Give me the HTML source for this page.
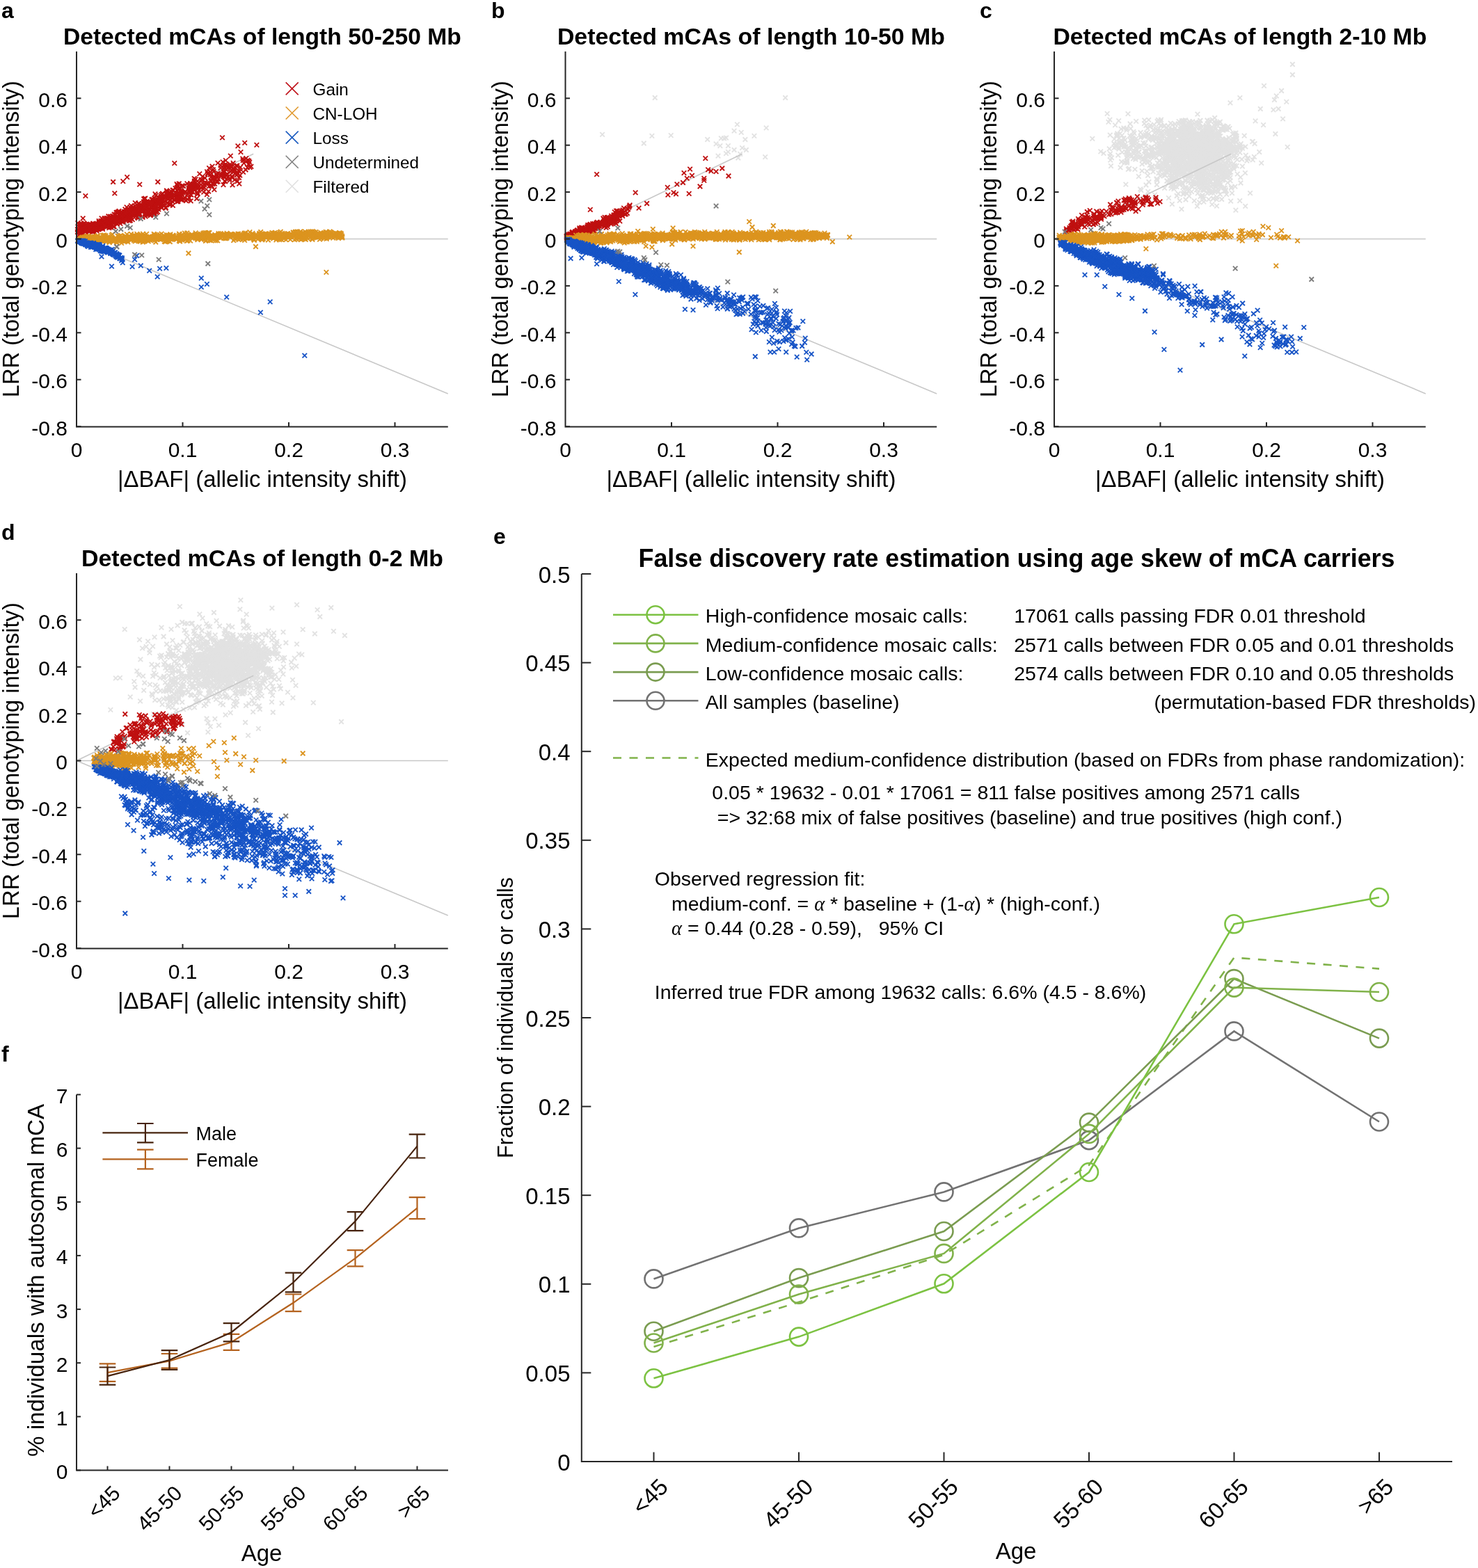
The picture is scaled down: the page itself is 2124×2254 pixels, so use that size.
<!DOCTYPE html>
<html><head><meta charset="utf-8"><style>
html,body{margin:0;padding:0;background:#fff;}
svg{display:block;}
text{font-family:'Liberation Sans', Arial, Helvetica, sans-serif;}
</style></head><body>
<svg width="2124" height="2254" viewBox="0 0 2124 2254">
<rect width="2124" height="2254" fill="#fff"/>
<defs><marker id="mgain" markerWidth="10" markerHeight="10" refX="5" refY="5" markerUnits="userSpaceOnUse" overflow="visible" orient="0"><path d="M1.75 1.75L8.25 8.25M8.25 1.75L1.75 8.25" stroke="#bf1010" stroke-width="1.8" fill="none"/></marker><marker id="mcnloh" markerWidth="10" markerHeight="10" refX="5" refY="5" markerUnits="userSpaceOnUse" overflow="visible" orient="0"><path d="M1.75 1.75L8.25 8.25M8.25 1.75L1.75 8.25" stroke="#dc941f" stroke-width="1.8" fill="none"/></marker><marker id="mloss" markerWidth="10" markerHeight="10" refX="5" refY="5" markerUnits="userSpaceOnUse" overflow="visible" orient="0"><path d="M1.75 1.75L8.25 8.25M8.25 1.75L1.75 8.25" stroke="#1754c6" stroke-width="1.8" fill="none"/></marker><marker id="mund" markerWidth="10" markerHeight="10" refX="5" refY="5" markerUnits="userSpaceOnUse" overflow="visible" orient="0"><path d="M1.75 1.75L8.25 8.25M8.25 1.75L1.75 8.25" stroke="#7c7c7c" stroke-width="1.8" fill="none"/></marker><marker id="mfilt" markerWidth="10" markerHeight="10" refX="5" refY="5" markerUnits="userSpaceOnUse" overflow="visible" orient="0"><path d="M1.75 1.75L8.25 8.25M8.25 1.75L1.75 8.25" stroke="#e2e2e2" stroke-width="1.8" fill="none"/></marker></defs>
<polyline points="941.2,140.5 1128.6,140.5 865.6,193.3 925.3,206.0 936.9,195.3 964.2,194.7 1016.7,200.5 1029.1,206.9 1036.3,198.8 1043.5,198.2 1034.9,209.7 1046.4,209.7 1055.1,188.1 1059.4,178.9 1065.2,190.4 1070.9,200.5 1083.9,195.3 1101.2,183.8 1055.1,215.5 1043.5,220.7 1032.0,224.2 1066.6,212.6 1072.4,215.5 1099.7,225.6 1063.7,221.3 1040.6,198.8 1046.4,218.4 1060.8,227.0" fill="none" stroke="none" marker-start="url(#mfilt)" marker-mid="url(#mfilt)" marker-end="url(#mfilt)"/>
<polyline points="1724.9,233.0 1719.5,206.3 1778.3,211.4 1684.6,247.2 1758.0,180.8 1737.8,210.4 1730.9,227.3 1717.1,192.8 1724.0,205.1 1700.8,191.4 1696.0,221.0 1726.6,205.3 1689.5,233.7 1749.4,238.4 1756.0,218.8 1646.7,210.2 1692.0,223.1 1735.8,219.0 1734.4,193.3 1732.0,239.4 1739.4,222.4 1747.2,233.7 1750.1,190.4 1772.3,235.5 1730.0,260.3 1750.1,230.2 1690.4,188.6 1726.2,218.5 1700.1,216.6 1762.8,222.2 1785.4,213.1 1742.4,227.8 1698.2,208.4 1726.7,222.4 1730.1,203.9 1734.1,219.8 1755.5,237.9 1752.3,207.9 1665.8,231.2 1762.2,199.9 1717.5,210.3 1716.0,213.0 1763.4,242.9 1723.0,202.3 1696.5,242.3 1697.6,188.2 1730.8,214.6 1751.2,236.2 1765.5,231.8 1725.3,197.4 1718.2,193.0 1768.4,235.4 1718.5,192.3 1764.4,229.4 1735.1,207.2 1735.1,217.5 1723.8,264.5 1736.6,249.0 1718.3,234.7 1713.2,189.9 1726.2,224.2 1713.8,218.8 1736.8,215.7 1731.5,244.7 1723.2,182.9 1724.7,224.1 1724.0,220.2 1771.2,202.5 1729.2,252.6 1715.2,192.0 1722.4,218.2 1745.3,219.3 1724.6,173.3 1725.8,188.7 1723.3,198.0 1733.4,233.6 1738.8,236.8 1740.1,229.7 1690.2,222.5 1703.8,173.1 1666.4,222.0 1748.7,207.2 1756.0,241.3 1760.6,244.9 1732.9,262.9 1757.0,232.0 1728.5,234.1 1726.5,196.7 1692.5,219.2 1710.7,192.6 1715.2,235.8 1751.5,193.4 1769.2,213.2 1718.2,201.0 1738.4,208.1 1736.0,226.8 1710.9,206.1 1688.1,222.0 1711.4,197.2 1695.0,245.8 1721.8,204.5 1726.0,238.1 1725.1,260.9 1741.0,197.4 1707.1,213.3 1750.7,241.3 1689.3,207.7 1730.9,225.2 1738.7,202.7 1710.4,228.9 1691.1,192.9 1744.7,234.5 1748.1,179.1 1747.8,254.4 1729.2,221.0 1729.3,199.3 1753.0,262.3 1738.4,238.8 1707.0,240.4 1733.4,208.9 1742.6,230.1 1734.2,227.8 1733.9,183.7 1725.8,229.5 1726.5,213.7 1707.0,243.6 1695.1,244.0 1756.3,204.3 1714.1,205.1 1734.7,221.3 1693.5,230.8 1733.1,209.0 1709.6,215.1 1800.3,229.9 1705.0,226.0 1706.3,241.1 1751.9,222.3 1756.5,199.3 1679.0,181.4 1735.4,234.0 1750.3,210.6 1700.1,210.3 1745.7,211.5 1716.7,185.3 1705.5,209.4 1721.0,164.2 1718.3,209.1 1696.1,199.1 1782.7,254.9 1718.5,226.5 1711.5,213.0 1749.7,220.7 1727.6,232.3 1761.1,201.9 1722.9,212.6 1737.7,210.1 1731.5,268.2 1733.3,218.8 1724.3,177.1 1726.8,233.7 1769.3,270.3 1713.1,197.7 1716.3,288.7 1721.1,216.0 1742.9,237.8 1738.9,205.7 1751.6,211.8 1697.4,192.0 1735.5,195.6 1725.1,173.3 1722.5,240.8 1733.2,193.7 1682.4,224.9 1735.8,224.1 1732.7,203.9 1695.3,218.3 1727.0,215.3 1766.2,207.1 1720.1,218.3 1743.4,218.3 1723.9,196.3 1710.0,190.6 1707.4,199.8 1719.9,219.7 1760.2,245.7 1748.7,247.5 1712.5,223.7 1753.1,236.7 1726.3,219.8 1712.9,240.0 1739.5,219.8 1707.6,225.3 1692.0,211.3 1760.1,217.1 1685.9,256.3 1742.2,192.5 1693.1,217.2 1728.6,205.0 1724.6,237.0 1718.9,254.6 1677.4,210.7 1728.5,229.9 1708.0,229.9 1727.7,182.3 1752.9,212.2 1712.3,215.8 1702.1,231.1 1738.4,226.2 1744.5,222.1 1788.2,195.2 1750.8,202.4 1739.6,204.0 1762.8,227.0 1705.8,196.7 1754.8,247.4 1716.5,224.9 1755.4,252.0 1735.0,220.3 1760.8,205.7 1695.1,219.2 1735.9,179.2 1717.0,221.0 1684.3,195.8 1751.6,245.1 1734.4,243.2 1706.2,209.9 1697.6,196.9 1708.9,236.4 1762.5,215.9 1727.1,221.4 1721.6,230.0 1741.2,194.6 1729.8,233.4 1735.0,173.0 1747.1,247.4 1737.4,184.3 1750.3,203.9 1701.4,203.0 1731.1,232.1 1721.3,232.4 1732.2,224.4 1728.7,228.2 1714.7,226.6 1721.5,215.4 1752.0,177.1 1743.7,215.8 1752.7,212.1 1723.4,213.9 1732.8,221.5 1710.1,211.9 1725.0,196.0 1755.9,185.5 1748.7,177.2 1733.3,242.1 1723.4,235.7 1691.5,188.5 1737.3,211.0 1740.7,225.9 1754.7,250.0 1777.3,204.2 1738.8,220.4 1752.4,240.9 1703.7,180.5 1758.3,201.4 1750.4,215.9 1762.0,201.6 1745.8,260.8 1740.6,234.8 1764.7,220.8 1714.4,196.6 1745.1,234.8 1755.5,229.9 1711.6,205.9 1703.0,207.6 1740.2,186.1 1733.0,215.0 1744.4,234.7 1745.2,237.5 1712.2,228.7 1738.1,233.8 1756.6,204.3 1721.9,206.8 1723.5,241.8 1703.8,226.0 1749.3,200.0 1775.9,227.1 1698.2,233.9 1748.1,231.3 1751.4,218.8 1717.2,205.8 1721.6,224.9 1705.8,251.9 1712.0,219.6 1734.2,202.6 1745.6,223.6 1733.1,190.8 1750.4,221.3 1735.1,210.3 1703.0,236.5 1764.3,218.7 1758.1,238.4 1713.8,264.5 1771.9,212.0 1741.4,199.1 1733.5,226.1 1775.3,214.7 1672.0,219.5 1692.9,203.9 1747.1,228.1 1724.7,217.9 1765.8,211.6 1741.9,223.4 1700.7,241.0 1715.1,204.4 1750.3,199.8 1772.3,240.4 1683.7,203.8 1736.4,218.6 1721.7,226.3 1689.7,231.8 1726.7,216.6 1693.1,193.3 1718.1,237.5 1768.5,207.4 1742.7,205.6 1749.0,258.2 1744.7,234.7 1739.0,194.4 1753.5,206.4 1703.4,211.3 1722.3,200.9 1750.7,176.6 1713.7,233.1 1720.5,232.5 1759.0,221.5 1766.7,208.1 1716.6,220.8 1711.7,229.7 1744.5,194.8 1737.2,209.5 1715.1,204.8 1744.8,230.9 1743.8,221.8 1732.8,189.4 1799.7,203.6 1762.7,253.1 1750.0,196.2 1754.9,219.5 1800.3,203.3 1756.7,242.2 1714.1,215.0 1738.5,207.3 1732.7,192.0 1717.7,211.3 1737.1,233.5 1736.9,230.3 1729.7,188.9 1719.6,248.7 1750.4,211.2 1693.6,194.5 1750.3,219.0 1731.2,203.4 1737.4,204.3 1675.3,203.2 1770.4,214.4 1690.4,205.9 1710.7,180.9 1746.1,227.1 1716.8,205.5 1721.5,241.0 1678.6,227.3 1720.8,229.0 1736.0,220.0 1747.0,243.1 1724.3,209.5 1736.2,195.7 1741.3,223.4 1713.4,208.6 1777.1,220.7 1711.1,207.6 1760.0,242.2 1732.7,230.7 1765.7,218.6 1716.1,207.9 1743.2,238.9 1738.8,202.2 1725.7,207.6 1738.4,231.6 1713.0,228.5 1729.2,258.3 1721.7,211.7 1749.0,177.3 1728.9,229.8 1698.3,242.2 1722.3,212.8 1728.8,248.4 1709.8,253.0 1762.4,202.4 1740.6,206.2 1750.9,190.3 1713.1,227.4 1721.7,231.0 1754.8,228.6 1697.4,190.7 1739.7,200.4 1733.2,186.6 1719.3,182.8 1733.2,188.3 1705.8,183.5 1736.4,212.3 1702.4,224.8 1701.0,229.0 1764.0,215.7 1714.6,202.2 1681.3,215.9 1754.0,227.8 1712.9,210.0 1648.1,217.2 1729.7,209.7 1752.9,205.2 1739.4,216.8 1771.6,193.0 1728.1,237.7 1745.2,183.8 1707.3,225.5 1735.0,188.0 1767.2,247.2 1743.0,233.9 1734.9,199.3 1684.5,206.8 1722.2,192.8 1700.7,214.8 1749.4,224.5 1713.7,268.7 1739.6,187.9 1707.5,241.6 1775.6,204.0 1703.4,221.7 1734.4,234.1 1793.2,227.2 1736.2,224.7 1710.5,211.9 1745.6,215.8 1754.5,219.1 1751.7,240.7 1684.6,185.8 1736.2,205.9 1680.9,190.3 1776.0,196.2 1732.8,199.6 1720.2,238.6 1747.0,260.1 1742.7,243.9 1703.1,191.6 1769.6,217.5 1725.4,192.6 1689.5,225.2 1764.3,242.1 1767.5,228.1 1760.9,233.9 1744.2,213.0 1710.0,175.5 1753.4,175.2 1775.2,214.0 1750.5,227.8 1769.1,242.1 1712.8,208.8 1755.4,217.5 1753.4,221.3 1695.8,237.8 1692.6,214.6 1714.1,193.5 1733.1,238.2 1742.0,224.4 1725.9,223.9 1729.7,189.9 1728.5,215.8 1733.3,180.7 1745.1,174.8 1743.0,211.1 1729.9,207.0 1737.4,227.7 1720.5,245.6 1750.2,215.3 1719.3,252.7 1770.3,203.9 1730.7,231.7 1737.8,190.0 1713.2,218.6 1723.1,209.5 1735.2,211.7 1731.7,228.1 1716.5,177.3 1703.6,218.4 1732.2,199.3 1734.9,218.4 1744.4,224.1 1761.0,208.4 1723.8,208.3 1683.8,192.3 1727.9,227.3 1687.3,202.2 1700.6,225.1 1755.8,186.7 1744.8,244.1 1715.9,195.0 1716.2,239.7 1729.2,206.8 1689.4,227.2 1742.8,213.0 1723.0,229.9 1775.2,216.1 1706.0,242.1 1755.3,229.8 1715.1,230.0 1755.7,250.3 1708.0,201.7 1748.8,242.7 1720.8,217.5 1711.6,185.7 1727.7,225.8 1742.7,211.8 1741.0,250.6 1769.0,205.9 1751.0,217.0 1668.4,220.8 1721.8,176.9 1683.7,226.4 1722.2,195.6 1746.2,244.9 1699.4,250.2 1703.1,215.8 1734.8,183.5 1724.5,219.7 1769.2,219.6 1739.1,230.8 1744.1,209.9 1773.2,191.6 1719.4,213.1 1731.3,197.0 1707.6,252.3 1737.5,201.5 1756.1,202.6 1764.1,215.0 1730.5,190.6 1714.4,206.9 1713.1,213.2 1698.0,206.0 1734.3,210.8 1763.9,241.5 1674.7,224.9 1679.3,188.6 1765.0,207.2 1692.9,231.3 1739.4,202.7 1701.3,217.7 1750.2,215.4 1750.2,226.8 1735.5,212.3 1751.2,213.1 1732.7,198.4 1745.0,223.4 1775.2,197.0 1757.8,251.5 1715.7,215.6 1712.3,211.4 1725.8,232.2 1726.1,214.3 1733.3,217.8 1717.1,214.9 1747.2,201.1 1732.5,197.1 1740.2,201.7 1731.8,239.2 1746.3,203.1 1702.9,207.7 1769.5,206.8 1739.9,230.3 1742.4,256.6 1746.3,197.1 1757.6,227.2 1749.3,218.4 1737.4,209.8 1727.3,226.3 1692.3,190.0 1736.9,233.1 1724.2,220.5 1724.2,195.6 1789.4,248.6 1687.2,233.4 1733.1,239.8 1760.9,186.2 1754.8,210.4 1761.5,205.3 1701.4,228.8 1708.8,243.7 1746.7,177.0 1724.7,216.4 1772.9,213.4 1737.3,236.5 1736.6,215.2 1742.5,190.0 1725.4,212.0 1734.8,194.8 1715.7,200.1 1731.0,216.9 1720.3,206.2 1738.1,221.7 1698.0,185.0 1696.2,263.5 1743.0,241.8 1737.4,230.7 1708.9,189.5 1706.8,198.3 1781.0,211.2 1694.5,261.6 1773.1,242.7 1712.3,205.3 1742.2,240.7 1725.8,241.0 1722.9,216.3 1754.5,240.9 1751.6,222.7 1725.1,202.6 1710.3,192.0 1781.8,213.5 1765.8,236.4 1735.5,188.3 1725.0,183.1 1739.1,227.2 1760.8,253.3 1709.0,207.0 1732.6,231.0 1713.3,254.0 1763.5,186.3 1775.4,194.5 1729.9,261.9 1745.1,210.2 1765.9,213.4 1725.0,220.6 1709.7,237.6 1757.1,243.1 1744.3,218.2 1727.2,209.1 1767.2,215.3 1737.8,222.2 1689.4,242.8 1740.5,218.8 1730.8,253.2 1777.3,198.5 1731.8,226.9 1727.2,251.9 1742.7,242.3 1738.1,222.8 1698.4,197.9 1735.1,201.4 1724.3,212.8 1765.9,222.4 1789.8,210.9 1705.4,186.2 1709.0,200.9 1712.0,226.6 1716.4,233.1 1715.6,187.4 1733.5,208.6 1758.4,181.8 1701.0,204.5 1695.3,288.4 1688.0,217.3 1758.7,208.9 1764.1,204.0 1695.4,191.3 1693.1,178.0 1735.4,215.1 1758.5,210.3 1756.6,246.2 1736.9,182.5 1748.6,224.9 1740.1,243.4 1718.9,176.0 1778.1,229.5 1732.2,183.1 1705.6,226.7 1721.0,246.2 1695.2,215.9 1732.7,221.9 1758.6,201.8 1701.9,221.9 1759.3,239.2 1782.5,212.3 1741.4,213.2 1704.5,224.0 1711.8,232.8 1724.2,182.5 1701.5,217.2 1702.3,202.0 1726.0,226.2 1727.9,237.2 1746.8,222.4 1703.5,242.4 1777.2,195.7 1757.8,207.7 1753.7,195.8 1716.6,217.2 1774.0,218.0 1724.0,212.0 1775.9,191.2 1758.0,214.4 1710.7,207.1 1721.4,228.4 1777.2,210.5 1756.3,239.8 1728.6,220.7 1737.2,178.0 1737.1,212.5 1713.7,186.8 1727.5,235.8 1716.4,245.4 1722.0,215.5 1743.5,225.1 1709.3,186.4 1734.9,204.7 1750.6,210.8 1753.7,185.1 1762.2,217.9 1747.4,222.4 1749.3,229.2 1728.0,247.7 1746.0,232.6 1710.6,208.5 1726.4,218.2 1750.3,228.3 1731.0,194.6 1743.0,243.2 1706.9,234.5 1765.2,211.4 1718.4,203.0 1741.8,293.9 1731.7,233.3 1754.7,235.3 1723.1,252.9 1708.2,236.1 1686.6,220.4 1724.9,230.5 1703.6,197.4 1745.1,230.7 1767.0,184.6 1678.8,224.8 1701.3,227.5 1739.7,184.2 1762.0,255.4 1739.6,192.6 1740.1,237.5 1744.4,205.3 1746.1,222.5 1771.8,202.7 1747.0,267.2 1702.4,237.3 1720.9,253.3 1737.3,232.3 1712.7,230.5 1726.0,219.4 1719.6,211.4 1715.4,228.8 1749.0,219.6 1722.9,213.2 1705.9,188.1 1715.0,210.1 1733.2,228.8 1783.2,206.7 1738.5,223.5 1768.0,213.5 1744.2,195.3 1680.4,197.9 1741.4,201.2 1711.7,210.5 1699.6,211.1 1706.3,239.4 1775.4,194.2 1694.2,174.6 1717.3,230.5 1760.2,207.1 1748.3,214.0 1691.0,268.7 1729.6,246.5 1719.8,228.6 1727.5,235.9 1699.6,192.5 1732.3,208.1 1671.2,211.8 1667.3,253.1 1676.8,203.8 1756.6,236.8 1755.7,208.3 1671.5,188.7 1740.3,223.8 1688.9,222.1 1737.0,190.4 1682.8,197.3 1732.4,199.1 1690.8,241.2 1684.0,229.2 1694.3,223.8 1701.4,229.9 1672.6,206.7 1641.9,229.6 1761.3,203.6 1679.9,186.2 1624.4,201.3 1606.8,223.2 1586.0,220.3 1671.4,243.5 1748.3,177.6 1631.6,212.9 1682.8,227.6 1623.7,195.0 1738.4,224.1 1709.6,208.3 1708.0,191.0 1748.1,245.1 1759.7,184.8 1735.7,242.2 1672.8,208.2 1643.7,195.6 1654.7,196.9 1627.0,200.5 1766.0,197.8 1688.0,224.6 1700.5,173.3 1703.2,247.9 1774.4,238.2 1673.5,251.5 1741.7,194.6 1689.6,203.2 1620.6,214.2 1731.5,225.5 1666.5,205.8 1677.6,216.2 1704.4,221.8 1699.3,181.0 1739.5,261.5 1669.4,191.3 1702.0,224.5 1706.5,244.1 1696.6,199.4 1722.2,218.3 1685.7,257.4 1742.8,211.5 1667.9,243.3 1639.3,225.2 1694.0,223.7 1741.8,235.5 1675.4,212.7 1671.1,213.2 1682.1,241.3 1702.1,224.6 1688.8,230.2 1707.8,189.6 1628.4,218.7 1754.3,247.4 1718.4,239.9 1662.0,226.6 1749.3,205.9 1713.2,203.6 1753.2,228.8 1649.6,252.4 1760.5,219.4 1697.4,249.6 1615.1,211.2 1725.1,247.2 1683.8,194.4 1656.0,222.8 1687.2,192.8 1619.6,234.2 1718.5,232.1 1687.2,195.6 1685.1,200.5 1751.0,207.7 1697.0,182.7 1669.8,196.2 1658.4,197.6 1693.2,237.1 1737.3,251.5 1672.9,207.7 1655.0,211.5 1731.7,223.5 1698.0,205.9 1694.6,211.7 1777.2,238.4 1648.1,223.9 1703.4,216.3 1626.1,204.6 1683.9,253.6 1718.6,203.7 1739.6,221.3 1645.9,193.6 1728.3,204.1 1726.3,220.6 1690.8,208.9 1791.9,231.2 1695.6,220.0 1661.1,185.2 1622.7,242.2 1756.6,204.4 1734.3,253.8 1680.0,218.7 1719.6,200.0 1716.6,231.7 1771.3,211.8 1671.5,218.6 1645.1,196.1 1616.0,233.6 1684.0,244.6 1634.2,205.7 1688.8,261.1 1711.6,204.7 1678.3,224.3 1658.6,179.1 1742.2,172.2 1687.8,268.7 1704.7,252.5 1732.8,245.8 1644.5,177.6 1659.5,223.7 1793.3,228.4 1689.4,220.2 1654.8,225.5 1685.6,196.3 1673.1,214.5 1647.5,191.0 1679.6,209.9 1694.8,227.2 1695.0,199.6 1716.6,211.7 1627.7,208.0 1637.0,218.7 1726.4,240.4 1678.2,224.0 1743.2,227.8 1707.5,183.8 1640.4,209.6 1716.6,237.9 1656.0,197.6 1705.7,207.9 1743.6,195.0 1778.2,250.2 1692.9,207.4 1722.9,200.8 1707.3,233.1 1726.5,244.6 1595.8,230.1 1680.4,241.8 1706.9,223.3 1713.9,215.1 1666.1,207.7 1727.8,206.0 1738.7,203.9 1698.3,227.0 1686.7,215.5 1681.6,220.3 1701.0,232.7 1741.7,216.9 1754.2,185.4 1677.2,199.2 1659.2,191.4 1664.6,172.5 1734.0,220.7 1704.2,189.5 1707.2,187.4 1714.4,192.4 1710.3,239.1 1690.8,210.7 1655.0,242.1 1671.5,216.0 1700.3,207.7 1710.9,231.7 1681.2,232.5 1679.4,220.9 1748.9,193.3 1677.4,207.2 1704.2,189.8 1683.2,212.0 1662.1,220.4 1636.4,253.7 1674.6,252.0 1663.6,234.4 1728.6,241.0 1650.8,223.6 1679.5,284.6 1721.1,254.7 1691.2,281.5 1714.9,227.2 1728.1,228.0 1631.0,243.3 1679.6,222.6 1658.2,225.5 1748.0,194.4 1691.0,240.6 1714.9,221.3 1761.6,237.5 1681.8,212.8 1698.5,175.5 1711.4,230.1 1685.2,246.0 1744.3,187.3 1727.3,194.8 1734.5,210.8 1697.4,212.1 1682.3,177.2 1681.8,260.2 1681.4,242.3 1631.9,203.2 1709.6,174.6 1727.1,226.7 1695.2,265.6 1676.3,237.9 1697.0,245.7 1704.3,195.4 1708.2,223.6 1765.1,182.0 1662.4,265.5 1709.6,231.7 1698.5,173.7 1686.4,229.5 1655.9,221.3 1672.6,210.5 1722.8,232.8 1751.6,266.2 1670.2,226.8 1713.7,174.7 1715.6,214.2 1734.4,186.5 1704.9,198.7 1712.6,225.8 1730.0,213.9 1650.6,192.4 1697.3,217.3 1627.5,198.3 1619.5,230.6 1663.8,212.1 1636.2,227.2 1715.0,211.4 1733.7,235.8 1683.7,214.6 1690.1,217.5 1686.4,204.3 1685.4,221.2 1700.6,175.2 1708.9,281.8 1677.6,201.4 1665.2,220.1 1675.4,206.4 1726.2,206.1 1679.2,227.4 1751.1,205.5 1686.1,207.5 1747.8,184.7 1649.6,195.6 1668.7,189.7 1713.7,260.9 1714.1,185.7 1689.3,191.9 1773.5,222.3 1698.1,252.0 1706.4,177.0 1673.5,180.5 1758.8,220.7 1728.1,225.8 1711.1,183.7 1632.7,174.4 1709.2,194.6 1677.5,235.6 1710.3,216.6 1730.2,235.5 1666.7,215.0 1703.6,216.8 1728.9,232.3 1701.5,214.7 1682.7,223.2 1654.8,195.7 1669.7,203.2 1646.8,228.8 1733.0,211.8 1699.2,199.6 1648.8,233.3 1695.1,230.7 1646.0,217.4 1569.8,199.3 1741.4,239.0 1740.0,277.4 1639.0,197.8 1667.8,180.5 1703.1,198.8 1680.6,195.1 1662.6,187.1 1675.6,189.1 1686.0,237.8 1674.1,238.1 1703.2,253.0 1686.4,235.4 1666.2,206.0 1696.1,243.5 1631.8,202.8 1750.2,209.1 1628.9,189.3 1692.0,246.9 1708.1,241.7 1710.9,206.3 1705.1,210.0 1743.3,218.2 1652.3,222.2 1692.5,237.7 1700.7,219.0 1676.2,227.0 1672.5,181.4 1744.1,210.1 1668.0,174.3 1676.9,260.1 1684.6,250.8 1687.0,234.5 1701.2,244.0 1687.2,265.4 1709.2,239.9 1700.2,179.1 1713.3,212.4 1662.9,197.8 1757.7,187.4 1677.9,217.1 1720.3,226.6 1701.1,195.0 1683.7,210.5 1620.5,224.0 1756.1,213.5 1666.2,212.9 1735.2,206.6 1697.8,236.2 1767.1,223.4 1758.7,181.6 1721.8,210.6 1704.5,223.6 1723.8,193.8 1645.0,233.3 1701.4,197.9 1700.5,209.2 1677.0,214.5 1704.5,270.6 1639.6,209.4 1729.0,203.4 1743.6,234.3 1645.8,205.8 1700.4,221.8 1710.7,224.3 1655.8,216.7 1657.5,186.2 1727.1,249.7 1764.2,211.4 1653.8,212.4 1696.2,185.6 1665.5,178.1 1684.0,203.5 1706.5,180.6 1693.2,228.9 1668.9,238.0 1774.3,201.9 1688.8,178.5 1687.9,207.6 1736.7,191.6 1695.2,221.1 1687.1,221.4 1730.6,206.8 1655.7,218.8 1723.0,242.0 1733.6,257.9 1719.8,204.5 1688.0,234.4 1694.5,211.3 1630.0,191.7 1689.8,247.8 1705.7,226.5 1727.4,220.4 1700.1,225.5 1680.1,213.1 1663.2,191.8 1693.0,259.6 1699.8,238.6 1740.3,223.3 1695.1,240.2 1675.9,247.9 1690.7,212.2 1676.5,231.1 1685.9,209.2 1611.7,232.5 1634.8,210.9 1649.8,275.4 1712.2,208.4 1691.8,229.4 1700.2,228.1 1738.4,209.0 1655.5,239.5 1737.7,215.0 1709.2,207.1 1667.8,217.0 1750.7,199.0 1641.1,245.7 1652.3,232.0 1686.9,240.6 1709.9,184.6 1687.5,223.5 1614.4,198.6 1683.5,219.1 1691.5,247.6 1790.3,223.2 1746.3,212.8 1699.3,243.9 1653.7,241.3 1707.5,261.4 1650.8,172.3 1702.3,224.9 1708.4,207.0 1679.6,196.0 1704.0,219.8 1682.2,189.1 1752.2,195.3 1716.4,210.7 1683.1,261.8 1665.8,199.7 1701.3,189.0 1726.6,208.6 1749.9,211.2 1711.9,220.6 1652.6,182.3 1770.8,198.7 1725.8,221.0 1744.7,179.3 1680.6,244.9 1675.4,229.1 1739.2,225.4 1650.3,225.4 1682.5,192.2 1751.5,242.8 1718.9,191.9 1680.1,262.9 1765.1,222.4 1644.7,172.8 1711.5,237.9 1686.0,264.4 1713.7,210.9 1684.2,242.6 1663.2,211.9 1702.5,202.0 1714.4,246.7 1682.5,206.4 1729.1,226.2 1677.7,189.8 1669.3,195.2 1709.4,243.9 1740.7,207.8 1616.9,207.4 1698.9,186.8 1717.9,222.1 1641.2,235.8 1661.5,206.0 1718.5,212.6 1663.5,187.8 1670.5,250.8 1758.8,202.2 1659.1,213.4 1662.1,257.6 1607.7,211.7 1653.4,179.8 1648.3,194.8 1758.6,208.5 1740.0,260.0 1647.0,222.5 1768.0,211.7 1723.2,237.1 1687.6,248.6 1724.7,198.9 1708.7,251.7 1665.7,237.9 1628.5,228.0 1694.2,221.9 1681.0,250.8 1666.6,210.6 1730.9,272.9 1654.5,219.0 1727.7,192.7 1676.3,231.6 1698.4,224.4 1652.3,237.4 1694.0,211.9 1665.0,248.8 1628.9,203.9 1693.6,220.5 1692.4,187.2 1725.4,198.0 1704.9,222.3 1656.3,201.5 1671.3,206.5 1601.2,212.4 1652.3,223.5 1742.9,235.9 1751.0,236.0 1722.8,242.2 1705.6,222.4 1716.3,204.2 1712.5,179.0 1629.3,209.0 1661.5,198.1 1738.7,173.4 1738.5,257.4 1703.2,172.9 1682.6,226.1 1679.8,230.9 1673.9,211.8 1659.5,280.2 1622.0,218.0 1699.8,198.9 1677.3,260.2 1686.2,198.0 1758.5,182.6 1716.4,193.1 1667.9,201.9 1716.0,218.6 1637.8,225.7 1733.7,180.5 1704.1,226.0 1686.9,271.7 1715.6,200.1 1748.9,214.3 1676.8,234.4 1657.1,246.8 1773.6,201.2 1694.8,194.1 1750.3,192.9 1668.8,244.1 1708.4,239.4 1683.8,187.3 1669.0,180.9 1752.5,227.4 1706.9,222.8 1617.9,265.2 1685.3,236.8 1659.7,220.4 1648.3,246.2 1672.2,195.7 1676.2,183.4 1695.4,218.3 1664.3,240.3 1624.1,178.0 1674.0,239.3 1727.2,238.4 1642.7,205.3 1717.4,221.6 1711.4,210.8 1677.2,219.4 1705.8,237.1 1665.9,197.9 1679.0,242.8 1655.6,238.7 1711.6,239.6 1745.7,169.5 1668.5,172.1 1739.2,234.3 1613.6,203.2 1660.7,200.6 1655.9,198.8 1759.0,184.7 1671.8,210.5 1723.5,199.9 1616.7,201.5 1698.4,229.1 1715.4,188.6 1692.6,244.9 1591.2,163.3 1700.7,278.6 1724.7,184.3 1744.0,231.7 1709.1,239.7 1630.2,217.4 1686.1,235.6 1728.2,214.8 1663.1,174.5 1715.4,225.9 1675.9,245.4 1697.5,204.0 1722.7,176.0 1667.2,202.7 1802.4,225.4 1699.8,224.8 1707.0,244.4 1665.9,231.1 1696.4,229.8 1638.7,271.9 1636.0,218.7 1704.9,238.5 1690.7,209.0 1594.3,213.8 1612.6,218.9 1682.3,256.0 1691.4,254.5 1717.1,232.6 1647.0,266.0 1716.5,207.8 1682.3,230.2 1674.7,206.4 1688.6,249.2 1731.4,218.4 1715.2,241.5 1727.8,259.7 1683.2,270.7 1649.8,225.4 1673.0,209.8 1676.3,210.2 1710.2,219.8 1722.8,213.5 1698.9,262.3 1734.8,209.6 1698.3,244.0 1730.7,246.3 1713.1,268.3 1721.9,211.6 1691.5,236.4 1646.9,180.4 1639.1,190.5 1768.4,211.0 1708.7,217.2 1710.9,187.9 1687.7,207.6 1676.6,235.0 1803.1,206.5 1651.4,214.0 1691.6,195.9 1692.0,251.7 1651.0,261.5 1645.7,222.8 1667.3,215.0 1680.9,258.7 1675.5,229.6 1724.9,201.3 1649.2,184.7 1709.4,203.3 1749.8,271.8 1727.9,203.2 1650.7,288.9 1581.8,217.8 1726.1,212.5 1712.9,250.4 1671.7,211.8 1742.7,227.2 1678.6,192.3 1698.1,187.2 1654.6,199.7 1706.1,223.4 1677.6,201.5 1735.0,229.6 1702.1,213.8 1637.2,211.0 1720.3,202.8 1662.4,257.0 1679.1,206.1 1696.0,230.9 1684.5,252.2 1698.7,245.7 1718.7,222.9 1675.3,218.2 1773.1,225.5 1666.9,240.3 1673.5,232.2 1768.8,206.9 1784.6,229.0 1695.4,227.3 1686.9,235.1 1653.2,223.0 1737.4,251.7 1700.6,222.9 1661.8,239.8 1709.4,219.0 1746.1,203.8 1720.1,194.7 1777.9,214.0 1738.1,231.2 1710.7,249.2 1692.8,215.8 1714.9,205.2 1740.3,205.5 1726.6,249.8 1734.1,220.6 1702.5,205.6 1723.1,236.2 1740.2,185.4 1687.7,220.8 1644.7,216.9 1759.6,214.7 1716.2,189.6 1677.3,242.1 1702.9,259.4 1684.6,185.4 1629.2,220.9 1687.0,233.9 1639.9,273.6 1701.7,207.7 1689.8,194.6 1737.1,217.9 1689.4,267.6 1708.2,219.7 1682.6,224.5 1679.6,261.7 1700.5,240.3 1671.9,237.1 1701.9,183.9 1678.2,230.7 1666.5,219.0 1703.5,223.3 1740.2,198.2 1683.8,206.8 1639.9,196.4 1670.6,219.3 1762.3,212.3 1663.2,259.4 1739.1,233.5 1684.9,179.3 1722.1,228.2 1690.0,253.2 1634.1,224.9 1678.3,244.7 1774.3,217.2 1689.0,235.3 1715.5,195.0 1681.2,237.4 1689.0,184.1 1706.3,249.8 1712.0,180.8 1693.4,231.1 1687.2,213.8 1668.9,220.8 1644.1,228.5 1632.9,217.3 1719.2,196.2 1623.3,223.2 1747.5,226.5 1726.7,230.1 1682.8,266.9 1650.2,199.9 1695.1,219.7 1694.9,231.8 1736.9,207.0 1665.9,188.5 1679.7,204.0 1692.1,244.2 1683.6,211.4 1670.4,233.1 1629.0,199.9 1631.8,229.0 1668.4,201.4 1685.6,197.3 1732.1,220.8 1781.9,219.3 1759.3,254.3 1709.1,178.0 1765.5,230.5 1689.7,257.7 1674.1,251.5 1782.0,208.5 1746.8,265.5 1742.8,248.1 1712.8,235.7 1724.7,238.3 1703.2,269.4 1727.2,263.3 1690.7,245.6 1728.7,254.1 1725.8,257.1 1728.7,257.6 1728.1,261.6 1768.7,289.1 1737.9,252.4 1749.9,263.7 1760.5,252.5 1763.5,254.3 1758.9,251.2 1733.7,259.2 1722.5,255.2 1729.1,266.3 1735.3,264.6 1745.1,251.0 1743.2,285.5 1767.4,247.7 1742.9,266.4 1781.7,288.6 1766.1,253.2 1735.1,278.2 1762.6,279.4 1686.1,266.1 1773.2,239.3 1753.4,279.4 1753.1,263.1 1710.5,255.3 1796.6,277.6 1739.8,253.1 1742.1,275.0 1768.0,255.3 1741.0,268.6 1727.6,248.8 1758.5,257.1 1724.2,250.8 1760.2,253.3 1747.8,264.3 1768.1,259.9 1720.2,264.3 1770.5,277.7 1751.0,260.6 1785.4,239.2 1731.7,258.5 1783.0,263.0 1759.4,274.5 1761.1,274.7 1730.1,273.6 1756.4,259.2 1758.7,269.9 1728.0,244.3 1721.3,277.8 1729.2,267.4 1774.9,268.2 1748.2,257.3 1764.2,262.7 1750.9,253.8 1747.4,268.9 1749.5,245.7 1736.6,273.9 1770.0,268.7 1748.5,286.8 1749.6,261.5 1716.7,260.9 1751.3,264.4 1731.2,262.4 1734.7,260.7 1766.2,248.5 1722.7,248.4 1740.9,255.0 1757.9,258.4 1768.6,247.4 1734.4,247.8 1751.5,258.5 1619.6,219.4 1610.0,203.9 1618.9,184.4 1621.9,212.1 1619.8,222.2 1607.7,173.7 1607.9,214.2 1593.0,175.4 1605.0,206.3 1616.8,233.5 1600.9,206.5 1625.8,212.8 1626.6,199.8 1608.2,204.9 1621.4,243.4 1597.5,226.8 1601.3,199.9 1608.2,198.8 1612.1,205.3 1610.1,240.8 1603.2,208.4 1632.1,223.2 1615.0,199.1 1614.9,184.2 1619.0,226.6 1613.8,203.8 1609.6,192.2 1606.3,193.7 1595.3,194.1 1627.3,195.1 1602.6,179.9 1595.0,224.6 1603.8,211.2 1595.6,220.9 1632.4,199.4 1615.7,210.7 1626.4,207.7 1626.8,224.1 1617.8,218.3 1617.8,210.8 1604.6,194.4 1611.1,185.4 1605.8,192.0 1612.4,194.7 1604.9,196.2 1624.9,184.9 1619.8,232.0 1610.9,209.4 1594.9,172.2 1619.0,187.2 1700.0,269.7 1735.3,269.5 1753.9,265.3 1707.9,274.4 1743.8,285.2 1723.8,290.8 1755.7,286.5 1760.5,270.3 1737.0,286.7 1746.1,276.2 1729.9,290.1 1721.7,259.3 1704.0,287.0 1737.3,266.0 1728.4,283.7 1721.4,267.3 1728.3,281.2 1725.9,269.2 1706.8,253.0 1718.2,262.2 1755.5,269.6 1724.8,272.2 1761.2,249.4 1704.3,259.9 1699.8,264.6 1732.8,269.9 1747.3,274.2 1715.4,263.7 1743.9,256.7 1750.8,275.1 1753.9,268.7 1727.5,281.0 1728.9,266.7 1693.2,278.5 1730.5,263.0 1736.3,274.7 1761.5,272.9 1701.7,276.5 1711.1,262.6 1707.7,270.8 1750.0,263.5 1673.6,270.4 1705.9,278.3 1775.9,302.1 1744.6,272.4 1700.4,279.2 1728.7,273.1 1748.8,283.4 1742.3,276.7 1725.1,282.5 1712.4,275.6 1748.5,296.2 1729.9,285.9 1748.0,254.9 1738.8,275.0 1719.6,272.8 1762.1,249.8 1718.9,263.4 1739.6,267.4 1715.9,264.6 1857.4,92.5 1857.4,107.5 1816.5,123.3 1841.6,130.5 1834.3,137.8 1831.5,143.5 1848.8,146.4 1781.9,140.6 1768.0,147.8 1811.3,156.5 1830.0,157.9 1837.2,156.5 1843.6,170.9 1832.9,192.5 1850.2,211.3 1621.0,163.7 1596.5,238.7 1684.4,293.4 1698.0,300.6 1720.5,296.3 1789.7,296.3 1809.8,218.5 1812.7,234.3 1804.1,173.8 1815.6,179.6" fill="none" stroke="none" marker-start="url(#mfilt)" marker-mid="url(#mfilt)" marker-end="url(#mfilt)"/>
<polyline points="368.1,933.4 322.2,941.6 366.7,960.6 351.7,947.3 324.6,940.5 315.3,970.5 331.4,950.8 367.3,916.4 335.8,932.9 318.0,957.3 425.7,957.7 293.3,954.1 329.8,954.7 350.5,935.2 307.7,948.7 335.6,930.2 324.5,936.1 295.9,934.8 348.2,936.0 305.1,944.3 315.5,946.2 369.2,936.5 305.7,968.0 352.2,942.2 367.9,975.6 362.7,966.6 348.6,929.4 329.5,964.6 298.0,926.3 339.8,973.9 347.9,955.1 322.1,932.9 309.2,912.8 359.3,942.8 307.3,926.8 347.7,967.8 322.8,928.5 290.2,945.5 379.4,957.5 352.3,949.4 350.4,953.6 297.5,945.0 332.2,961.3 343.2,933.5 315.5,958.7 380.2,928.9 281.0,952.1 354.6,930.0 284.4,945.7 293.1,958.9 300.8,969.7 350.9,918.8 316.1,936.1 317.2,932.6 310.7,969.3 295.2,934.4 310.9,960.7 308.5,940.3 326.4,924.8 324.7,950.8 270.0,929.8 317.4,961.1 367.6,962.8 321.9,971.2 332.6,931.9 315.0,975.2 315.9,965.1 332.4,918.8 297.8,986.0 329.7,977.1 289.1,931.4 343.1,954.3 291.5,926.3 351.6,946.6 361.3,951.9 290.0,959.2 352.1,935.0 322.7,948.4 365.1,933.2 319.3,955.2 326.0,960.0 325.7,950.0 367.5,968.1 281.2,961.5 354.2,955.0 335.9,968.3 320.2,927.9 327.0,948.2 358.6,919.0 355.6,948.5 379.1,940.9 316.0,962.7 282.2,941.4 318.3,938.0 328.0,947.2 321.4,946.6 366.3,957.4 394.8,934.1 343.5,923.6 285.0,922.1 361.3,968.1 315.8,927.6 334.4,941.0 355.9,930.2 343.1,963.6 331.3,939.3 340.9,969.4 353.7,937.0 350.1,953.8 389.1,961.5 252.3,965.1 312.0,928.8 317.3,942.6 355.4,947.5 339.1,918.1 356.1,960.8 294.6,955.4 327.2,957.4 350.5,925.4 331.7,952.0 322.3,956.2 340.5,966.2 377.6,940.1 276.2,960.3 376.0,981.9 340.6,941.6 310.0,942.0 350.9,943.4 334.2,923.8 365.7,942.8 311.3,976.2 359.2,933.3 308.6,945.7 341.7,969.0 351.9,958.4 330.9,952.8 350.4,943.3 317.0,947.0 361.8,949.1 319.5,960.5 314.1,950.3 330.0,964.8 331.7,917.6 310.5,962.7 354.6,940.1 329.8,949.2 349.5,941.8 292.8,959.8 297.6,947.0 325.9,959.5 306.3,935.5 329.5,952.2 348.3,969.6 363.2,967.7 372.8,943.0 354.3,951.4 314.0,942.8 348.0,947.0 319.0,949.3 347.8,969.4 304.7,958.8 369.5,973.5 344.3,974.8 325.4,927.8 296.4,954.2 340.8,941.6 319.0,921.9 340.0,930.9 313.9,940.6 318.5,977.1 350.0,950.5 373.1,945.9 299.0,948.6 327.9,936.5 343.7,952.0 329.1,947.5 321.4,921.8 391.7,940.2 310.5,1005.3 343.0,959.6 320.0,947.5 330.6,960.2 271.5,932.8 357.2,950.6 327.5,963.8 307.2,922.2 378.1,936.8 325.8,942.4 316.7,944.4 310.4,940.5 362.1,953.6 334.0,966.1 324.9,954.9 297.5,966.2 308.9,966.6 342.6,939.2 332.7,953.7 278.9,942.9 309.7,960.1 339.4,943.3 405.7,946.0 312.9,977.4 273.2,946.2 354.0,923.1 320.3,951.1 297.6,954.1 348.5,940.7 327.0,950.3 307.2,966.1 297.8,940.5 329.9,946.0 335.6,937.4 285.3,954.7 359.9,947.1 299.0,933.8 371.1,946.6 342.2,979.6 328.2,920.8 342.3,926.2 317.3,954.8 331.5,926.2 377.7,981.6 317.8,924.4 355.3,927.5 309.0,940.7 332.8,967.1 359.3,962.5 300.8,958.7 342.3,954.2 275.2,970.8 302.3,919.0 322.0,953.8 357.1,973.0 352.6,931.5 308.6,954.5 329.7,969.5 338.3,970.0 291.1,947.0 344.7,980.1 369.8,957.6 366.9,967.0 317.3,931.5 322.3,936.7 308.0,936.6 319.9,978.5 326.5,910.6 351.7,918.8 335.5,962.5 308.2,951.7 355.4,900.2 357.1,942.7 316.8,944.2 326.6,969.3 330.5,917.5 288.9,940.5 336.9,966.9 351.5,961.9 385.9,934.0 338.5,944.5 325.6,924.8 329.3,971.9 349.8,942.2 354.8,970.3 310.1,962.5 338.5,934.6 351.0,946.9 279.1,960.0 370.4,956.6 327.6,974.5 356.9,967.8 332.1,954.7 326.8,960.8 331.4,937.6 341.2,939.5 356.9,959.3 326.3,954.9 303.2,931.1 314.6,948.1 307.1,936.2 354.0,940.2 307.6,970.7 374.5,933.8 337.0,938.6 331.1,958.8 368.8,950.7 323.6,952.2 325.6,925.6 354.6,949.0 353.5,943.3 306.6,936.1 399.9,940.2 348.9,944.6 299.7,963.3 328.9,980.5 358.6,951.3 339.6,973.9 356.8,951.4 397.5,925.1 358.8,950.5 387.9,970.7 352.1,972.6 315.8,935.0 374.6,986.4 314.9,937.4 359.7,937.6 351.5,941.0 311.1,973.4 314.9,956.2 329.2,964.6 344.9,913.1 370.1,948.8 336.2,947.8 385.5,961.1 357.9,941.9 317.0,969.3 317.7,938.3 336.7,926.7 320.4,922.7 332.1,970.5 355.5,962.1 341.7,936.8 361.0,967.9 316.1,946.9 311.4,947.7 297.0,925.7 286.7,940.7 322.7,951.5 336.7,953.1 329.5,940.5 335.1,966.1 390.1,973.4 305.5,936.4 327.7,956.4 321.8,924.7 310.5,956.6 371.6,933.9 334.2,947.2 368.9,952.6 304.7,945.8 385.8,967.0 396.3,937.0 311.7,942.1 334.9,955.2 331.7,949.3 350.3,954.0 300.1,946.4 347.9,936.6 354.9,960.7 319.1,951.1 274.2,964.6 316.9,971.7 324.6,944.1 356.0,937.7 318.6,942.4 304.3,939.2 352.0,917.2 345.4,976.8 355.2,956.6 336.6,988.1 363.9,940.7 349.2,959.6 287.2,954.4 340.8,948.8 356.3,966.0 336.4,950.0 374.9,948.7 323.2,952.6 354.3,913.3 302.3,938.2 335.5,937.9 320.7,977.0 308.5,959.6 300.2,962.8 341.5,960.2 347.1,946.8 318.4,977.0 302.1,946.6 311.8,926.8 356.0,960.3 303.1,969.3 366.3,951.7 290.5,956.0 343.1,965.7 353.5,975.0 368.5,959.5 324.0,977.5 314.9,954.8 297.2,984.3 360.1,927.5 332.1,965.5 323.2,954.7 324.3,952.0 342.4,929.1 336.5,967.6 367.5,946.8 277.5,933.8 358.4,939.7 321.3,946.2 333.5,951.7 327.2,935.2 333.4,935.0 356.1,956.8 341.7,948.9 296.7,982.2 333.9,943.1 333.1,962.2 345.7,978.5 336.8,946.8 333.6,966.2 363.4,955.0 306.4,950.9 394.6,976.3 320.5,933.8 307.8,940.2 356.9,921.1 364.8,948.1 369.6,966.1 375.2,945.9 348.7,963.5 337.6,937.6 346.0,968.7 335.8,948.2 321.2,942.2 379.2,976.8 385.0,949.9 336.1,959.4 329.7,952.0 322.7,961.5 290.5,952.0 317.6,930.4 322.0,954.6 335.4,957.8 308.9,956.4 284.6,946.3 353.6,979.6 382.5,938.1 278.5,952.0 332.3,953.5 359.1,932.3 304.5,930.6 297.2,960.9 336.9,961.0 329.7,952.3 318.9,923.8 380.4,945.3 376.5,953.9 353.8,960.2 334.3,969.4 327.4,957.4 360.1,965.7 329.9,977.1 376.5,911.9 370.0,966.2 320.0,942.9 356.9,957.9 378.8,953.4 354.2,933.3 311.0,935.3 329.3,957.1 327.4,947.0 339.9,961.9 337.6,943.7 327.2,985.0 360.0,945.8 373.4,983.8 321.7,937.6 297.1,959.1 347.0,968.3 337.2,928.6 348.5,934.2 318.7,956.6 345.1,968.6 312.6,972.2 366.7,959.0 382.7,967.0 312.2,931.0 267.3,943.0 324.2,973.5 323.3,940.9 342.8,946.0 338.1,921.6 351.0,946.8 410.9,924.0 322.6,955.8 327.6,973.9 349.4,955.0 287.8,952.6 359.0,943.4 321.0,958.8 299.0,931.8 315.0,942.4 351.5,985.0 360.6,928.6 371.6,940.6 349.8,927.1 318.5,969.9 353.1,946.0 335.9,929.1 401.3,929.4 282.5,967.8 381.7,960.7 359.0,962.8 349.3,948.7 335.8,964.4 323.1,971.1 312.3,960.6 296.3,923.6 393.4,917.6 363.7,925.8 356.6,954.0 348.3,925.3 286.7,932.0 331.0,950.2 341.8,935.3 369.9,928.7 311.5,965.2 346.0,957.5 332.2,962.3 339.5,964.5 317.6,973.0 348.5,948.8 340.9,946.3 288.3,920.7 371.5,945.4 398.1,939.5 315.1,966.4 369.9,960.2 312.4,973.3 324.6,967.0 386.4,968.6 344.3,957.9 379.9,951.5 346.9,943.0 366.3,948.9 334.6,933.6 377.8,955.5 387.4,947.8 357.5,916.0 323.9,905.0 329.3,937.2 313.8,941.4 355.6,944.1 353.4,970.2 320.5,938.8 364.1,928.3 323.8,955.2 388.5,965.3 361.7,975.8 382.4,932.5 320.2,944.9 312.6,942.0 290.2,973.6 357.0,960.3 309.2,949.3 375.9,960.8 343.5,943.1 360.2,945.6 305.0,948.4 323.7,940.8 344.6,944.8 359.6,954.7 305.0,952.8 349.0,973.0 317.4,962.9 361.6,947.7 333.6,913.2 331.7,924.7 351.5,940.6 371.0,942.6 333.3,927.5 372.8,942.7 312.9,950.6 347.4,938.4 309.6,946.4 345.5,947.2 315.2,937.3 340.7,934.7 356.5,946.6 313.8,953.0 292.5,931.7 335.0,915.5 353.8,933.1 346.0,956.8 315.3,922.4 362.2,963.6 331.9,939.1 360.3,950.6 315.9,936.0 351.5,958.0 371.3,949.3 321.8,954.5 331.8,917.0 356.3,960.2 353.7,921.2 349.2,943.1 336.3,956.9 297.5,945.4 339.4,956.6 304.8,951.2 341.7,949.9 276.6,935.4 378.1,964.7 390.5,966.6 351.4,939.8 316.7,934.0 331.3,951.7 363.2,936.2 357.1,950.7 320.7,961.6 371.6,959.2 358.8,972.3 353.7,955.9 329.9,931.6 339.3,934.6 320.3,957.0 344.4,979.2 321.6,942.7 370.7,933.7 340.3,970.9 344.9,946.4 348.1,959.6 347.9,965.8 301.1,932.6 373.6,942.6 341.9,939.5 324.5,956.9 313.3,958.9 321.0,940.4 322.8,957.4 339.6,919.7 316.2,954.0 342.1,953.9 343.1,948.4 320.7,925.1 398.3,946.8 336.0,931.2 348.1,971.7 342.1,943.7 334.8,945.0 357.1,946.6 375.9,957.0 337.1,949.6 316.0,957.0 353.6,933.5 281.3,966.0 343.1,940.5 333.8,960.5 347.5,952.1 298.4,965.5 327.1,947.2 252.3,987.8 265.7,939.8 303.9,979.6 370.7,999.1 296.0,1012.0 315.6,900.0 365.2,1011.6 290.0,906.7 326.0,1002.4 325.0,959.4 288.5,970.3 322.9,931.3 356.6,987.8 356.7,980.4 299.5,943.1 433.8,941.2 327.8,985.5 301.9,990.8 283.5,982.9 272.6,948.3 347.1,959.9 194.1,988.0 307.0,984.9 256.5,993.7 306.3,964.1 311.9,938.7 259.3,968.5 272.5,973.4 365.7,943.8 290.5,973.3 313.1,934.7 300.3,967.5 347.6,941.7 363.7,1023.4 351.2,995.6 336.2,967.7 336.5,920.4 264.3,922.9 367.4,980.8 290.2,955.3 276.6,969.1 297.8,912.5 280.5,914.6 330.3,963.3 343.2,953.6 366.2,919.8 309.4,935.8 288.7,983.4 301.8,946.8 264.9,977.1 282.9,1009.4 395.8,969.9 281.5,963.7 294.3,941.9 339.3,996.3 323.9,916.5 345.0,926.8 277.5,959.3 269.2,915.6 367.8,989.2 285.3,941.1 309.3,975.7 322.1,950.5 237.0,952.2 305.4,960.2 286.4,900.9 334.9,927.1 300.4,945.6 220.4,1026.4 345.8,984.2 207.7,981.5 296.3,928.6 284.6,986.6 288.0,997.2 312.8,982.4 352.6,1038.5 277.3,919.3 288.0,927.5 344.0,951.9 334.2,930.5 342.9,961.3 327.0,975.4 303.2,959.4 293.1,962.8 293.7,971.9 350.7,983.0 375.1,940.0 395.2,939.7 270.3,995.5 303.5,949.6 313.5,934.8 306.5,968.2 266.7,949.2 403.5,963.3 375.8,957.8 306.5,978.7 294.5,987.2 313.0,934.8 263.3,923.2 299.3,1007.6 345.4,939.1 381.9,913.1 350.2,902.8 367.1,958.6 269.7,940.3 179.2,904.7 370.5,931.2 321.0,927.9 310.0,989.5 382.7,966.7 273.5,959.3 273.7,921.5 282.5,954.2 380.5,979.5 352.7,964.3 239.3,991.3 382.3,961.9 314.0,980.3 331.2,973.3 281.3,942.5 391.6,999.7 331.6,970.4 368.2,984.3 271.9,927.6 342.5,927.0 317.2,954.1 304.0,935.4 279.5,978.1 284.2,971.8 264.7,996.3 285.7,977.2 312.3,925.6 337.7,988.0 248.3,940.0 270.2,937.5 287.8,961.4 245.0,959.3 301.3,990.6 302.3,1044.3 305.4,972.2 330.6,1003.2 352.7,953.2 346.8,969.6 325.0,944.0 338.1,946.8 280.1,999.8 274.0,973.1 340.4,972.9 337.0,935.5 405.1,1010.8 303.9,954.2 272.1,940.0 325.5,959.0 294.6,979.7 276.1,982.0 370.4,1003.6 394.0,927.8 328.9,946.7 286.0,1006.3 324.1,1027.7 311.1,940.7 255.2,956.7 348.3,913.3 327.8,934.9 366.0,933.1 290.2,956.5 312.7,923.9 308.6,987.5 241.3,957.9 418.6,952.0 225.9,987.2 265.5,951.6 298.6,922.5 248.0,960.4 331.2,1024.6 294.1,962.6 316.7,975.3 323.4,953.7 316.8,953.0 317.8,974.7 307.4,880.5 331.7,922.5 347.8,941.8 303.1,951.6 295.1,1003.1 297.1,1033.0 326.8,978.5 298.5,971.5 297.9,980.0 250.6,1004.7 395.1,930.2 262.2,944.9 384.8,964.3 347.7,968.5 357.3,902.8 325.2,972.5 335.0,912.1 326.5,982.5 339.3,984.9 349.7,891.9 378.6,974.7 272.6,965.5 335.1,941.1 382.7,988.1 373.4,1019.5 271.4,974.5 327.9,926.9 326.5,916.4 325.2,924.6 219.6,929.1 351.4,993.2 246.8,968.2 407.5,958.8 342.8,985.7 310.9,960.1 341.9,960.6 321.2,934.4 292.6,940.9 311.3,960.5 329.9,924.6 281.2,1009.2 345.5,963.2 362.6,943.1 360.9,988.7 365.4,927.9 370.6,991.2 345.4,962.1 371.1,1015.8 318.2,943.1 332.9,947.7 375.9,934.3 398.0,922.2 300.7,967.0 253.9,927.9 406.9,969.1 364.9,940.4 393.4,991.0 354.2,883.2 326.0,972.0 288.7,960.9 274.9,959.5 377.7,940.6 357.8,1011.7 329.4,947.2 268.4,972.2 293.5,951.6 289.4,948.7 303.0,962.1 192.8,979.6 325.5,926.1 382.6,945.4 292.6,917.3 317.0,971.3 327.7,933.9 273.2,937.1 334.3,978.9 281.1,959.1 297.1,971.5 326.7,955.2 313.5,971.6 320.0,962.0 276.5,926.0 347.1,965.7 269.5,949.1 352.1,952.2 295.3,967.8 265.1,942.9 312.1,927.7 270.6,994.8 293.2,1014.4 309.5,949.1 349.5,993.7 350.1,970.9 336.5,940.2 303.8,934.4 250.6,951.0 306.3,946.5 302.2,949.4 310.4,955.7 293.3,925.6 293.5,985.2 350.5,925.6 258.7,927.4 316.3,987.0 370.0,982.1 282.9,1002.9 273.6,963.5 306.3,940.1 301.2,993.7 327.2,956.5 374.1,955.7 310.5,934.0 339.9,971.4 291.0,888.6 294.9,975.1 328.5,899.5 287.1,985.5 367.5,912.8 298.5,979.8 308.9,1033.4 271.1,951.1 297.2,924.5 272.8,1017.6 294.9,946.2 239.5,926.0 315.4,997.0 390.9,874.2 235.1,915.0 390.6,920.0 310.6,938.6 353.9,898.7 272.4,984.1 403.2,990.0 269.4,957.7 312.5,947.0 382.8,912.5 260.7,973.4 215.0,938.4 312.6,977.8 282.6,990.0 273.7,960.8 276.2,896.0 252.4,931.3 376.3,1000.3 368.4,967.6 256.7,1002.0 311.1,892.4 295.8,956.0 363.4,954.1 279.4,910.7 385.9,940.1 315.8,988.8 281.5,975.7 311.7,943.4 290.3,969.2 413.5,995.2 322.0,927.1 294.6,968.2 319.7,990.8 379.6,938.8 273.7,998.5 242.3,956.8 372.5,992.8 342.2,987.2 295.9,967.4 312.0,950.7 363.7,939.8 196.8,964.6 370.9,965.8 307.8,1001.6 344.9,956.9 313.2,970.1 450.3,1010.1 288.4,969.2 363.4,973.3 201.6,1007.8 317.1,962.3 349.8,971.5 247.8,982.2 226.6,956.0 319.5,926.2 359.6,915.7 367.2,953.5 285.3,993.3 330.5,989.4 253.4,1008.4 391.7,986.7 290.2,940.1 371.1,915.9 303.4,944.1 300.8,951.6 386.3,937.3 277.0,987.2 371.9,935.8 299.6,977.0 276.6,983.0 278.4,907.3 364.6,946.9 311.6,997.2 299.6,984.8 248.9,963.2 366.7,926.3 361.2,938.5 329.3,962.1 349.3,997.4 172.4,974.3 291.7,956.9 322.2,966.5 319.7,982.9 290.1,906.9 325.5,929.8 282.9,960.4 286.2,995.8 260.3,991.9 321.1,936.1 283.3,960.2 292.9,937.3 375.9,947.8 313.1,963.8 313.4,948.6 247.5,942.7 292.0,924.5 358.2,912.0 339.3,953.7 317.3,965.2 307.3,978.0 317.9,934.9 332.5,937.8 300.7,997.3 205.6,971.9 401.5,985.9 365.0,942.4 308.2,938.0 377.1,924.9 257.5,989.1 371.7,925.4 323.4,907.6 354.1,937.0 299.8,997.3 321.6,960.2 340.7,966.4 361.1,962.9 337.6,958.0 334.5,954.4 288.9,917.4 390.5,1009.2 324.1,954.8 305.0,995.7 300.7,912.6 262.1,975.6 282.5,924.1 248.0,920.7 323.9,967.4 311.4,990.2 324.6,1000.3 260.0,999.2 296.4,951.3 286.7,982.9 358.6,941.5 249.3,943.2 248.1,966.7 371.5,955.9 330.8,984.8 246.0,904.6 374.3,993.4 380.6,942.0 365.2,1003.6 224.2,993.7 320.2,925.0 276.9,957.9 303.2,979.7 245.4,935.7 391.2,937.3 284.5,950.3 327.1,981.7 350.3,986.6 341.9,946.8 333.0,984.2 297.7,1003.5 324.6,987.0 305.2,937.6 214.9,934.4 358.9,968.0 287.3,984.1 291.9,972.3 296.7,948.0 253.8,931.8 261.5,997.5 235.5,955.1 335.5,1015.3 366.9,925.3 318.2,949.7 264.5,940.5 372.4,1014.6 300.8,996.5 244.7,944.9 232.0,902.1 322.8,994.1 378.4,963.6 297.9,926.0 286.9,914.9 302.8,971.6 277.4,953.6 290.7,964.0 325.9,971.5 282.9,948.7 355.8,951.6 271.8,979.4 345.9,956.5 330.0,951.5 297.8,978.8 301.7,900.8 300.4,996.8 388.6,973.1 279.1,937.0 367.0,954.6 359.1,996.4 299.8,976.3 385.9,906.8 210.1,929.6 325.5,965.3 320.4,1013.1 315.6,982.6 351.6,954.0 297.1,977.1 306.5,960.4 365.3,950.9 309.6,971.3 269.2,896.3 339.8,990.0 311.1,975.9 289.9,946.9 339.0,934.5 280.8,924.0 271.5,968.1 303.2,964.4 306.3,965.2 317.0,1010.9 261.7,894.5 390.4,938.5 344.4,937.0 321.0,988.2 324.8,952.5 204.6,931.9 355.4,966.2 269.7,972.1 336.8,1008.0 262.1,967.6 358.0,946.9 291.1,945.1 305.3,935.8 382.0,974.5 358.2,984.3 254.2,953.3 284.0,956.0 323.2,1001.0 304.4,963.0 350.2,974.8 284.6,927.7 232.1,942.0 274.6,896.4 306.6,919.3 338.8,971.0 347.4,997.1 369.5,952.1 325.0,924.5 305.8,962.8 346.9,994.1 310.3,955.2 294.1,987.4 294.1,958.1 355.6,923.4 380.1,933.0 372.6,952.4 244.3,1027.9 362.8,977.4 265.4,952.9 299.7,968.7 340.5,966.4 256.0,946.9 260.7,956.9 281.7,952.5 389.0,982.1 362.1,1006.4 275.2,999.5 320.8,950.6 320.7,976.5 328.5,938.5 283.5,927.5 378.1,962.3 298.0,978.2 350.8,958.2 240.6,984.7 332.0,984.7 321.1,982.6 374.5,955.5 200.5,919.6 339.2,1013.6 350.5,945.9 303.1,981.9 372.6,974.5 407.3,949.8 353.5,1014.4 350.4,980.1 374.1,959.7 334.1,947.7 368.8,931.3 341.2,922.4 284.6,977.1 268.5,947.0 366.5,946.6 341.1,975.1 285.3,949.7 316.0,979.4 379.3,941.1 239.4,944.6 275.1,987.3 345.6,939.8 351.1,978.2 263.2,975.1 271.0,960.3 322.1,910.9 376.7,921.2 315.3,927.6 212.6,921.8 360.1,985.6 313.9,934.2 294.6,923.2 263.7,945.0 367.4,957.1 326.6,910.5 332.6,978.0 330.3,981.5 334.0,942.4 351.7,984.0 390.3,913.9 268.0,943.6 311.5,955.2 294.9,962.1 388.9,994.0 302.1,950.2 243.9,930.1 313.6,966.4 282.5,964.6 282.2,973.2 295.1,950.1 257.2,965.1 229.7,943.1 400.7,976.6 309.2,940.4 273.6,941.6 342.2,994.5 373.5,937.5 237.8,960.1 295.1,976.7 327.2,950.6 277.6,986.7 334.6,942.8 260.3,990.1 285.4,913.9 309.4,920.0 333.7,961.9 316.5,1002.2 284.8,1007.6 298.5,934.6 221.6,959.1 408.8,945.4 296.7,896.7 301.8,981.3 326.4,948.9 339.9,1000.4 329.9,968.2 284.9,944.3 241.7,939.5 307.0,954.4 279.5,973.3 290.4,945.5 314.6,1042.7 325.3,966.1 371.6,926.4 308.2,962.3 238.6,993.7 340.4,972.6 355.5,950.2 242.2,940.4 341.4,936.6 322.9,925.0 290.7,944.7 322.2,967.7 331.8,943.2 340.7,1007.9 365.2,971.1 314.1,946.9 314.3,959.0 421.0,1003.2 267.5,909.7 302.5,966.9 299.0,1039.0 348.5,989.5 363.4,933.2 256.4,963.6 368.9,953.0 262.2,1042.1 429.6,940.1 285.1,951.9 363.3,950.2 302.8,917.9 345.9,862.6 281.7,952.9 320.5,975.1 315.7,947.2 318.7,974.5 349.7,982.2 295.2,980.5 300.4,909.8 256.7,1004.5 308.5,985.3 293.0,983.6 353.6,960.2 344.2,959.8 282.8,943.9 334.2,972.3 372.6,987.2 305.4,943.1 263.0,984.1 423.2,946.2 339.1,977.5 345.7,955.6 425.1,985.3 279.5,1016.9 328.2,966.6 231.2,945.4 336.4,947.3 332.1,978.4 280.2,945.3 277.2,988.9 307.0,968.8 304.6,986.7 384.5,943.7 304.0,931.7 307.7,938.0 306.9,971.7 244.2,936.8 293.2,980.5 255.1,899.2 320.3,940.3 218.0,955.1 265.1,906.0 325.9,942.0 222.1,915.8 246.0,957.9 358.5,952.9 256.0,982.0 314.2,935.2 328.2,911.9 267.9,944.0 240.2,963.9 381.9,962.8 290.1,965.0 337.4,996.1 281.1,949.6 330.7,953.8 256.8,935.1 254.0,942.6 268.5,990.9 286.9,970.8 286.9,882.8 300.1,995.8 333.7,901.3 291.0,948.0 253.5,1020.9 241.9,992.3 247.8,1011.7 252.0,979.7 244.2,984.7 222.7,1006.3 245.2,987.8 230.5,993.0 206.7,992.4 236.1,972.6 247.6,1017.1 241.7,988.3 240.2,984.9 264.1,982.8 243.9,991.8 252.7,974.2 244.6,1006.0 262.8,984.7 235.0,1004.7 256.4,975.2 265.2,972.6 235.0,974.4 254.6,994.7 221.4,967.2 244.5,1005.6 250.3,984.8 228.7,1006.5 215.4,983.9 240.8,1005.0 235.6,972.4 242.7,971.1 244.2,1001.1 251.7,980.8 261.8,1009.4 246.2,978.3 219.1,999.6 249.5,976.1 245.6,959.7 242.3,1016.0 262.1,986.9 243.9,1007.8 235.3,993.7 246.7,960.1 218.2,997.5 253.5,1009.7 241.2,1013.4 263.6,1019.6 249.8,997.5 245.5,988.7 242.9,991.7 224.1,969.8 239.3,1003.5 244.5,1003.3 254.0,996.7 246.3,976.8 250.0,1001.9 249.9,980.7 233.1,1012.6 244.6,979.7 237.5,981.1 223.2,984.8 219.6,972.1 251.9,974.5 260.2,985.4 260.1,946.7 228.8,1025.9 261.2,997.0 262.0,995.6 230.0,974.7 247.2,993.8 258.4,871.8 344.9,875.9 426.6,869.3 456.1,876.7 475.8,873.5 459.8,886.5 435.2,904.9 452.4,911.0 479.4,907.4 495.4,913.5 426.6,925.8 419.3,960.2 420.5,977.4 392.3,1024.0 490.5,1037.5 371.4,1047.4 356.6,1057.2 158.9,1020.3 166.3,974.9 199.5,970.0 201.9,947.9 265.8,896.3 280.5,902.5 298.9,900.0 349.3,893.9 407.0,908.6 393.5,909.8 187.2,1001.9 298.9,1052.3 269.5,1053.5" fill="none" stroke="none" marker-start="url(#mfilt)" marker-mid="url(#mfilt)" marker-end="url(#mfilt)"/>
<line x1="110.0" y1="343.5" x2="643.8" y2="343.5" stroke="#c8c8c8" stroke-width="1.6"/>
<line x1="110.0" y1="343.5" x2="643.8" y2="565.9" stroke="#c8c8c8" stroke-width="1.6"/>
<line x1="110.0" y1="343.5" x2="364.2" y2="221.3" stroke="#c8c8c8" stroke-width="1.6"/>
<line x1="812.5" y1="343.5" x2="1346.2" y2="343.5" stroke="#c8c8c8" stroke-width="1.6"/>
<line x1="812.5" y1="343.5" x2="1346.2" y2="565.9" stroke="#c8c8c8" stroke-width="1.6"/>
<line x1="812.5" y1="343.5" x2="1066.7" y2="221.3" stroke="#c8c8c8" stroke-width="1.6"/>
<line x1="1515.0" y1="343.5" x2="2048.8" y2="343.5" stroke="#c8c8c8" stroke-width="1.6"/>
<line x1="1515.0" y1="343.5" x2="2048.8" y2="565.9" stroke="#c8c8c8" stroke-width="1.6"/>
<line x1="1515.0" y1="343.5" x2="1769.2" y2="221.3" stroke="#c8c8c8" stroke-width="1.6"/>
<line x1="110.0" y1="1093.5" x2="643.8" y2="1093.5" stroke="#c8c8c8" stroke-width="1.6"/>
<line x1="110.0" y1="1093.5" x2="643.8" y2="1315.9" stroke="#c8c8c8" stroke-width="1.6"/>
<line x1="110.0" y1="1093.5" x2="364.2" y2="971.3" stroke="#c8c8c8" stroke-width="1.6"/>
<polyline points="219.6,286.7 313.3,249.2 263.2,276.8 149.3,318.3 162.1,312.9 303.2,254.5 111.8,320.6 281.0,257.9 271.3,270.3 190.7,305.6 162.6,316.1 158.4,311.1 154.3,318.1 186.8,310.6 196.9,305.4 205.7,298.8 357.7,231.5 269.6,279.2 219.0,290.8 353.7,227.6 147.6,319.6 138.2,330.1 217.1,296.8 118.4,333.7 117.0,327.3 198.7,307.0 190.4,301.7 321.8,247.9 220.5,308.5 198.6,306.0 195.6,299.9 153.1,320.0 112.9,331.2 143.7,327.8 235.2,285.1 145.1,317.5 173.9,310.8 111.5,330.0 284.7,268.7 137.2,330.0 156.5,320.4 306.1,264.5 197.9,295.7 292.0,271.5 222.7,308.0 251.1,288.0 126.5,328.9 203.4,300.9 197.5,312.1 302.3,251.0 172.5,312.2 214.2,299.3 121.0,331.6 177.0,308.6 166.0,317.0 136.5,325.7 279.0,271.3 175.6,310.7 348.8,228.1 212.6,296.8 215.6,301.6 222.3,286.9 231.0,288.5 136.6,328.3 186.0,301.3 151.7,321.5 179.5,304.4 127.4,331.7 343.8,264.2 147.5,329.4 229.9,289.2 162.1,320.3 303.5,259.6 227.6,292.3 133.3,331.7 291.1,253.7 333.7,255.3 316.2,251.8 208.7,307.0 135.7,327.3 143.7,321.6 326.4,249.9 205.5,303.8 141.7,324.7 307.7,260.9 223.0,289.7 208.7,285.2 175.0,316.0 181.0,312.5 151.7,321.4 117.4,329.5 304.4,267.3 190.6,302.3 204.6,295.4 165.8,314.8 254.4,289.8 115.2,323.7 174.3,317.6 116.1,326.7 131.8,324.1 343.5,255.3 226.6,291.3 183.9,301.0 200.3,299.0 302.9,267.0 169.6,319.5 212.7,294.1 232.9,292.5 171.5,316.5 199.5,297.7 259.4,281.3 318.4,250.8 136.6,324.9 328.8,241.1 111.8,330.2 255.0,280.7 276.6,266.8 134.2,325.9 182.3,314.1 278.5,272.2 113.3,333.5 220.3,302.4 269.7,278.8 198.4,313.7 245.8,278.1 149.5,324.6 144.7,322.4 172.8,321.4 141.5,329.9 169.9,304.7 335.1,234.3 209.4,302.1 168.9,318.0 157.2,321.8 336.8,243.0 186.7,308.9 349.6,247.4 198.9,301.1 199.9,307.2 313.0,234.3 251.5,286.8 210.8,291.0 183.6,312.8 305.2,255.6 181.1,304.5 324.2,251.9 122.6,325.2 184.2,302.9 199.6,292.3 336.3,243.6 153.7,322.1 274.8,280.1 231.0,289.3 242.9,293.5 220.5,294.3 345.5,240.4 167.6,317.5 178.8,315.2 145.5,322.0 119.5,328.0 147.2,322.0 321.1,250.6 289.0,258.3 130.0,330.8 215.3,293.3 192.6,306.4 213.5,291.2 226.9,294.4 163.2,318.4 340.9,238.2 190.3,315.7 220.2,296.8 221.7,306.0 142.2,327.4 121.4,326.2 181.1,307.0 258.9,282.1 278.5,271.0 247.2,284.1 130.2,326.7 320.2,232.9 273.2,271.0 305.0,239.1 200.2,303.3 321.2,242.8 118.8,326.2 116.0,328.5 114.3,330.7 154.0,314.5 153.3,313.6 142.9,320.7 208.2,285.7 117.5,325.3 212.7,307.1 139.2,322.3 231.4,294.9 114.5,323.7 163.8,317.8 330.9,242.1 202.9,299.8 277.0,275.6 226.6,304.4 216.7,296.8 143.5,324.3 209.6,291.8 117.6,331.5 273.1,270.9 340.4,251.5 294.9,262.4 119.5,335.7 168.6,305.2 165.1,314.6 130.1,330.4 219.9,292.0 271.4,267.3 164.4,315.0 298.7,249.0 271.3,274.5 132.9,333.4 260.0,287.2 307.1,246.7 144.5,320.6 209.5,295.4 222.5,300.5 216.4,290.2 127.3,325.7 227.4,298.0 221.0,299.9 282.1,266.0 273.8,263.7 166.7,308.2 244.5,279.6 300.6,241.7 311.5,261.5 138.4,323.9 115.4,331.5 225.0,305.7 147.5,326.5 207.6,291.5 333.7,253.5 175.6,317.0 154.0,317.2 188.7,300.6 226.5,291.3 128.1,322.7 175.8,318.4 133.7,321.2 227.6,283.7 284.9,265.6 175.1,310.5 174.3,312.7 203.1,301.7 147.6,321.7 153.1,324.7 167.1,305.5 188.9,305.5 124.8,325.8 254.9,281.5 210.5,299.0 162.0,313.2 124.1,326.1 258.6,285.0 133.2,328.2 133.6,325.2 133.2,333.1 124.7,335.6 317.2,237.9 156.8,320.2 163.1,325.9 285.9,273.6 218.6,296.3 142.8,323.5 185.0,304.4 307.7,254.5 174.9,309.0 240.9,292.0 127.4,326.6 246.3,280.8 263.5,267.5 282.9,268.2 230.5,284.1 174.1,311.1 121.8,332.5 199.4,303.5 256.6,283.6 143.4,325.1 156.3,319.4 202.5,299.6 253.4,278.8 313.1,260.8 132.3,324.1 142.3,328.6 272.2,273.4 223.7,287.9 244.2,281.3 358.7,233.4 331.2,246.9 290.2,259.2 263.7,285.6 178.2,306.3 223.0,278.8 142.3,322.0 257.3,264.0 256.7,279.4 244.3,293.0 186.7,309.9 175.4,305.0 182.5,304.5 116.6,336.6 290.8,267.5 203.7,300.0 177.0,315.9 204.7,312.2 244.4,294.7 175.9,311.9 284.9,270.6 322.8,255.0 177.0,307.8 134.4,324.1 257.6,279.7 356.0,230.5 136.1,326.4 241.5,286.9 282.7,285.5 323.3,240.4 131.9,327.0 126.5,327.5 353.1,244.0 130.8,330.7 141.0,323.3 209.7,292.7 187.0,297.8 254.1,273.7 143.4,325.7 320.7,250.5 147.9,318.7 260.8,275.1 122.4,328.7 191.6,307.1 116.4,326.9 164.4,315.1 164.1,308.2 243.8,276.5 188.5,314.3 120.6,320.8 357.6,236.0 309.7,257.5 321.5,246.0 152.9,317.4 178.1,310.0 149.6,321.6 132.2,327.1 116.5,321.6 196.7,301.5 131.9,324.8 140.9,323.1 297.7,263.4 193.5,307.0 142.2,327.2 229.4,287.3 156.2,322.9 200.9,307.7 159.1,322.9 199.0,309.5 220.3,293.3 202.5,299.3 178.3,314.2 268.9,263.9 303.2,260.5 141.5,323.0 134.1,326.1 130.2,322.2 349.2,230.7 332.3,244.8 150.2,324.7 344.8,252.2 146.3,322.6 197.3,301.1 195.7,298.0 320.9,253.8 117.8,328.2 164.7,318.8 214.6,307.6 122.2,328.5 151.2,315.5 190.2,300.4 306.4,244.0 257.8,270.0 284.2,278.5 257.9,281.0 239.9,275.4 293.1,269.2 232.3,298.9 249.1,280.2 162.3,314.0 139.5,324.3 256.3,282.1 139.2,327.4 322.8,260.4 213.9,304.3 167.1,320.5 330.1,259.2 137.3,328.1 198.7,292.9 126.5,327.6 342.8,245.5 209.8,295.4 273.9,279.6 159.0,316.7 273.1,265.5 238.3,298.2 223.5,297.8 336.2,246.2 184.8,312.1 181.7,314.1 235.2,291.2 286.8,249.8 168.0,311.6 229.3,287.7 146.5,319.4 205.4,300.6 260.8,287.2 122.0,326.8 246.4,275.5 113.5,338.4 339.6,238.3 190.8,298.1 180.6,310.3 244.0,288.3 200.2,297.0 247.5,289.6 125.3,326.5 207.4,293.0 206.5,300.0 328.2,254.0 117.6,326.6 188.1,307.6 220.8,293.4 205.2,312.1 123.5,325.9 213.2,305.6 148.8,321.8 144.2,323.2 305.4,264.0 144.6,326.4 188.4,312.5 254.1,283.3 239.7,282.4 205.7,296.0 275.2,275.9 190.3,308.0 218.6,304.2 280.0,273.2 231.4,297.8 223.1,303.9 180.1,310.2 206.6,289.9 178.4,304.3 252.0,270.7 175.8,319.0 190.5,300.3 255.9,289.5 196.8,305.6 168.5,322.4 283.3,276.5 175.8,310.8 291.0,263.1 266.7,276.1 187.2,307.2 241.5,282.1 116.7,329.1 177.4,318.5 297.6,246.8 210.6,299.2 206.5,293.4 228.2,292.7 231.3,296.2 211.4,296.9 182.6,312.2 142.2,319.3 160.8,322.3 160.8,315.0 184.3,310.7 360.9,239.4 171.0,303.5 187.2,302.3 174.3,313.0 210.9,307.3 335.0,247.2 309.9,257.7 175.2,304.7 156.4,324.9 307.9,272.7 195.1,303.0 233.4,287.8 123.4,322.6 300.3,267.8 164.2,325.6 195.2,306.8 144.6,327.6 182.5,311.1 283.8,260.4 283.6,279.0 191.7,297.7 260.3,276.6 189.0,307.0 174.5,316.1 204.3,302.2 145.2,324.5 164.9,312.6 239.5,277.3 261.3,278.3 120.5,326.1 248.1,273.4 279.4,260.1 186.8,303.9 121.5,321.8 232.7,279.8 152.9,314.3 223.4,294.5 175.1,313.6 222.1,307.5 154.9,313.8 192.1,300.4 200.5,306.3 220.8,292.6 145.5,322.0 341.2,260.5 160.2,316.3 163.1,311.6 154.6,314.7 122.4,329.8 183.0,309.7 261.8,266.9 240.5,279.2 144.2,325.4 134.2,328.7 165.7,312.8 260.5,282.9 194.1,306.4 324.4,230.7 226.3,289.9 218.8,297.6 260.3,273.8 254.1,264.7 169.5,312.7 154.7,322.7 185.5,315.2 194.3,291.6 135.0,332.8 186.1,300.9 222.7,300.1 134.0,330.6 134.4,329.8 140.5,325.4 159.2,313.3 341.1,249.2 115.3,326.5 142.2,317.7 139.0,331.8 191.8,308.1 113.4,337.6 189.0,300.6 138.7,330.0 156.9,325.4 269.5,286.5 142.3,324.3 218.0,287.0 180.2,308.5 182.1,297.9 279.2,256.7 138.3,326.1 324.7,238.3 311.7,252.9 229.0,290.3 119.3,336.5 227.8,300.8 214.6,295.9 261.9,286.9 147.3,319.8 337.4,240.1 308.6,264.3 130.4,323.7 164.6,314.9 116.4,323.9 285.1,268.6 321.0,265.6 354.1,231.9 216.9,296.9 228.5,284.9 231.5,281.8 208.8,290.5 337.0,258.7 216.1,309.5 168.1,316.9 198.4,297.7 114.1,332.6 245.2,282.1 235.7,294.4 182.7,309.7 293.8,265.7 255.9,284.7 168.3,311.9 124.1,326.9 133.4,322.3 142.3,322.9 162.7,310.6 187.2,305.5 326.5,237.7 158.4,318.9 313.9,257.6 232.0,279.6 294.7,256.0 179.6,304.9 111.4,333.3 267.4,288.5 152.7,323.7 135.2,326.0 272.2,284.7 233.6,278.2 147.1,327.7 156.5,316.5 331.3,224.1 156.7,327.5 238.2,299.3 133.0,324.3 278.4,271.9 130.9,326.9 198.9,302.1 116.9,323.2 205.1,295.4 291.8,268.2 125.3,329.0 157.6,323.6 259.2,279.3 216.2,309.5 164.2,313.1 220.4,296.0 188.4,295.6 298.5,250.2 160.8,323.2 256.7,272.5 221.8,297.4 250.7,281.8 175.4,306.4 245.5,281.8 237.0,284.2 177.0,308.4 115.4,332.6 341.6,249.3 241.8,281.7 145.8,320.0 247.4,285.8 158.4,318.0 190.9,310.2 297.4,279.6 187.3,310.7 160.0,317.7 163.0,316.0 124.0,325.3 148.3,318.9 157.1,314.8 140.4,323.8 121.6,327.1 190.3,308.9 147.4,321.1 250.1,281.0 324.1,236.4 157.4,325.4 209.2,301.2 197.3,312.2 123.7,331.3 132.2,331.8 308.0,254.0 191.7,308.2 274.2,288.9 122.2,324.1 213.5,304.2 299.7,275.1 300.5,263.7 111.9,333.3 199.9,308.6 173.8,308.9 257.5,282.6 123.4,325.3 156.1,316.5 277.5,265.9 191.0,303.9 188.2,306.7 344.2,246.7 165.4,309.3 118.0,337.2 177.8,316.2 137.0,328.4 124.8,327.0 208.4,297.8 337.5,249.4 210.6,300.2 224.2,280.9 166.1,319.0 209.0,311.2 254.8,266.0 212.5,303.5 273.5,275.6 205.1,298.7 144.7,328.1 211.2,289.7 194.6,304.0 139.2,330.0 218.4,293.6 279.2,266.8 133.9,327.5 204.1,297.1 248.4,295.3 179.6,305.0 156.9,322.6 174.4,305.7 203.5,304.1 233.7,288.5 206.7,286.0 129.1,327.7 279.6,261.3 324.7,243.6 128.1,333.0 153.4,315.8 140.5,321.6 292.8,276.2 318.9,252.0 118.4,335.3 167.6,316.4 143.7,320.9 191.0,304.3 323.7,260.8 122.8,332.0 140.1,325.1 193.9,303.6 200.4,300.4 252.4,277.0 185.5,317.3 134.9,327.0 171.2,307.8 350.4,234.7 254.2,286.5 130.7,329.6 275.7,270.6 163.9,313.4 265.3,276.3 113.0,322.3 302.3,247.4 138.6,328.1 188.6,303.1 227.5,294.4 197.5,309.1 139.1,327.5 134.6,327.1 159.4,326.8 119.8,331.5 147.8,321.0 133.1,329.4 190.1,307.2 171.7,308.9 212.0,297.6 158.8,317.6 116.7,321.0 167.3,314.2 255.8,277.9 154.5,318.1 179.9,301.0 255.7,277.3 180.2,309.1 309.0,256.7 322.2,237.9 163.8,319.3 249.2,273.4 154.0,319.1 134.7,330.8 185.6,303.3 215.0,292.6 329.7,256.7 135.8,325.6 241.4,283.9 192.0,305.4 133.3,330.3 346.0,218.7 236.2,282.0 132.9,324.3 317.0,241.3 128.5,325.0 126.7,325.1 167.4,316.4 330.7,236.2 116.5,329.8 322.3,253.2 216.9,290.5 122.3,329.1 208.5,308.7 189.1,307.2 207.6,294.6 249.6,282.2 231.6,283.3 359.1,240.5 137.6,328.6 277.5,264.3 181.0,307.9 266.0,284.6 311.0,250.1 355.4,240.9 156.2,315.0 188.1,301.5 332.8,239.5 334.1,265.9 174.5,309.9 331.7,239.8 180.1,306.6 174.8,310.9 256.3,284.9 191.2,305.5 187.3,317.0 176.7,311.9 184.7,314.9 134.7,327.8 121.3,331.0 255.4,269.2 207.7,297.8 229.9,290.2 273.3,270.8 150.1,313.8 150.7,324.5 158.3,316.9 162.7,314.9 257.7,277.3 174.7,310.7 166.0,317.4 221.9,284.9 142.7,321.2 129.0,328.7 236.6,289.2 256.2,277.0 161.4,314.9 221.9,288.0 116.7,329.1 179.8,315.4 210.3,291.0 154.1,325.9 170.3,317.6 216.5,292.6 212.6,301.9 137.2,322.0 239.5,274.0 124.5,323.8 319.5,197.9 341.9,209.9 351.7,205.4 368.9,208.4 250.8,234.6 162.6,261.5 176.8,260.7 182.7,254.7 164.8,277.9 200.7,265.2 226.8,261.5 122.9,281.7 119.2,313.8 146.1,313.8 155.8,310.8" fill="none" stroke="none" marker-start="url(#mgain)" marker-mid="url(#mgain)" marker-end="url(#mgain)"/>
<polyline points="266.7,343.9 174.8,346.3 225.2,343.0 213.8,340.4 207.5,343.5 408.3,339.2 157.2,345.6 191.5,338.9 312.0,340.4 231.7,341.3 204.5,339.1 254.6,341.9 302.9,340.3 367.6,338.2 480.2,339.4 434.5,334.8 275.8,340.7 283.9,341.9 270.5,341.7 204.1,345.5 471.8,335.1 140.1,338.9 191.3,343.3 362.9,340.7 335.7,345.5 219.0,343.8 466.2,335.9 268.1,343.3 338.2,337.4 148.5,338.9 448.9,344.3 153.0,344.1 262.3,343.1 446.9,340.1 469.2,343.3 453.8,339.2 425.1,342.1 202.0,339.4 126.3,339.4 284.0,344.6 138.1,347.3 475.3,339.7 116.0,343.7 236.6,342.1 190.7,340.6 118.8,346.2 301.8,342.1 142.9,344.6 452.3,339.5 372.6,342.2 253.3,342.7 430.4,340.8 413.6,335.7 236.9,343.1 432.5,344.5 463.3,336.9 347.1,339.2 246.4,344.0 452.5,341.1 468.4,340.0 244.8,336.8 146.8,344.6 440.2,335.3 364.0,337.1 201.5,344.0 327.2,339.0 230.1,344.1 459.5,344.2 242.8,343.8 188.1,344.8 130.6,340.7 243.0,339.7 487.9,335.7 196.3,340.9 286.4,337.5 480.1,336.7 115.2,343.1 225.2,339.0 422.7,334.9 150.3,339.2 462.9,339.6 427.7,338.9 168.1,346.2 336.8,342.6 322.9,338.9 374.8,341.1 229.6,337.6 258.6,347.2 204.8,345.8 224.0,341.3 180.3,339.4 454.0,339.5 447.6,333.4 249.5,339.1 374.7,341.4 298.5,340.5 219.8,340.6 245.6,344.2 477.2,335.6 242.6,342.3 331.6,338.4 469.2,336.0 226.1,343.2 418.1,336.1 157.2,348.7 389.7,337.5 417.3,344.3 428.8,335.7 481.4,340.0 381.3,335.9 482.3,334.9 218.9,342.5 310.2,342.0 194.7,338.8 145.7,346.5 279.2,338.5 384.6,339.6 406.7,340.0 120.4,344.5 468.2,333.4 207.2,347.0 224.1,343.6 426.9,337.6 450.1,335.7 390.9,334.5 239.3,337.7 288.2,342.1 427.7,337.8 248.5,338.2 416.7,337.4 408.0,343.2 290.3,339.6 451.0,336.9 258.7,345.0 395.9,340.3 354.6,339.6 238.7,339.9 314.0,335.7 341.9,336.4 315.9,338.6 155.9,342.5 488.8,339.4 477.8,339.8 128.4,343.8 468.9,338.9 313.9,337.2 161.6,336.9 422.5,337.4 276.9,338.1 382.2,337.4 425.0,338.0 316.4,336.5 133.0,340.1 423.2,338.5 375.0,339.6 456.1,336.6 215.8,343.6 409.2,338.3 442.2,335.8 247.7,341.5 268.4,346.3 239.8,339.6 114.6,344.9 201.3,346.5 238.8,345.9 155.1,340.7 401.8,344.6 274.7,341.2 327.7,339.1 221.2,341.3 249.7,343.1 397.2,339.2 290.8,340.0 338.3,343.2 273.1,338.8 323.5,337.0 451.3,340.7 214.8,344.2 309.3,343.1 372.4,336.4 146.9,346.3 475.9,339.7 301.6,345.2 206.5,338.6 399.9,339.6 420.6,338.0 351.2,335.2 458.4,336.4 147.7,346.4 312.5,338.7 393.3,337.1 458.6,340.8 355.2,342.2 340.5,342.4 260.1,338.9 329.0,339.6 322.7,342.7 454.2,336.6 424.9,336.7 391.2,341.4 461.2,342.7 139.2,339.9 403.3,333.2 288.4,336.5 396.7,336.3 225.6,341.5 289.8,342.2 424.0,338.4 127.6,341.3 223.7,342.4 297.8,337.7 434.1,338.5 215.8,340.2 423.4,344.6 206.2,344.7 228.2,339.4 322.3,337.1 359.9,338.3 444.8,334.0 444.6,336.5 208.3,340.1 394.3,341.5 352.8,338.4 259.4,338.9 405.8,335.3 451.4,335.2 294.3,340.2 458.3,337.8 162.3,346.5 176.8,341.1 401.3,341.9 229.1,342.6 334.2,339.7 301.0,334.7 169.1,339.2 397.6,341.1 392.8,342.9 168.9,343.7 211.9,344.4 415.0,337.7 456.9,337.4 441.1,336.8 302.8,342.9 252.3,342.3 281.5,340.0 180.6,341.9 300.6,341.8 201.1,343.4 175.2,340.5 257.3,346.1 138.4,343.9 291.0,340.5 375.8,343.4 359.0,342.3 481.5,338.2 447.0,340.0 352.3,336.6 451.4,336.7 281.2,334.8 414.3,342.2 221.2,336.5 312.1,341.9 483.5,336.3 339.2,337.0 304.7,339.7 410.0,339.7 231.6,343.5 426.4,343.6 121.1,344.1 203.8,344.9 180.9,341.1 211.0,344.3 469.4,338.7 123.3,342.1 226.5,341.6 330.0,339.6 378.4,339.8 404.9,340.1 258.3,339.7 197.0,340.3 434.4,340.7 160.2,338.1 138.8,341.4 201.3,347.0 299.3,334.5 468.1,336.4 388.0,341.0 326.1,335.3 310.1,345.9 374.7,333.5 349.6,343.5 240.6,346.1 149.2,345.8 189.8,342.0 408.3,339.9 352.6,337.1 413.7,341.1 131.1,340.1 452.6,337.7 257.9,344.0 462.1,335.3 337.6,338.7 319.9,340.3 421.5,335.1 349.2,342.8 367.7,340.3 173.5,338.5 341.3,339.5 248.2,339.2 142.7,341.3 164.4,343.3 294.5,338.4 212.9,345.0 401.7,337.1 160.3,346.0 118.9,343.2 491.5,340.6 231.9,340.2 305.8,338.8 193.2,339.2 192.8,344.3 265.4,343.7 410.9,344.7 129.0,346.8 428.8,339.4 488.3,337.9 324.3,340.9 249.5,341.3 202.2,346.7 183.1,345.6 235.8,339.3 434.1,336.8 113.1,344.9 409.5,339.8 365.0,338.8 121.3,345.9 140.5,342.1 390.4,338.4 367.1,338.1 232.1,336.1 437.8,341.0 193.3,339.0 274.7,339.2 157.5,340.9 356.8,341.5 147.0,343.0 181.8,342.9 402.1,334.4 302.2,340.0 362.9,335.4 390.0,340.0 342.1,340.7 188.6,342.6 376.6,344.9 157.9,344.7 215.7,343.8 282.6,341.1 157.3,342.6 154.2,346.0 359.3,342.5 393.0,335.5 253.5,344.3 260.7,342.6 192.3,345.4 310.2,341.4 332.3,336.3 464.9,335.1 129.6,348.3 455.6,339.1 488.4,334.9 244.4,342.5 386.9,338.2 424.1,333.7 358.9,333.7 222.8,337.3 348.3,340.3 443.6,338.4 154.6,342.4 294.6,341.2 122.8,344.7 431.6,332.9 406.7,338.1 131.6,340.9 394.4,335.7 374.0,337.8 161.8,342.8 311.6,339.3 373.2,335.3 240.3,340.2 303.6,345.8 481.8,335.7 353.1,334.9 302.9,341.0 139.1,344.9 159.9,344.5 433.8,335.6 393.2,341.8 427.9,336.6 331.4,336.6 330.6,338.1 313.6,339.7 390.4,341.1 238.3,343.4 300.9,340.2 290.8,343.1 362.8,339.7 195.5,345.2 123.7,339.6 147.6,338.6 181.7,345.1 436.2,334.8 383.5,338.4 396.0,338.8 281.2,339.3 152.9,341.8 289.1,344.4 438.4,332.8 305.5,342.6 351.6,345.3 254.9,341.3 170.7,343.0 349.7,341.6 296.5,345.5 244.1,338.1 211.4,342.4 375.7,338.8 233.7,343.3 330.6,340.2 211.9,344.1 397.3,337.9 255.1,341.4 294.0,338.6 462.7,336.5 384.1,338.8 390.8,338.7 241.8,338.2 429.9,343.0 259.2,340.8 487.4,334.9 450.8,341.5 361.9,337.4 426.6,340.1 318.6,339.9 389.6,339.8 161.2,343.6 487.5,337.0 414.8,339.0 167.8,349.2 205.5,336.1 330.3,340.0 400.8,340.2 170.3,339.9 475.3,334.7 244.3,347.5 490.5,337.5 396.9,344.8 296.7,341.9 250.5,341.6 150.6,344.5 147.4,345.0 350.7,342.8 404.8,340.2 455.1,338.8 251.4,341.8 466.4,342.0 225.8,344.3 467.3,335.6 459.4,336.6 172.6,344.0 437.6,336.9 378.6,338.2 378.1,336.6 429.9,338.0 315.9,341.1 304.6,343.0 252.2,341.3 439.3,344.3 452.7,338.3 174.6,349.3 404.3,341.7 217.8,343.5 183.4,341.3 188.4,336.5 329.6,339.4 219.4,342.5 205.3,348.0 151.3,339.1 236.3,347.2 405.0,338.3 122.4,345.0 295.6,334.5 340.7,340.0 133.0,342.2 224.7,343.9 454.7,338.7 490.2,335.6 433.6,341.3 178.1,345.0 401.3,340.7 283.7,343.5 178.4,346.2 294.9,340.3 460.9,334.6 443.8,334.8 261.4,345.0 138.1,345.2 452.5,338.7 486.4,337.3 306.4,340.2 198.9,342.5 318.5,339.0 375.8,337.4 295.4,346.3 246.7,342.1 207.4,340.5 225.8,338.1 133.1,341.2 210.1,344.3 472.4,340.4 116.0,343.1 387.5,339.3 410.6,338.1 266.3,337.9 337.9,343.3 197.3,343.6 365.2,345.2 380.1,337.2 390.2,338.8 299.0,342.8 479.4,337.7 439.7,334.8 329.3,337.2 370.6,339.6 217.5,343.1 468.7,338.0 356.6,342.3 450.4,341.2 222.7,342.9 484.6,338.5 154.0,342.4 313.5,341.5 155.8,345.8 185.6,342.9 401.3,340.3 139.2,342.2 258.1,337.2 186.3,339.8 433.6,340.8 145.3,344.4 240.7,346.1 435.9,338.8 372.3,341.7 378.5,342.9 488.7,341.0 123.1,341.7 364.0,338.9 394.1,339.4 395.3,336.4 382.5,340.5 141.5,346.1 145.9,341.8 404.5,344.4 344.1,338.8 213.0,341.6 116.6,343.0 314.7,338.0 148.3,344.4 395.4,339.1 242.3,346.3 417.6,340.5 150.2,344.7 299.8,339.7 151.8,339.0 407.4,338.7 324.6,337.5 202.5,345.2 476.3,338.3 370.4,343.9 240.7,343.7 435.5,340.9 257.0,341.9 468.2,338.9 225.9,343.8 485.5,340.8 137.8,341.2 390.2,340.5 223.8,348.0 273.5,340.6 353.2,338.8 131.6,341.3 198.3,338.2 153.4,346.6 392.1,339.3 197.4,343.4 301.5,345.4 237.7,347.7 203.0,339.8 465.5,341.2 304.9,341.9 358.6,340.6 378.8,340.6 422.7,338.7 213.2,346.8 143.9,344.9 289.8,341.5 178.2,346.6 121.9,345.3 459.7,339.7 349.6,340.5 269.9,345.9 165.6,344.6 400.2,338.8 314.5,337.6 179.8,341.9 484.6,335.7 471.4,338.6 462.5,339.1 424.8,333.1 314.0,340.1 227.2,343.7 359.1,339.9 171.2,340.2 346.0,343.1 139.2,341.2 118.8,341.0 383.0,336.2 243.0,341.5 376.2,342.0 407.2,342.2 428.0,339.3 345.6,336.3 432.3,336.9 361.8,337.0 462.5,337.9 451.1,333.6 130.6,343.5 214.9,344.0 260.4,340.7 209.1,343.6 180.8,340.1 442.3,334.6 123.7,341.6 182.6,346.3 399.8,341.9 198.2,341.1 211.4,345.7 478.2,337.5 400.7,343.2 282.8,342.0 165.5,341.8 215.4,344.4 484.1,336.4 411.4,336.3 140.6,339.0 379.8,340.0 255.6,341.1 384.7,339.0 225.3,340.7 163.2,347.4 121.6,342.3 225.4,339.8 437.4,342.1 449.0,342.4 370.9,340.3 395.2,334.3 187.4,340.9 247.4,343.2 452.0,338.5 486.4,342.4 280.7,336.9 405.7,340.8 464.9,336.6 491.5,341.8 225.4,341.7 360.0,342.3 260.8,339.3 289.0,336.6 287.8,337.4 218.9,340.3 121.3,341.0 402.2,342.3 375.7,343.0 430.0,339.5 171.9,339.9 203.4,342.0 338.2,337.8 466.1,342.3 291.5,341.4 189.8,344.1 337.7,338.6 474.1,332.9 440.3,336.5 451.9,335.4 268.5,342.0 212.8,342.4 441.3,336.4 410.3,337.8 434.0,343.0 261.3,338.4 221.8,339.3 204.6,341.7 441.3,336.7 459.6,337.2 252.2,342.8 442.7,343.3 257.6,336.1 282.5,340.6 327.1,339.9 197.5,342.2 214.8,341.6 214.5,341.1 212.0,345.1 307.9,338.8 152.1,342.8 407.4,338.9 180.0,343.2 281.1,340.2 355.4,342.3 166.2,343.1 268.0,341.5 325.8,339.7 321.0,337.1 449.5,336.2 409.1,336.0 159.8,343.7 427.2,336.8 320.8,337.0 369.0,340.0 174.4,344.6 291.6,335.6 377.2,343.9 413.8,339.0 416.9,338.6 195.9,345.7 427.0,338.9 327.8,338.1 365.4,345.2 434.1,335.7 266.6,340.7 459.7,340.7 445.3,335.6 417.7,338.6 257.0,342.3 312.7,345.8 179.4,340.2 399.5,338.9 448.9,340.3 174.8,343.2 394.0,335.8 375.0,340.4 128.1,343.5 458.7,339.6 294.3,343.6 215.4,345.1 125.7,344.3 407.9,339.8 241.2,338.4 307.2,339.8 187.5,343.4 342.3,338.5 263.5,341.4 417.2,336.6 364.6,343.6 385.4,345.0 208.7,341.1 138.3,344.3 444.8,337.9 465.7,341.8 356.0,340.7 460.5,338.6 379.6,338.6 341.8,340.0 271.7,338.1 247.9,343.4 298.2,338.3 197.9,344.1 274.9,341.2 305.0,343.2 126.1,343.2 262.2,344.0 221.2,339.3 352.5,341.2 419.2,338.2 345.1,340.2 363.7,339.6 344.9,342.2 210.6,336.3 255.7,342.2 431.3,334.6 469.6,341.6 182.4,336.9 117.3,341.7 475.7,333.9 437.1,343.1 342.5,336.1 421.1,339.1 337.5,338.2 454.1,333.5 205.7,341.3 281.1,342.6 366.2,338.9 195.3,345.3 382.8,338.2 212.9,342.2 381.0,338.2 416.3,339.8 273.6,346.2 488.2,339.4 351.4,340.1 398.4,337.3 121.9,341.5 156.7,347.4 381.5,336.2 468.5,335.8 350.3,339.3 457.1,337.2 136.6,348.7 449.2,332.7 443.8,339.6 350.5,341.5 275.6,337.7 379.1,337.5 205.9,343.6 365.1,343.9 375.0,336.8 317.1,335.6 212.0,345.0 112.3,344.9 187.9,341.7 427.4,333.0 194.1,346.9 142.3,342.6 207.0,345.6 309.3,340.0 334.5,338.7 443.7,337.3 435.3,342.7 478.7,342.2 446.4,332.8 283.4,338.0 167.6,348.4 473.4,337.4 200.3,338.4 348.0,339.6 213.7,341.8 421.1,338.5 189.7,341.2 272.4,340.0 196.9,341.2 437.5,339.5 346.9,337.4 351.2,338.8 232.4,341.3 180.6,346.7 436.3,339.7 401.5,338.7 390.1,340.6 491.6,339.5 324.5,342.8 181.4,344.3 343.2,344.6 222.2,345.9 307.0,340.0 286.8,339.4 326.0,342.2 460.3,339.8 418.6,338.6 270.2,336.8 421.3,333.8 437.5,339.6 405.0,341.1 321.4,342.1 452.1,334.9 299.1,343.2 154.1,341.6 216.5,343.2 361.2,340.6 256.7,338.9 273.1,339.2 265.4,335.2 186.5,340.0 149.5,337.9 132.8,344.4 366.9,339.6 236.1,344.3 285.9,341.6 465.5,336.6 349.7,340.5 418.8,337.8 400.6,340.7 472.6,339.2 139.4,340.4 258.6,341.2 471.0,338.5 288.7,339.7 470.3,340.8 183.8,347.9 137.0,342.1 450.6,337.5 268.8,335.0 305.2,339.8 465.9,337.1 196.8,336.3 478.5,339.1 263.3,342.8 207.3,340.1 202.1,341.3 309.0,337.4 289.7,342.7 447.1,334.4 133.4,342.3 130.9,348.6 171.7,343.2 341.8,340.9 407.7,338.5 294.5,337.1 344.8,339.5 355.6,340.6 121.4,341.0 206.8,343.3 491.9,341.6 238.6,344.7 469.8,334.0 299.2,337.6 197.9,337.7 112.5,344.5 196.0,344.3 235.1,343.7 279.3,338.3 282.3,337.4 320.3,340.1 292.4,340.7 126.7,340.8 214.6,342.5 475.9,340.1 124.6,343.8 390.0,336.3 293.2,334.6 379.8,338.5 239.2,342.1 253.3,340.6 308.4,338.9 455.9,336.5 237.7,343.7 146.6,343.0 128.7,343.5 445.4,335.9 232.2,340.0 159.2,343.6 338.3,336.9 270.9,364.0 367.5,354.5 468.9,391.4" fill="none" stroke="none" marker-start="url(#mcnloh)" marker-mid="url(#mcnloh)" marker-end="url(#mcnloh)"/>
<polyline points="171.8,371.6 122.5,349.9 119.8,346.0 150.9,356.7 161.7,362.4 117.0,349.1 149.6,357.1 129.9,351.6 175.4,370.9 135.5,355.1 117.4,347.5 159.1,359.3 132.0,351.3 138.7,355.9 121.0,348.4 133.7,350.1 121.2,350.1 129.3,350.7 147.7,358.0 131.9,353.3 152.6,361.2 166.7,367.9 147.5,356.0 113.3,346.6 171.5,367.1 125.5,353.3 134.6,354.4 144.7,359.4 149.9,357.2 134.4,349.6 139.9,358.2 150.4,358.2 140.9,355.6 130.9,352.5 138.3,355.9 136.8,355.3 131.4,349.7 148.9,359.9 143.9,355.1 138.3,353.7 155.0,363.1 160.8,363.8 151.6,357.6 134.3,349.9 169.5,368.1 119.1,349.3 160.4,361.4 138.9,352.3 137.5,352.8 162.7,360.6 151.9,358.9 172.8,371.5 165.0,366.8 119.9,347.9 143.4,356.6 158.2,361.4 117.5,347.4 145.6,356.4 174.7,374.7 128.2,351.8 120.0,350.1 131.3,351.7 134.5,353.6 131.1,349.4 139.5,354.9 162.1,365.2 144.2,360.7 148.3,360.0 119.4,349.6 116.1,347.7 170.7,367.7 134.7,353.3 170.4,369.5 134.0,351.9 151.1,360.2 152.3,356.4 118.0,346.0 116.6,346.6 140.0,351.7 120.7,347.2 131.7,354.6 125.4,350.3 132.7,353.3 140.8,357.7 132.6,355.2 134.0,352.4 142.5,358.6 153.5,359.7 114.4,347.1 175.2,372.5 139.4,352.1 168.4,365.7 111.6,346.1 115.6,348.2 118.7,348.0 167.6,366.3 138.3,356.6 162.9,366.2 154.1,360.7 117.9,349.8 135.5,353.0 133.8,352.7 140.6,356.0 157.5,359.3 117.6,347.5 168.6,370.2 142.0,355.3 135.7,352.0 154.3,360.1 130.5,355.4 155.1,359.5 138.6,357.2 142.0,354.8 125.0,349.7 125.9,349.7 163.9,363.7 147.5,361.1 138.9,352.5 158.6,364.0 167.5,364.6 122.9,349.5 175.3,373.1 112.1,347.0 149.6,358.4 129.7,349.1 129.0,352.4 143.0,353.8 149.1,362.1 139.7,354.6 155.2,359.7 170.6,366.7 123.6,349.3 128.1,349.3 149.4,359.8 138.2,354.1 132.8,354.0 143.5,354.7 154.3,358.0 167.3,368.7 169.8,366.4 161.2,358.3 134.7,354.3 165.5,362.9 155.0,358.3 124.0,351.5 170.9,367.4 128.7,353.1 153.4,357.3 154.1,362.3 167.2,368.8 152.6,357.6 173.7,370.4 115.8,346.5 114.0,347.2 125.4,352.4 147.5,354.1 139.0,356.7 117.5,346.4 125.8,349.4 147.7,353.4 137.8,358.7 158.0,360.2 141.4,356.0 165.0,363.4 157.7,362.4 143.0,351.6 135.3,353.8 126.6,354.3 131.4,351.8 135.1,353.7 135.5,355.1 124.3,349.0 141.8,355.7 119.6,350.0 164.4,364.7 146.1,357.6 118.4,347.9 133.6,353.8 129.2,351.9 122.7,351.9 142.2,357.2 124.6,350.0 122.4,346.6 154.6,360.7 139.3,356.5 152.9,356.7 141.6,351.5 143.5,353.7 132.6,354.6 139.1,352.7 142.2,354.8 134.4,353.9 161.7,365.0 128.6,351.6 127.0,350.9 134.5,352.5 159.2,364.4 163.0,365.6 146.9,356.8 135.5,351.1 151.6,356.6 161.7,363.7 128.4,350.4 152.6,360.6 155.0,360.1 137.1,354.9 122.0,350.4 149.3,358.8 126.3,349.5 135.9,353.3 145.8,361.1 171.7,367.4 122.1,348.9 116.8,349.2 145.4,356.3 170.0,366.8 114.7,345.7 151.2,359.4 113.2,347.8 146.1,359.8 146.0,368.9 160.5,382.8 176.3,377.6 190.1,383.3 202.3,381.9 214.7,389.1 226.2,397.8 229.6,386.2 238.9,385.4 289.3,399.8 289.3,412.7 297.4,408.4 325.7,427.2 374.4,449.1 388.2,433.8 437.8,511.1 193.6,373.2 196.5,367.5" fill="none" stroke="none" marker-start="url(#mloss)" marker-mid="url(#mloss)" marker-end="url(#mloss)"/>
<polyline points="288.9,289.1 300.8,286.9 297.8,295.9 294.1,300.3 300.8,308.6 239.5,307.1 223.8,312.3 202.2,314.5 187.2,327.3 166.3,332.5 173.8,329.5 167.8,354.9 182.7,325.0 167.7,354.5 193.6,366.0 203.7,366.9 228.2,373.2 298.8,379.0" fill="none" stroke="none" marker-start="url(#mund)" marker-mid="url(#mund)" marker-end="url(#mund)"/>
<polyline points="886.9,307.1 832.8,330.2 839.2,332.5 827.0,334.0 839.7,331.7 862.6,319.4 837.0,331.6 819.1,336.2 861.5,322.1 873.5,316.2 824.6,337.1 849.1,328.1 821.0,337.4 815.8,341.1 845.3,329.3 838.5,332.3 886.2,315.1 815.5,340.2 866.2,320.4 873.4,319.5 848.5,326.6 854.9,326.9 835.5,334.6 835.9,333.8 819.5,337.8 889.4,304.2 817.1,339.4 827.0,334.7 872.6,322.9 851.6,325.6 855.8,324.8 839.1,332.6 828.9,333.0 879.1,315.0 825.9,338.8 839.2,334.5 874.9,320.1 839.4,331.3 895.2,302.0 830.0,334.9 857.0,325.2 857.8,325.5 854.9,324.1 876.9,316.6 818.9,338.4 858.4,325.6 878.2,322.1 819.3,339.0 858.4,319.4 850.3,324.3 847.6,323.6 857.8,322.3 864.5,324.2 870.9,320.9 888.6,307.6 867.0,322.0 904.6,296.3 867.7,315.7 837.2,327.8 827.8,332.7 821.3,339.8 837.1,328.0 825.5,338.0 869.2,325.0 869.7,319.2 863.5,322.5 845.9,326.9 852.1,326.5 836.4,333.2 891.0,308.7 815.7,341.3 841.1,333.2 860.5,325.0 830.4,334.2 884.1,312.8 853.4,327.2 845.0,325.8 820.5,338.5 838.1,331.5 861.8,320.7 838.1,336.4 818.8,337.4 861.0,321.0 839.8,331.2 883.3,304.9 869.9,316.8 872.3,312.7 887.7,306.6 880.0,314.6 841.8,330.7 860.2,327.6 836.4,333.5 832.0,335.7 832.3,334.2 824.8,335.0 834.9,334.7 833.8,331.2 868.3,318.2 835.8,335.5 818.9,339.8 848.9,328.2 831.9,334.7 869.7,323.1 833.5,329.2 859.3,324.0 830.0,330.9 853.5,326.5 885.4,309.3 839.8,334.0 857.0,326.6 850.2,324.8 821.2,337.6 816.2,338.5 883.0,314.0 842.6,331.0 869.4,321.0 848.2,322.3 882.6,312.5 831.5,334.3 853.6,327.0 858.6,328.2 878.6,310.4 817.2,340.1 844.3,327.3 853.0,326.9 861.7,324.8 827.3,336.2 858.2,322.8 870.0,320.4 873.3,313.6 833.7,329.0 850.3,328.7 839.4,330.5 846.3,323.9 844.4,326.7 894.3,306.6 815.5,342.0 894.7,310.5 817.6,340.3 821.9,334.3 832.3,332.6 838.5,332.1 884.4,314.6 882.9,315.7 892.9,306.4 846.4,333.3 815.7,341.8 864.6,321.8 888.7,305.9 824.5,339.8 881.6,312.0 814.2,342.1 873.3,325.8 854.4,323.0 889.7,310.7 886.1,310.2 818.9,339.4 854.7,326.7 835.1,336.7 850.2,328.9 820.8,337.7 844.2,332.1 847.9,327.1 814.4,340.4 852.9,332.7 888.2,306.9 820.3,337.3 894.3,306.7 854.1,322.7 832.7,327.9 897.9,308.1 852.9,324.0 850.0,325.6 845.4,327.7 886.8,307.0 826.4,333.0 832.7,333.1 838.3,336.4 820.5,339.1 883.1,317.0 854.0,321.4 862.7,322.9 887.2,305.9 854.5,328.1 837.7,330.6 857.3,325.0 854.9,325.4 839.5,329.1 834.3,328.6 844.0,330.7 873.5,312.6 829.2,331.2 903.7,298.2 834.6,330.4 837.4,331.9 825.8,337.4 846.6,329.0 845.1,329.3 869.1,320.2 888.4,314.0 835.5,327.3 880.0,316.8 840.2,327.9 847.7,324.5 826.3,335.2 888.0,308.9 845.2,330.4 870.6,323.6 816.9,337.1 870.3,319.3 833.9,337.0 851.2,329.4 868.4,325.7 829.6,333.9 857.0,320.5 882.4,309.0 829.1,335.5 852.4,329.3 830.6,331.7 827.5,334.1 854.1,326.7 851.6,321.6 866.0,320.3 884.4,320.0 871.1,327.4 842.3,329.4 853.8,331.5 868.4,318.5 882.6,310.3 869.1,312.5 855.1,328.5 826.7,334.3 885.5,321.7 838.1,331.8 847.6,328.5 887.1,303.2 832.4,336.3 890.4,307.5 834.1,331.9 822.7,333.4 855.9,328.2 878.7,320.0 847.4,326.4 883.0,314.2 846.9,329.3 880.5,319.2 825.0,336.0 838.3,335.3 825.8,335.0 873.9,315.5 852.6,325.0 866.9,313.8 834.8,330.1 873.5,322.1 902.7,300.6 822.0,335.9 841.0,331.0 885.6,303.2 883.8,311.9 885.8,314.2 833.9,334.0 859.7,321.7 822.6,338.5 849.6,332.8 860.7,322.5 836.4,333.4 848.9,323.1 844.6,323.6 822.5,338.0 821.0,337.7 877.5,317.2 814.3,340.2 901.1,300.3 888.5,313.7 901.4,306.5 877.9,315.2 814.2,339.2 825.2,338.2 841.0,331.7 830.4,335.0 820.3,338.3 890.8,317.9 890.0,309.6 876.2,319.0 835.9,327.2 883.9,310.6 880.9,311.8 841.4,329.9 826.2,336.0 826.9,333.4 847.9,332.8 882.0,309.5 821.8,336.6 849.5,328.1 843.7,325.9 888.0,313.1 828.2,335.7 866.9,320.1 841.3,335.0 866.2,321.7 857.6,250.7 848.3,301.4 913.2,276.9 929.6,292.5 918.1,299.1 959.3,269.4 959.9,280.1 968.0,276.9 971.5,278.9 972.9,264.8 981.5,262.5 983.0,248.7 987.3,256.4 991.6,243.2 994.5,252.4 990.2,278.4 1006.0,268.0 1011.8,256.4 1011.8,259.3 1013.8,227.6 1017.6,243.8 1021.9,245.8 1029.1,246.6 1037.8,242.0 1047.0,253.0 896.5,299.1 905.1,294.8 899.4,307.8 893.6,303.4 885.0,310.6 882.1,319.3 876.3,313.5" fill="none" stroke="none" marker-start="url(#mgain)" marker-mid="url(#mgain)" marker-end="url(#mgain)"/>
<polyline points="914.1,343.3 975.9,338.2 1024.2,340.9 878.3,341.9 973.4,335.3 921.3,341.2 1112.8,337.9 852.3,346.3 1185.0,337.8 903.6,340.9 938.4,343.4 845.4,348.0 1150.2,340.8 1119.3,341.7 842.5,345.5 1010.1,341.3 960.0,342.5 1038.5,340.2 940.1,340.9 1167.6,339.2 897.2,349.1 1116.4,338.9 915.3,340.9 1054.3,338.0 973.6,339.4 1009.3,339.9 1007.9,336.1 1045.7,333.6 842.6,345.0 839.5,338.8 1174.3,339.6 910.0,342.3 947.7,343.8 905.1,347.4 1052.9,340.1 1180.9,337.5 964.5,336.5 934.8,338.6 945.1,340.7 827.6,338.2 850.6,344.4 835.4,343.8 935.8,342.8 1181.2,338.1 869.3,343.7 1017.7,337.1 893.3,341.0 831.2,338.4 1122.6,339.1 864.2,348.9 867.1,344.0 1115.4,339.8 906.6,338.9 890.3,347.3 1162.0,336.7 888.6,345.3 1120.6,339.1 929.5,338.2 1023.8,342.0 931.1,341.1 941.3,341.2 1157.6,340.0 1148.3,338.6 881.5,341.7 1081.6,340.2 868.7,342.1 926.8,341.4 843.6,341.8 1053.7,334.9 1082.3,337.1 1089.6,337.5 1099.8,338.9 961.6,343.3 882.4,337.3 816.7,343.7 978.1,333.5 1158.0,335.9 981.2,337.9 1042.0,333.3 1151.6,333.6 1131.9,339.2 1087.2,339.1 1033.5,338.8 902.3,339.6 1090.4,344.7 969.9,339.2 1075.0,336.6 899.2,347.7 1161.0,340.4 877.6,341.9 1105.7,342.1 1142.0,339.2 873.2,345.4 1132.8,339.4 1052.4,336.2 1037.6,341.8 910.3,342.4 937.4,337.8 903.4,339.7 978.5,341.9 1053.7,338.0 1083.1,339.1 1074.8,340.8 944.1,341.0 940.2,336.2 1095.8,340.6 1175.8,341.3 898.5,345.1 968.1,344.2 918.4,342.7 1176.2,340.9 823.1,347.1 1142.7,337.9 1097.2,343.7 938.7,346.0 1065.6,341.1 952.4,345.6 1049.7,341.4 972.7,337.1 1151.0,341.8 984.4,340.2 1113.6,340.0 1027.6,339.6 953.4,344.2 1172.4,340.3 889.0,340.4 1148.5,340.0 1179.5,340.8 1127.0,336.8 1040.1,337.9 1044.5,338.0 1156.1,337.1 975.5,340.4 1118.0,341.6 1099.9,344.1 1130.5,342.1 978.3,342.1 1055.4,342.2 851.4,348.7 844.1,342.7 857.0,346.3 1085.6,339.8 947.1,340.1 1148.5,337.5 846.7,342.3 880.6,342.1 1122.3,335.4 970.2,341.1 898.1,342.3 1102.2,339.2 903.2,343.2 1175.6,340.8 917.9,339.7 1130.4,338.5 992.5,334.8 1158.8,333.1 925.7,335.3 1154.8,342.9 928.1,335.6 981.0,340.6 1048.1,343.1 1019.7,337.9 1062.1,343.5 1071.2,344.1 915.4,344.6 819.3,347.1 1081.2,340.7 1036.4,337.1 1023.0,340.6 998.3,338.0 1156.1,335.2 926.0,337.4 1149.9,344.5 879.0,341.3 1070.7,338.9 1161.3,337.0 874.0,343.7 1098.2,338.2 917.3,340.4 839.3,340.1 974.8,335.6 1072.3,337.0 921.0,342.4 1165.0,344.4 815.4,344.8 915.3,347.4 942.2,342.2 952.9,340.1 927.0,337.2 825.3,343.8 894.3,335.7 913.1,340.9 1062.7,343.5 955.2,341.2 1080.8,342.1 978.9,338.3 941.9,336.7 875.7,341.6 901.0,341.0 1146.0,342.1 983.6,344.8 932.0,338.9 897.3,341.3 1137.0,338.4 1074.2,338.1 1070.7,335.6 1110.8,339.2 905.7,343.3 1084.0,340.1 843.9,340.1 1059.9,338.8 935.2,335.8 1058.8,341.6 900.4,339.1 946.5,339.8 1061.9,337.8 1160.5,337.3 941.9,337.6 879.4,337.2 863.2,349.7 1062.3,339.8 1143.4,339.5 823.4,348.2 943.4,340.4 879.4,345.0 1166.9,339.0 866.0,347.7 842.8,345.7 1097.5,339.8 1189.4,338.4 1099.6,339.7 859.6,347.9 966.3,334.0 1007.2,338.9 1145.0,337.7 1092.1,338.2 839.7,337.7 982.8,341.4 1101.3,336.6 1015.6,338.6 1060.6,337.7 1172.7,334.6 1178.2,337.8 1122.5,333.8 1026.1,336.6 929.8,340.3 876.0,343.2 878.8,343.3 1051.0,338.8 1099.2,344.7 1130.5,340.1 1150.6,335.4 922.7,339.6 939.6,338.9 889.3,342.2 1015.9,337.6 1163.4,336.6 1093.7,343.5 976.9,339.6 875.8,342.1 1124.7,338.2 1144.1,338.2 1097.5,342.8 924.2,342.9 959.9,343.3 1030.3,333.3 1152.0,339.7 906.2,345.5 970.7,345.2 839.8,344.1 815.9,341.4 906.5,344.0 1112.4,337.3 1063.7,334.2 991.4,337.7 967.0,342.8 914.3,345.6 1096.7,341.0 995.4,336.5 843.4,351.0 1046.2,335.9 1186.0,338.9 844.4,339.3 1188.3,342.4 854.1,345.7 929.9,343.9 1177.1,339.2 1174.9,338.8 885.1,343.5 1080.1,333.9 1040.9,341.9 962.8,342.6 1103.2,337.9 1048.9,339.1 899.8,343.4 996.3,343.7 1076.2,340.3 1044.1,339.3 1015.5,337.9 1086.4,334.9 866.9,341.6 833.5,344.2 829.8,343.2 1043.8,339.4 976.0,341.6 1122.1,340.1 1174.6,339.7 858.6,346.2 955.8,340.8 970.6,339.6 1016.8,340.6 1149.0,334.1 1036.3,342.7 928.8,337.4 1059.2,341.4 937.7,341.0 1020.0,342.3 853.8,344.3 1023.2,336.7 992.1,342.3 1052.8,339.7 1024.2,339.6 1026.4,339.5 1086.3,341.8 866.4,346.5 1091.5,339.7 1044.9,334.9 1068.5,338.0 963.3,340.3 848.9,350.5 1153.6,339.9 1118.9,338.7 1176.9,342.1 985.4,339.1 1140.0,338.8 1135.1,339.3 1018.0,335.2 1145.7,341.5 1114.4,340.1 855.2,343.1 866.6,339.8 966.2,340.5 1011.9,343.2 1055.4,337.4 1023.3,336.4 1136.8,340.1 1109.4,334.6 855.2,336.6 941.4,339.5 1141.1,337.0 1092.8,338.3 822.8,342.6 1046.0,340.1 863.8,343.0 1001.1,337.7 1186.5,338.0 845.2,346.3 1117.7,341.6 993.9,341.9 1178.3,340.9 1130.8,333.0 841.5,340.9 1052.1,338.3 1131.0,339.5 919.5,336.7 1074.4,343.0 910.4,343.0 892.6,340.7 938.8,341.5 924.5,340.5 1170.4,337.0 903.4,343.9 972.4,338.4 994.7,335.5 1069.5,337.4 1173.9,338.7 1041.4,336.3 1131.2,342.4 865.7,340.0 1058.6,344.0 880.6,346.2 1135.0,336.3 1034.7,339.6 867.4,347.7 1127.3,338.4 1009.0,336.1 994.6,339.7 847.4,351.1 1148.0,334.8 1004.9,340.9 1132.6,339.0 845.3,343.8 1065.3,338.1 954.5,339.5 1013.2,342.2 1045.1,340.9 1118.5,336.3 1154.1,343.2 878.6,339.0 1130.8,340.8 860.4,344.6 820.4,345.9 927.5,342.5 921.5,344.9 1098.6,339.0 1021.9,342.0 959.2,341.2 1105.7,344.6 1159.0,337.1 1051.3,342.5 1055.6,340.5 1131.5,339.4 924.4,339.8 1187.5,340.3 882.0,338.3 834.3,339.8 1117.5,341.0 881.3,338.0 940.0,345.3 1004.6,338.7 858.3,344.9 972.1,340.0 946.7,342.0 849.1,343.4 1037.4,338.3 982.1,339.1 876.0,346.9 1104.7,342.2 967.1,343.5 827.1,344.9 1138.0,338.4 966.8,335.2 851.3,346.6 923.0,344.2 910.7,340.8 833.9,346.6 938.3,344.9 879.3,343.6 895.6,346.1 1063.3,340.1 875.5,337.6 825.4,342.8 882.9,341.8 925.4,343.2 877.9,340.5 1035.3,338.1 1138.1,336.3 1120.2,338.9 989.1,339.7 1103.8,341.8 1105.6,341.3 1048.9,339.7 1110.1,339.7 955.7,340.7 1090.1,339.4 1008.1,343.7 1086.8,333.1 1086.9,338.6 841.9,345.3 1121.3,342.1 831.0,340.7 973.5,340.7 1033.0,341.7 1117.6,337.8 838.8,338.0 1062.3,338.2 943.4,337.3 832.8,346.1 938.8,338.5 1051.1,344.2 848.0,344.8 1126.7,336.8 833.5,342.5 904.9,338.8 937.9,342.2 841.2,349.1 1154.9,338.4 1172.2,341.5 1147.3,336.3 890.2,343.9 1121.2,344.6 940.8,336.8 923.0,345.4 1069.0,342.4 848.9,337.8 817.4,341.6 1157.0,336.3 946.7,343.6 1107.3,337.9 972.9,339.3 851.6,346.8 990.6,339.8 880.1,344.0 847.3,343.2 824.3,346.4 963.8,337.9 912.0,347.3 940.2,340.0 1170.0,337.0 1119.7,340.8 1074.8,340.4 906.7,336.0 1090.9,339.7 1071.9,335.5 1010.1,337.1 904.8,344.8 893.5,339.9 970.6,340.8 918.5,340.6 1140.0,344.3 987.4,339.2 1064.6,336.0 1144.4,335.9 1044.0,336.8 876.4,343.8 934.1,341.2 1153.8,341.6 834.6,344.6 898.6,342.9 1042.9,340.2 1128.8,338.6 1116.5,339.8 1083.9,341.3 1073.5,341.3 953.9,338.8 840.2,338.4 1049.3,337.0 844.3,345.2 1108.5,333.1 865.6,342.1 826.6,345.1 1189.5,337.7 878.8,339.5 1029.7,344.1 840.3,348.6 1179.3,338.4 823.2,346.6 1068.3,342.7 1125.0,335.8 925.7,347.7 818.8,342.2 831.3,343.2 840.0,340.6 1092.5,339.3 1010.2,335.7 1144.2,338.9 1048.1,342.2 1034.1,339.8 891.3,341.9 899.3,347.4 1178.1,336.7 1165.9,341.5 977.2,338.7 1107.3,339.6 1080.0,339.2 919.0,342.1 890.6,342.6 1090.5,336.9 1170.5,337.5 1180.8,340.2 947.9,340.3 841.7,340.3 934.1,339.0 843.3,341.8 1182.9,338.9 929.7,341.8 1126.4,339.2 907.6,340.0 1169.2,339.0 995.9,335.6 1121.4,333.0 1036.0,339.1 1096.7,334.4 844.4,341.0 849.8,340.0 947.9,342.4 1137.3,335.5 1148.9,339.6 1076.5,337.7 1035.8,335.8 835.7,339.0 1155.9,340.1 1058.1,340.2 1042.1,341.3 1124.4,343.9 903.9,343.1 1043.5,339.9 1066.5,338.7 1093.1,339.3 852.4,342.9 1083.0,336.5 1146.5,344.2 1046.6,334.0 879.7,343.9 1152.3,340.0 855.0,344.5 901.7,339.2 1129.1,338.3 1032.2,337.9 940.0,337.6 1110.4,338.7 1053.5,337.9 860.9,341.8 902.4,344.4 1112.9,335.9 1113.1,340.1 844.9,342.0 1007.7,340.4 1077.4,339.2 936.3,341.6 840.7,340.8 969.7,337.5 1158.6,336.5 1083.7,339.4 895.5,344.8 1125.4,341.7 1060.9,337.6 923.5,341.6 915.6,336.6 882.3,336.0 965.2,337.3 948.9,338.5 921.7,336.6 1135.9,333.8 1094.9,340.3 997.3,337.0 1170.5,334.4 1063.1,344.8 1165.7,339.2 1118.1,337.9 1048.8,340.9 1070.4,336.9 1100.0,343.2 1093.5,334.6 1135.9,335.1 941.6,340.2 950.2,338.1 907.8,346.3 1153.5,334.3 1146.9,336.6 978.8,339.9 963.9,341.4 866.1,346.8 1176.5,339.7 1062.5,344.8 1170.9,337.5 1048.0,339.5 1005.0,341.5 1090.5,338.0 1140.8,337.8 1125.4,337.4 943.8,338.6 1002.4,336.0 1162.6,337.2 1002.2,334.9 1109.8,339.8 1008.9,334.7 1120.9,344.4 842.7,349.5 814.7,344.7 850.9,343.2 976.6,337.7 951.6,343.7 1168.8,339.2 1188.2,340.3 866.8,340.9 1121.6,341.6 1003.2,336.9 1124.1,339.0 952.2,335.2 1099.1,337.0 816.9,344.2 988.2,337.9 939.0,339.3 909.6,344.2 927.3,340.9 970.4,342.9 998.4,333.5 1009.0,340.6 1085.3,340.2 1118.9,334.4 1169.9,335.3 1061.5,341.3 911.3,338.3 1028.6,337.2 977.5,340.8 903.5,340.9 938.9,342.1 901.3,339.3 1014.0,339.8 841.9,347.3 1015.6,339.9 967.8,333.8 818.1,344.5 918.3,341.6 1174.4,336.4 1028.8,342.8 841.4,338.1 1028.2,344.1 1074.1,337.1 866.9,348.6 964.5,339.6 895.7,338.0 1015.4,339.3 1117.2,339.6 905.1,343.6 868.6,346.8 868.5,340.2 1041.5,340.3 843.1,346.2 1009.5,338.3 1112.7,336.1 1096.9,336.1 1061.8,340.9 820.4,345.0 975.0,337.0 906.5,337.6 1005.4,342.4 873.1,337.9 867.1,343.8 1165.4,336.5 1138.4,333.8 853.4,344.2 1119.2,338.1 841.9,348.5 941.2,346.9 1186.4,338.4 1160.9,341.4 988.0,342.0 1073.4,337.4 957.2,337.5 1126.8,343.0 932.9,339.8 893.0,342.3 870.4,342.2 1047.5,338.5 1020.9,337.3 1146.5,340.6 871.3,347.4 1110.7,337.7 1162.2,335.0 1089.8,338.9 859.7,338.5 873.7,340.9 849.8,348.2 939.4,347.0 1094.2,339.8 870.6,339.6 981.3,341.3 834.0,337.4 1064.8,336.9 853.8,349.1 1106.6,340.7 1040.9,335.2 887.2,337.1 1072.1,341.2 945.0,340.3 1008.5,337.4 1020.5,340.1 916.7,339.7 969.7,334.1 1104.1,340.9 1132.6,336.8 1126.8,335.9 1024.7,335.3 1135.5,339.3 869.0,340.5 1180.9,340.4 834.3,342.9 1145.2,341.5 1106.1,337.6 959.9,338.0 1105.6,333.3 1168.2,335.8 877.6,345.3 1054.3,344.8 816.8,341.8 1059.7,336.0 840.2,344.9 1061.0,340.2 827.6,341.8 964.7,339.9 1133.4,334.2 929.4,340.1 1173.5,341.1 989.4,343.6 884.1,342.1 1159.1,337.9 874.4,344.5 1034.1,342.0 1161.8,339.9 1160.9,336.6 1020.1,340.0 895.1,345.4 1000.1,337.1 924.2,337.1 932.3,342.4 933.4,341.9 891.3,345.5 832.0,343.9 1091.2,337.0 821.4,342.7 1026.5,336.2 951.5,337.4 1054.5,337.4 1029.2,337.7 992.2,342.2 1100.9,335.4 1026.1,338.9 1144.9,337.0 1030.9,343.0 1136.9,339.3 1132.4,337.6 1075.1,341.1 937.7,340.9 995.0,337.8 846.6,349.1 1081.9,340.7 1053.1,343.6 1115.8,341.8 848.6,346.6 864.6,343.9 1053.1,335.9 1084.4,340.7 844.7,344.1 829.0,345.6 936.1,340.7 941.4,338.5 836.8,340.6 853.4,346.3 892.1,346.6 822.0,343.0 871.7,344.7 827.1,347.2 952.5,337.7 1090.4,337.9 1058.6,335.8 1037.9,342.2 988.2,339.9 886.1,341.1 835.4,338.6 885.4,342.1 1163.6,341.3 1114.2,337.9 1025.3,337.9 1041.1,340.7 1089.1,335.4 1117.1,338.8 905.8,343.8 1109.9,336.6 1053.9,336.7 919.1,342.2 922.6,341.0 880.2,342.1 1017.1,339.6 1173.3,339.3 1105.4,336.2 878.5,340.7 861.5,345.1 920.4,344.8 877.7,347.5 869.7,340.4 1084.3,341.8 932.4,343.2 1023.7,339.0 932.6,342.4 1181.3,340.9 1033.4,343.9 868.7,339.8 1100.8,340.4 923.3,340.8 983.5,338.6 922.4,344.8 996.1,341.4 929.8,338.0 934.6,340.0 875.2,343.8 1169.3,335.1 893.4,345.2 920.8,341.1 967.2,340.1 860.8,344.8 901.3,347.8 966.2,339.8 1030.4,338.1 1013.1,343.8 952.1,338.8 1064.2,337.5 1089.3,335.0 914.4,345.0 905.1,342.8 1045.5,340.3 967.6,340.1 1120.1,338.4 819.8,342.2 1015.0,337.0 944.8,341.7 895.2,342.7 1133.8,343.1 896.8,339.8 1104.9,337.5 1128.8,335.9 1172.7,342.4 860.2,339.4 874.7,345.7 848.4,348.9 934.5,340.5 1148.0,340.6 1052.2,333.3 874.2,341.8 856.3,338.1 1090.7,339.3 1044.8,339.0 815.5,342.6 1031.7,341.6 887.0,343.8 924.7,339.7 854.6,342.1 1185.0,335.2 984.2,338.7 1042.4,344.8 892.2,340.2 954.4,341.3 1053.4,337.5 1089.7,341.0 1148.0,339.8 908.0,341.1 905.2,336.4 964.6,338.3 930.1,344.6 1116.2,338.1 953.0,342.0 953.8,338.8 1000.8,334.1 1023.2,340.2 946.5,341.4 819.3,342.6 1085.6,337.8 859.6,344.7 1128.9,337.1 907.7,343.0 910.9,341.1 1012.7,333.4 1148.2,338.2 956.4,338.4 992.8,336.9 968.8,340.7 858.7,342.1 922.8,343.0 1151.6,341.6 1160.4,339.1 910.7,337.0 1152.9,336.7 822.8,345.5 1079.5,338.2 827.1,341.6 973.0,339.2 968.1,341.0 976.2,340.0 1161.1,340.4 946.1,338.1 823.9,343.0 858.0,342.9 1090.6,338.8 864.6,336.4 839.2,343.1 889.0,338.3 1177.7,342.4 979.7,343.5 871.8,348.9 1057.6,341.2 955.3,338.7 1019.1,341.7 1187.6,338.4 1072.4,340.6 1012.6,336.7 1189.0,337.5 1001.9,340.4 982.7,344.1 1127.5,338.7 1168.4,344.4 1079.8,344.7 950.8,336.6 964.4,339.7 819.4,342.0 905.1,341.6 1100.7,337.4 995.8,339.0 1129.7,341.3 1061.8,341.5 1023.9,339.8 1111.2,338.8 999.1,339.5 1060.8,339.3 996.2,340.8 946.2,340.5 1096.4,340.2 843.8,339.6 1177.4,340.9 1169.6,343.3 1120.2,339.3 988.0,335.4 981.7,342.9 964.4,338.9 985.1,333.5 898.6,341.6 1108.8,340.5 1138.6,339.7 1000.1,342.6 1128.4,340.4 924.0,341.7 1130.8,333.4 1175.5,336.0 1061.9,339.5 1170.6,340.6 1082.2,336.1 1070.3,337.3 990.1,340.5 839.6,337.8 863.5,337.0 1119.2,338.1 884.0,343.6 1067.7,337.6 876.1,336.1 1092.8,338.9 1167.3,335.3 1042.9,340.8 832.0,343.5 1086.2,339.6 991.1,341.0 1133.0,337.3 872.1,346.0 920.0,345.3 1152.5,339.8 1122.6,342.4 1148.8,337.0 1007.4,341.7 1063.4,339.7 1157.8,336.1 1058.1,338.8 849.7,342.2 874.2,341.3 815.6,343.6 858.4,347.4 827.7,342.9 957.9,340.4 1042.3,335.0 1131.4,339.0 966.6,342.9 876.4,345.8 1076.7,318.7 1081.0,326.5 1111.3,324.5 1220.8,340.9 1196.3,347.5 1062.3,362.5 996.0,353.9 965.7,351.0 928.2,353.9 936.9,355.3 916.7,332.3 938.3,329.4 967.1,327.9" fill="none" stroke="none" marker-start="url(#mcnloh)" marker-mid="url(#mcnloh)" marker-end="url(#mcnloh)"/>
<polyline points="1082.3,466.1 1086.4,477.8 929.7,393.0 892.8,366.3 972.9,405.1 925.7,384.4 1006.8,420.0 1013.4,422.4 959.5,395.9 1127.0,456.7 945.8,396.8 1128.7,472.2 946.6,385.5 859.0,367.0 940.8,396.5 980.1,410.3 898.8,380.8 849.1,356.6 884.9,373.2 985.5,419.4 856.9,366.6 817.0,347.1 1047.3,431.7 1126.0,461.3 1038.9,441.3 994.5,418.9 967.3,403.5 924.1,377.7 946.5,393.4 972.6,395.1 880.4,377.2 856.4,363.2 957.2,398.2 935.3,392.5 1145.2,513.2 897.2,384.6 897.1,371.9 840.2,356.4 817.9,345.4 843.5,352.7 932.7,394.1 1119.0,501.7 838.5,360.7 847.6,359.5 954.1,399.3 875.3,370.3 825.1,352.9 1054.5,423.9 845.4,352.7 901.4,389.9 975.4,410.8 984.9,423.2 1111.9,469.6 932.9,401.8 845.3,356.6 832.1,355.2 944.4,407.3 920.8,394.1 865.0,363.6 848.6,362.7 884.6,370.2 872.5,361.9 885.5,376.2 884.9,380.0 974.7,414.4 906.3,375.8 1023.2,432.0 914.2,389.4 873.0,366.4 1085.0,426.6 946.4,404.9 1019.8,430.9 861.8,366.4 1127.4,447.2 942.5,388.0 889.4,380.2 865.3,369.0 835.7,356.6 822.3,348.9 854.6,363.3 876.8,367.5 919.9,386.3 893.9,372.9 825.1,351.3 844.5,357.0 818.8,348.9 824.0,351.6 874.4,365.3 943.3,408.6 846.3,355.3 1051.1,439.9 1141.5,497.5 937.9,402.9 825.7,346.6 851.8,364.4 916.0,393.2 1094.0,474.8 1135.6,447.3 969.5,402.4 1056.7,437.5 835.3,353.9 915.2,393.5 909.6,380.2 858.6,368.0 926.7,394.0 926.5,382.3 1125.8,458.0 829.5,351.9 874.7,369.6 849.7,363.6 859.9,363.0 878.4,374.9 888.3,367.2 1113.4,436.3 880.4,369.9 910.7,386.7 848.7,358.6 859.4,359.6 858.6,364.9 927.8,402.4 875.0,368.8 870.5,364.3 918.4,382.7 818.3,350.0 1034.6,428.7 826.3,352.8 896.5,384.5 1143.0,498.1 849.1,356.8 825.0,352.7 911.1,389.0 941.5,399.6 890.9,380.9 859.3,361.3 956.4,402.1 932.2,389.8 884.0,376.7 938.0,391.3 1017.8,426.3 916.7,380.7 892.0,375.8 938.0,393.1 914.8,385.4 835.7,355.6 1067.4,441.6 840.6,356.3 971.4,393.4 900.8,385.8 986.3,408.0 918.3,386.0 1005.5,412.6 907.9,388.5 864.6,361.6 981.1,414.3 1009.8,429.5 914.3,394.8 1089.0,468.5 960.9,408.2 1092.0,440.4 854.5,366.6 1101.3,476.5 980.1,416.3 1100.7,470.9 884.6,373.7 925.0,387.1 1060.0,450.8 951.7,408.8 872.7,363.6 872.7,372.5 1103.7,465.2 951.4,406.2 826.6,352.2 866.8,370.9 925.2,396.1 853.3,364.7 907.2,375.5 950.5,405.5 832.8,354.4 865.8,361.2 1048.7,441.1 824.1,347.6 838.1,358.7 1005.1,431.7 952.7,398.0 908.2,388.2 1031.3,431.7 857.0,365.3 815.4,344.2 1000.5,421.8 943.1,398.2 882.0,375.8 930.0,392.2 832.3,356.9 877.3,371.6 927.7,395.2 1020.9,435.3 878.1,371.5 828.3,354.8 833.6,355.2 876.1,372.2 940.5,393.2 960.3,409.1 957.4,411.0 1043.8,432.0 954.0,406.8 951.2,403.4 933.2,387.0 950.2,402.5 967.6,415.3 1129.9,468.8 851.4,354.6 944.4,399.2 840.6,355.1 856.6,369.8 1087.1,452.7 895.3,377.9 927.4,387.6 857.6,364.0 915.8,383.5 820.3,346.9 930.3,392.0 1110.6,454.5 955.5,410.8 949.9,392.9 924.8,389.8 878.8,367.9 982.4,401.8 892.1,384.7 882.0,362.6 923.3,397.7 1128.8,453.7 968.7,407.5 952.2,414.3 841.4,350.9 998.2,406.6 898.8,386.0 941.0,397.7 926.1,387.6 987.2,412.8 822.1,347.6 835.4,355.6 871.2,374.4 855.9,361.0 954.0,402.7 839.2,360.0 834.4,360.2 919.7,384.9 829.3,353.8 991.1,410.2 880.6,368.8 875.3,367.8 933.9,390.1 1130.0,449.7 871.6,359.3 860.4,361.2 888.2,375.6 984.6,420.6 1092.7,449.7 846.5,358.6 821.6,350.1 876.0,373.2 878.9,370.5 973.0,408.0 953.7,413.5 972.9,406.0 892.9,374.6 899.9,371.7 1099.9,465.8 825.7,350.6 819.5,350.8 818.4,346.9 1003.3,424.4 917.3,392.3 957.5,413.7 947.0,391.0 1000.9,429.0 919.7,388.2 880.4,371.2 838.2,355.3 896.5,376.5 854.4,360.7 1086.7,427.2 978.4,413.6 871.8,368.4 916.0,381.5 907.9,382.9 935.5,406.8 1104.2,467.6 870.1,365.8 937.7,405.4 914.7,381.9 1110.8,463.9 858.9,361.4 945.6,397.0 834.1,356.7 922.5,392.5 1115.3,458.0 964.3,404.6 822.0,349.3 1137.7,474.6 921.7,388.7 930.1,388.2 1102.9,452.0 931.2,393.0 859.4,359.8 900.0,382.1 973.6,407.2 893.6,372.8 849.2,358.0 892.2,374.3 836.5,355.2 835.9,355.7 840.1,356.2 915.6,381.8 879.0,377.6 851.4,364.0 970.2,408.1 937.1,400.6 1005.0,421.3 847.7,358.7 939.1,396.4 867.7,375.5 912.9,390.6 903.3,386.6 930.8,390.3 928.1,394.8 1080.1,473.7 940.1,398.8 884.9,378.6 991.2,423.2 847.8,361.7 983.0,422.4 929.5,393.3 867.1,368.5 974.6,404.6 838.7,362.4 822.9,350.2 869.4,367.7 914.7,393.5 941.5,393.9 877.6,370.5 929.9,387.7 1134.3,479.0 1157.2,486.2 964.7,409.1 875.3,368.9 909.3,380.7 998.0,414.4 1054.1,436.4 1108.1,457.5 891.9,381.0 882.3,375.5 881.9,372.9 987.0,404.6 1113.2,474.6 926.6,383.7 902.7,382.0 950.1,400.5 898.5,376.4 928.0,386.8 853.0,359.0 835.7,360.9 895.4,376.7 868.7,366.1 846.0,362.0 1119.9,477.1 957.9,409.9 892.0,370.7 1146.9,471.0 837.3,361.8 884.3,373.1 1051.4,433.6 1122.8,474.8 990.4,421.0 852.7,357.2 927.2,392.7 830.3,353.3 828.8,354.3 1034.4,430.6 814.5,344.8 835.3,352.8 837.0,349.7 962.0,410.9 941.0,387.9 858.5,361.8 896.3,386.5 1108.2,458.9 857.4,365.2 829.6,352.6 945.3,402.5 837.4,356.0 925.1,387.4 866.1,371.5 822.2,348.9 948.2,391.4 974.4,406.5 877.6,372.9 847.2,355.8 1130.4,488.4 864.1,368.4 864.4,373.9 887.7,371.7 863.2,367.6 864.3,358.8 1085.2,447.3 832.4,354.4 1014.2,425.2 920.7,388.2 822.8,349.5 845.8,356.9 947.5,396.5 925.9,392.3 863.6,367.3 873.2,371.4 1087.5,465.0 969.7,414.9 949.0,388.9 1084.9,446.0 861.5,363.8 880.6,368.8 1016.6,430.9 902.2,384.6 903.4,380.8 998.7,417.6 1158.8,506.4 1054.4,434.5 981.4,408.9 903.4,385.9 960.5,407.1 860.4,369.4 865.9,367.4 856.2,365.2 954.0,398.4 1105.1,450.4 975.7,409.1 868.4,357.6 948.6,402.1 884.7,377.9 1007.6,420.4 911.0,383.4 865.0,370.0 873.0,368.4 833.0,356.9 886.8,384.4 882.5,375.8 905.6,387.0 947.9,402.3 1088.5,456.9 1003.6,420.4 928.8,392.1 886.8,379.4 849.6,354.9 932.5,391.7 828.9,354.3 826.8,349.9 944.2,397.3 848.4,357.5 1023.6,428.8 951.0,405.8 918.6,395.4 1095.1,463.6 842.1,355.4 876.8,371.3 915.3,389.4 1120.3,491.7 831.8,348.5 934.9,396.3 1081.1,429.9 844.6,360.6 960.0,406.8 956.4,405.8 886.6,378.4 920.9,390.6 1094.3,449.1 907.6,384.9 905.3,388.2 926.8,390.3 822.1,349.3 998.9,408.1 826.3,353.9 1132.5,470.2 1125.0,462.5 1004.2,415.4 1060.9,432.5 938.0,393.9 876.0,375.4 935.4,398.9 953.3,410.2 844.0,362.8 982.8,405.4 875.6,371.7 916.3,394.6 868.3,375.8 871.4,361.9 1045.2,421.5 981.0,414.1 828.6,351.9 981.4,404.3 1085.6,456.7 959.9,399.0 956.8,389.1 867.9,366.6 958.6,404.3 890.3,378.8 1083.8,462.1 960.1,405.1 879.3,370.1 1051.1,430.2 982.5,400.2 855.6,360.7 858.3,366.9 817.4,347.6 981.0,424.7 833.2,354.0 870.1,359.9 969.4,412.4 876.0,374.3 872.1,363.1 829.3,349.2 826.1,351.7 928.4,395.5 843.4,354.6 1118.9,465.4 820.7,347.3 877.9,365.4 852.2,356.6 1064.1,443.5 974.1,406.1 838.1,354.3 827.2,347.1 832.6,358.6 970.4,401.2 972.9,407.3 942.0,390.3 911.7,386.7 906.6,375.0 933.5,394.1 837.6,355.4 991.2,420.6 983.9,404.3 953.8,397.6 862.3,363.7 858.2,370.9 1133.9,456.7 1105.7,466.9 973.2,403.9 987.1,414.9 905.6,385.5 1045.6,434.6 956.3,404.2 901.7,381.9 953.9,398.1 831.9,353.4 893.3,369.1 1020.4,421.5 909.9,380.0 925.1,388.8 926.0,394.6 1100.9,465.3 855.5,363.9 954.0,408.4 903.9,370.4 862.3,366.3 825.7,351.1 936.8,394.3 852.2,356.6 930.7,395.4 900.2,385.5 895.4,382.8 1054.7,436.8 833.9,356.3 926.1,395.6 897.2,387.5 845.9,362.7 893.4,377.7 1037.2,430.8 855.0,362.6 953.5,402.8 868.7,364.8 917.6,391.2 924.0,385.9 830.4,351.4 998.1,418.9 890.1,373.0 857.3,361.9 856.9,355.2 1139.1,492.0 1100.9,460.2 907.8,382.4 869.2,368.9 961.1,405.5 826.6,350.1 1031.2,443.7 815.4,345.3 825.9,353.2 881.5,380.3 905.3,378.9 815.3,345.8 872.1,364.5 1137.6,494.9 982.4,408.9 827.8,349.7 1045.3,444.1 907.1,387.5 1143.9,471.5 878.9,376.2 876.7,370.9 953.4,414.8 911.5,393.5 870.3,365.1 918.6,386.1 943.0,392.1 877.3,370.8 1007.7,420.0 973.4,413.1 974.9,409.3 948.6,390.6 861.2,361.1 960.5,412.8 850.4,364.3 844.1,357.7 914.5,385.2 850.0,359.7 841.2,357.2 932.8,383.7 1129.4,489.1 827.2,350.4 902.9,381.8 834.0,348.9 921.5,389.9 929.0,399.1 912.0,373.4 823.7,352.9 959.1,406.5 915.3,382.4 928.7,382.7 950.6,407.3 1069.8,447.3 901.1,383.2 1075.6,444.4 850.7,357.8 904.8,386.2 850.9,357.4 888.9,379.3 1067.7,426.8 1129.1,461.3 908.4,375.9 870.3,372.9 879.3,363.2 1066.1,431.6 901.8,383.8 855.1,362.9 1014.5,438.4 915.8,396.1 899.6,382.7 1067.5,450.5 972.6,396.0 817.7,345.8 1121.4,466.4 905.0,381.0 851.5,356.1 1073.3,436.4 898.1,374.9 954.8,408.5 974.1,411.2 854.3,360.6 1137.3,475.9 926.5,392.3 827.5,350.5 921.1,387.1 818.8,345.1 1133.0,487.4 950.0,405.8 890.3,377.4 993.5,418.1 991.0,416.5 959.0,416.2 862.2,365.3 834.6,351.3 1029.1,418.9 1055.1,444.2 883.7,377.8 891.7,379.9 894.9,381.7 870.3,368.2 1096.9,439.5 920.0,384.3 961.4,392.9 935.7,392.1 833.9,351.0 830.5,353.6 845.2,358.0 913.2,375.1 940.8,400.6 1152.7,497.5 1065.3,428.7 970.2,408.1 891.1,379.4 883.5,371.5 958.1,408.5 883.8,373.8 979.3,417.3 967.0,407.3 839.8,356.2 995.9,419.2 834.6,356.9 878.3,371.7 1129.0,468.4 946.4,393.8 1029.3,424.2 1087.1,446.0 868.0,367.4 991.8,415.4 888.9,374.7 829.0,352.8 837.2,356.2 841.0,361.6 941.7,403.7 944.1,394.2 1022.9,428.1 873.9,367.3 978.2,409.0 868.4,365.6 877.5,367.5 947.5,390.7 892.9,366.3 1156.4,492.3 878.1,375.8 862.7,361.1 1047.4,438.3 1042.3,428.5 848.2,360.5 882.2,368.5 915.8,385.1 829.3,352.7 888.6,364.7 981.1,412.1 980.4,409.4 845.4,351.8 875.5,372.3 868.7,366.6 954.8,403.1 842.1,358.5 1140.0,475.1 839.0,353.3 919.5,385.3 959.8,400.9 1105.4,491.7 937.7,405.7 1028.6,423.0 919.9,385.7 859.5,364.7 898.4,381.8 936.1,390.3 919.9,382.5 986.0,425.6 921.7,394.4 891.1,368.5 916.8,377.2 917.6,382.5 816.6,346.6 880.4,373.9 928.6,389.4 962.3,394.0 899.7,380.6 972.6,411.8 914.5,385.7 888.4,372.4 863.6,367.2 992.7,413.9 1083.1,437.7 967.2,406.6 859.4,358.5 960.5,409.9 914.8,388.3 1085.4,440.0 815.5,346.0 982.1,419.5 907.3,371.6 1028.8,425.7 935.8,403.8 816.0,344.2 956.6,401.4 920.4,380.2 863.0,364.4 840.2,350.5 894.0,369.2 926.1,387.3 909.6,384.4 818.5,347.8 845.2,359.8 953.8,408.5 922.9,392.9 971.5,412.3 897.2,373.6 866.5,365.3 993.0,430.0 858.9,371.6 828.2,354.2 888.2,378.2 904.3,386.5 857.2,361.2 1111.7,493.4 861.5,362.7 840.2,356.5 948.9,412.8 844.3,351.6 870.9,369.1 897.0,369.8 869.8,364.3 947.0,398.1 843.7,356.8 944.7,398.8 839.0,354.1 930.1,391.3 1132.5,458.7 987.8,410.0 1103.7,442.7 923.0,392.8 847.3,354.9 888.5,378.1 983.4,408.4 842.1,356.5 949.6,407.0 879.2,371.4 1079.4,427.3 884.7,375.6 879.2,361.2 869.4,368.1 921.7,386.4 1109.2,444.7 921.8,389.1 971.0,405.2 917.8,398.1 832.5,352.9 931.6,403.8 933.3,401.3 933.7,389.7 874.6,365.3 868.4,372.3 880.5,370.8 821.8,349.3 847.8,358.5 872.3,362.6 916.2,384.4 1074.4,435.9 959.1,393.4 916.9,385.1 963.5,416.5 903.0,389.3 825.5,350.8 955.3,402.8 960.3,407.1 947.4,407.2 1026.4,428.5 985.6,408.6 1010.7,417.4 825.2,353.1 1159.7,517.1 931.9,389.0 932.9,381.0 937.5,399.7 869.0,366.5 875.4,369.9 1045.5,443.7 934.6,394.1 1116.0,448.4 857.0,355.2 931.3,392.1 934.5,386.8 823.2,350.3 940.4,388.3 891.3,374.2 900.2,372.1 852.6,359.8 933.3,390.6 951.9,404.4 1058.1,451.9 1019.0,421.9 1133.9,464.4 1129.7,506.1 959.0,405.7 871.1,370.3 921.8,392.1 832.7,357.9 927.2,396.6 875.9,372.6 921.0,392.6 973.9,402.3 828.2,350.9 1044.8,431.7 823.4,350.0 911.8,384.7 859.0,364.5 823.7,350.0 909.9,381.5 867.4,359.3 832.0,356.0 1007.8,424.0 864.2,361.5 1096.8,464.2 936.4,396.8 885.6,373.9 828.2,347.9 1028.6,416.9 837.6,354.1 983.4,422.8 919.4,382.9 905.2,380.0 832.1,351.0 898.3,376.4 818.3,347.7 978.4,395.2 960.8,390.3 842.9,359.7 915.7,386.4 851.1,358.4 962.2,410.8 853.2,364.8 850.1,353.0 871.8,367.1 1125.9,490.7 1004.2,413.1 895.0,375.9 991.2,420.8 886.8,372.8 853.0,356.9 1062.3,433.9 823.1,347.2 990.6,417.7 1115.4,442.2 832.8,356.8 1031.4,414.2 984.9,412.1 824.4,347.4 902.9,379.2 867.1,370.5 891.3,381.5 890.8,382.2 893.3,376.4 816.6,346.4 869.3,367.9 872.9,371.0 945.9,395.8 957.8,410.1 974.0,410.5 943.0,404.1 1059.9,444.4 925.1,393.8 877.5,366.8 823.9,349.3 966.5,397.1 926.4,388.7 848.2,358.9 916.0,391.0 1102.0,443.4 935.7,406.9 876.6,369.3 997.4,425.2 893.3,382.0 817.9,344.1 832.0,353.1 1116.9,490.5 834.7,349.1 986.3,417.8 821.8,347.4 899.0,376.8 871.4,368.7 883.4,363.8 834.1,355.1 894.7,374.2 977.0,404.0 918.7,391.3 842.2,364.0 996.7,418.2 1040.8,435.7 905.3,381.6 886.4,370.4 818.7,347.8 830.2,357.0 889.5,376.2 838.5,358.7 1124.0,468.7 944.7,410.9 877.4,362.5 931.2,395.8 849.2,361.7 1079.2,451.7 914.0,379.4 958.7,395.8 851.9,360.0 908.7,383.8 962.7,396.5 891.9,370.9 829.1,354.1 907.8,388.4 1007.6,415.0 906.4,378.6 1133.4,466.1 925.8,402.5 1050.3,439.6 822.2,349.1 941.7,402.6 915.8,398.0 886.1,379.4 1066.5,427.8 834.3,354.4 911.1,382.1 876.1,368.0 1115.6,449.6 985.6,409.1 855.5,358.0 841.3,358.1 820.1,348.2 851.4,355.6 1089.0,432.3 1042.1,427.3 993.9,419.4 894.4,379.7 910.3,383.5 929.1,379.4 999.3,412.7 815.0,344.7 851.7,359.5 930.4,384.8 844.0,356.6 1096.7,448.8 824.9,355.0 1127.7,485.3 858.2,362.2 854.2,361.4 899.1,378.6 943.2,398.2 1133.3,470.8 909.2,383.3 1063.2,451.6 1056.8,446.2 1138.3,484.4 886.5,380.4 908.8,384.5 819.6,346.3 891.2,367.2 885.3,370.0 840.7,356.6 1012.9,424.3 870.8,372.2 841.9,355.5 838.9,353.9 820.3,349.5 975.6,416.8 920.1,385.2 918.4,389.1 897.0,385.3 1119.0,474.2 890.0,375.1 908.9,372.3 956.2,410.8 1089.0,461.3 1030.9,428.5 1049.4,430.5 852.1,356.4 1102.2,459.0 1007.5,418.4 880.7,376.6 996.7,406.5 1109.4,484.8 971.6,407.6 970.1,415.0 1016.8,414.9 1047.0,436.7 985.4,420.6 831.6,354.0 857.1,357.0 840.0,355.6 907.2,385.4 829.2,349.3 923.9,381.1 1085.0,454.1 1135.2,463.7 823.3,351.1 954.2,393.9 844.3,352.2 1033.6,421.9 821.9,351.7 836.5,352.9 879.5,370.9 815.3,345.9 949.1,393.4 856.5,366.5 964.4,406.2 1106.5,468.9 908.0,373.9 908.0,373.6 1153.8,461.8 877.5,369.3 1053.0,434.2 962.5,409.2 816.4,348.0 874.4,367.7 964.8,403.3 825.0,351.6 1030.1,439.7 1075.0,437.4 977.1,413.5 999.8,414.7 933.9,391.4 998.3,422.2 907.5,378.5 896.0,372.5 959.6,407.8 907.0,382.4 876.9,368.7 868.0,365.9 901.6,382.8 890.8,373.9 975.2,413.9 986.6,415.3 993.0,425.3 1021.1,434.2 887.0,378.3 888.4,373.7 1016.5,423.4 851.5,358.6 959.4,417.4 918.7,386.1 950.2,403.4 958.0,411.8 950.8,391.4 862.2,361.1 820.1,347.5 1109.1,450.1 1062.7,428.1 914.7,382.9 948.9,407.5 834.2,356.6 905.7,382.2 931.9,392.8 958.8,392.4 859.1,366.0 834.5,355.9 1116.6,452.1 1023.7,426.6 851.2,359.9 1006.7,415.1 1000.5,409.5 851.8,358.4 996.2,408.5 890.9,378.1 881.5,373.6 847.7,360.4 820.1,371.5 835.9,370.6 857.6,379.3 889.3,404.7 912.9,423.4 984.4,444.7 996.0,445.6 1085.3,512.5 1107.0,506.1 1112.7,506.1 1166.1,509.0" fill="none" stroke="none" marker-start="url(#mloss)" marker-mid="url(#mloss)" marker-end="url(#mloss)"/>
<polyline points="1029.1,296.2 887.8,327.9 861.9,332.3 887.8,361.1 1045.8,405.2 1114.7,418.2 925.3,370.6 890.7,362.0 942.6,362.9 949.8,380.7 958.5,381.3 926.8,373.5" fill="none" stroke="none" marker-start="url(#mund)" marker-mid="url(#mund)" marker-end="url(#mund)"/>
<polyline points="1569.4,316.3 1612.5,302.1 1572.6,307.6 1545.7,328.3 1642.3,294.4 1646.2,284.7 1540.1,334.3 1626.3,292.6 1598.1,302.2 1562.3,304.5 1562.2,318.5 1542.3,323.6 1575.5,312.3 1549.5,314.7 1605.7,305.5 1652.6,293.4 1558.7,326.1 1554.5,309.4 1584.8,309.5 1539.0,329.0 1541.9,318.2 1545.7,321.2 1630.4,291.3 1582.5,315.1 1623.5,288.7 1631.2,292.9 1559.1,316.4 1545.5,325.7 1533.1,329.8 1615.1,301.4 1587.0,310.9 1634.4,282.6 1603.2,306.0 1544.9,321.6 1580.2,306.6 1570.7,317.8 1539.5,327.9 1541.8,328.4 1610.6,302.0 1604.0,302.7 1572.4,308.4 1540.0,323.8 1554.3,322.5 1574.7,314.4 1615.8,298.1 1571.8,310.5 1618.3,300.4 1566.1,313.7 1595.6,294.0 1617.2,297.2 1572.3,314.0 1578.3,313.2 1532.4,328.8 1538.7,325.4 1606.9,300.4 1537.0,327.5 1546.9,323.2 1580.3,313.3 1648.6,289.2 1667.0,289.9 1621.5,296.2 1565.7,322.8 1545.8,328.4 1571.0,322.7 1533.4,331.1 1557.3,317.4 1611.0,305.2 1597.9,298.2 1649.1,284.6 1560.4,317.4 1572.1,313.5 1615.2,287.9 1553.8,321.0 1552.4,319.2 1661.1,284.0 1564.2,315.6 1638.7,288.7 1570.4,317.9 1642.9,291.5 1630.5,291.0 1558.2,317.8 1532.0,335.0 1604.5,304.0 1563.4,321.5 1562.2,314.9 1612.2,298.0 1571.4,322.5 1556.5,318.2 1636.0,300.7 1624.9,298.8 1626.8,290.7 1561.8,308.8 1660.8,287.1 1583.4,303.3 1560.6,312.7 1541.6,320.2 1627.2,300.2 1610.6,298.3 1650.6,287.0 1536.6,330.7 1532.5,332.4 1641.2,289.9 1553.8,322.3 1562.4,314.2 1540.3,319.4 1582.3,311.7 1548.9,324.4 1533.0,331.4 1654.7,293.7 1541.5,321.5 1566.3,302.6 1548.2,329.2 1629.6,295.0 1622.5,284.6 1646.8,285.6 1579.0,312.4 1623.4,287.0 1627.5,296.4 1632.2,303.7 1543.5,330.9 1580.9,308.0 1603.1,301.7 1559.6,312.1 1623.1,295.1 1600.3,298.6 1626.1,287.5 1616.7,288.0 1574.3,321.1 1539.1,328.3 1552.7,316.0 1581.5,305.7 1654.2,293.3 1548.9,329.4 1628.3,289.2 1554.2,320.6 1593.6,308.3 1643.2,286.8 1575.8,304.0 1550.3,317.6 1560.0,316.6 1616.9,291.4 1605.2,291.5 1599.0,299.6 1549.6,326.2 1618.3,299.7 1632.0,290.4 1577.4,319.9 1556.3,314.9 1596.3,301.6 1623.4,286.1 1576.5,314.1 1589.9,303.9 1617.2,285.9 1646.5,283.4 1535.1,336.0 1608.1,302.7 1533.4,331.4 1555.6,322.9 1607.0,289.2 1545.4,321.2 1604.6,291.4 1622.7,289.4 1607.0,296.4 1629.5,295.6 1596.7,307.8 1582.5,313.0 1663.4,292.2 1563.4,312.6 1545.1,324.6 1581.5,310.7" fill="none" stroke="none" marker-start="url(#mgain)" marker-mid="url(#mgain)" marker-end="url(#mgain)"/>
<polyline points="1548.4,343.1 1587.1,343.7 1530.9,342.1 1575.6,345.3 1530.7,339.9 1792.9,336.1 1567.8,345.5 1556.2,342.7 1717.8,339.9 1577.9,346.4 1587.3,345.2 1683.1,338.5 1588.6,342.7 1573.3,337.2 1617.9,341.9 1562.5,343.7 1544.5,337.4 1614.5,345.8 1585.6,347.8 1851.7,340.7 1591.4,344.6 1711.1,343.5 1529.0,342.2 1525.8,344.8 1568.3,343.6 1655.5,337.6 1583.0,339.7 1599.0,340.6 1569.8,345.7 1567.7,342.7 1565.9,345.5 1560.4,341.0 1527.9,339.8 1608.0,347.2 1563.4,349.4 1735.3,340.3 1596.5,341.6 1545.0,346.2 1561.7,338.9 1548.3,341.9 1621.2,338.5 1556.8,344.2 1592.9,342.8 1578.1,341.1 1570.4,340.4 1681.8,336.9 1587.4,339.9 1563.6,346.4 1546.9,341.5 1562.2,346.5 1549.3,339.8 1606.2,341.8 1619.0,340.8 1597.4,341.4 1613.4,343.9 1619.9,337.1 1594.6,344.1 1549.2,344.8 1602.9,342.1 1526.0,342.8 1583.2,341.6 1545.7,344.7 1611.1,342.2 1606.7,339.9 1566.0,342.9 1595.9,344.6 1613.4,342.9 1587.3,342.3 1557.0,343.2 1539.3,341.2 1686.2,339.2 1535.8,337.8 1550.4,342.0 1627.1,343.7 1530.1,341.7 1543.4,340.0 1570.8,345.1 1544.4,343.1 1528.7,342.9 1625.8,342.7 1547.2,344.8 1729.7,339.3 1530.0,340.7 1559.2,348.2 1594.3,342.3 1537.5,340.6 1583.4,342.8 1584.4,345.6 1597.8,338.4 1743.7,342.5 1575.2,341.9 1724.4,344.5 1552.7,344.8 1604.7,341.8 1577.5,346.0 1626.0,344.4 1588.4,341.2 1670.8,341.0 1544.9,341.1 1558.1,345.5 1591.2,338.4 1602.2,341.6 1571.7,335.9 1634.6,342.4 1571.6,335.7 1752.5,336.2 1749.3,339.7 1529.0,341.8 1603.1,340.9 1676.5,338.3 1530.2,341.5 1618.0,337.8 1595.7,343.0 1588.0,344.4 1559.3,345.0 1617.4,341.9 1553.0,346.7 1548.4,344.1 1568.2,345.4 1836.1,340.1 1574.8,342.5 1543.4,340.4 1574.1,335.8 1623.5,343.2 1600.8,341.8 1614.5,346.8 1649.1,336.9 1561.3,345.2 1567.9,339.5 1673.9,340.4 1572.1,339.7 1587.4,343.2 1654.4,340.7 1601.5,344.3 1729.0,339.8 1524.4,343.6 1600.2,345.4 1587.1,343.6 1575.4,342.0 1561.9,346.4 1571.4,342.1 1643.0,341.7 1583.2,341.4 1552.9,340.4 1610.6,336.6 1644.3,342.3 1574.9,338.9 1541.7,344.7 1619.2,346.1 1610.2,338.8 1610.6,344.2 1524.3,342.4 1540.3,343.9 1795.1,334.7 1592.3,342.2 1557.6,343.1 1530.1,345.9 1583.1,348.3 1565.2,343.5 1545.0,341.5 1602.6,347.7 1548.1,342.3 1769.4,338.5 1554.4,342.9 1703.4,341.1 1568.8,344.6 1561.5,340.7 1622.0,341.6 1586.6,347.4 1543.0,347.2 1660.0,341.6 1591.9,342.9 1594.0,341.5 1571.5,345.5 1648.5,339.9 1599.6,342.4 1533.7,341.5 1699.3,338.6 1593.7,342.3 1559.1,342.6 1528.8,341.4 1528.8,342.5 1540.6,342.8 1557.3,341.1 1589.2,340.4 1553.6,342.2 1629.4,343.0 1589.1,345.2 1577.5,342.9 1577.6,341.6 1555.3,342.5 1590.4,347.4 1554.4,345.7 1565.1,339.5 1587.2,342.1 1602.2,340.8 1565.6,341.4 1615.0,338.0 1569.2,342.5 1731.3,336.0 1544.1,340.9 1595.1,346.1 1568.8,345.5 1580.6,339.8 1539.7,339.8 1566.8,339.7 1549.2,336.7 1608.0,339.7 1625.9,341.1 1628.7,339.3 1728.2,341.4 1572.1,342.3 1602.9,340.8 1780.7,343.3 1585.9,344.2 1588.3,342.4 1605.0,346.7 1527.0,345.4 1667.1,339.1 1576.0,343.3 1621.3,340.9 1542.0,338.6 1585.0,347.6 1594.1,346.1 1625.3,338.9 1597.4,343.4 1600.6,337.9 1741.8,342.0 1558.9,342.4 1579.9,341.5 1695.3,343.1 1580.8,342.4 1596.8,341.5 1586.6,344.8 1805.2,337.4 1608.4,344.3 1625.3,341.7 1527.3,344.4 1573.5,344.3 1619.7,343.8 1546.6,339.6 1626.9,345.7 1738.0,338.9 1622.6,345.8 1615.3,340.6 1559.4,341.7 1540.4,341.9 1758.5,342.0 1576.7,341.1 1716.5,340.7 1606.7,338.2 1749.9,337.8 1526.2,343.1 1633.2,341.1 1618.2,337.6 1593.4,343.5 1545.9,339.7 1551.0,349.0 1747.3,338.6 1572.9,349.0 1620.8,343.4 1808.3,339.6 1553.9,341.0 1532.7,342.4 1527.8,343.6 1577.8,336.6 1648.0,342.9 1633.1,338.9 1596.6,341.5 1522.3,338.4 1556.0,344.1 1544.1,344.9 1545.1,343.5 1542.0,343.6 1527.7,341.8 1586.4,342.7 1567.3,346.3 1568.6,341.2 1559.5,344.2 1630.2,343.0 1561.2,341.8 1545.2,343.4 1560.3,343.3 1556.3,341.0 1567.9,349.2 1571.7,341.1 1553.8,348.4 1601.3,344.9 1544.9,336.5 1724.7,340.2 1697.6,342.6 1585.2,344.6 1616.6,339.9 1552.2,343.5 1561.3,338.7 1723.9,336.9 1582.8,341.6 1618.5,342.4 1639.1,344.2 1611.8,343.0 1580.4,345.4 1571.7,338.8 1531.7,339.9 1680.2,339.3 1610.4,346.4 1532.1,339.4 1655.0,337.5 1560.6,342.3 1668.6,343.1 1544.2,337.8 1525.6,342.1 1675.0,337.4 1703.8,343.5 1585.1,344.2 1729.1,340.2 1536.0,342.5 1544.3,341.9 1800.9,338.5 1759.6,337.1 1610.7,339.9 1566.5,339.0 1613.8,342.1 1522.0,341.1 1568.8,345.2 1669.5,336.0 1553.9,344.6 1541.5,344.2 1584.9,345.7 1607.6,341.4 1563.6,337.7 1643.1,339.2 1722.4,342.5 1552.5,341.6 1572.4,341.1 1656.0,339.5 1586.2,342.1 1619.6,341.4 1563.9,337.5 1643.1,339.8 1655.7,342.8 1625.8,344.9 1693.5,339.8 1573.1,340.8 1587.9,346.0 1636.2,340.8 1615.3,339.1 1590.3,341.8 1527.8,344.2 1552.6,347.9 1580.5,340.9 1620.8,343.1 1719.8,338.8 1826.5,341.7 1572.3,343.2 1794.1,338.9 1572.0,339.4 1548.3,341.6 1746.7,338.2 1538.3,336.7 1583.2,344.7 1625.8,341.6 1601.1,341.6 1668.4,339.8 1589.6,342.3 1579.5,343.0 1566.8,338.3 1600.7,342.4 1593.6,342.5 1587.0,342.3 1608.5,338.3 1586.7,341.8 1610.6,338.8 1585.9,343.2 1625.9,344.6 1550.9,345.5 1569.4,341.4 1563.0,340.8 1693.2,338.8 1595.5,343.1 1761.8,337.0 1592.7,340.7 1755.3,333.1 1618.2,339.9 1708.7,337.9 1562.2,340.8 1846.3,342.2 1562.4,338.1 1620.0,338.7 1600.3,343.7 1568.9,339.4 1538.1,342.2 1529.4,343.0 1523.7,342.6 1592.0,340.0 1593.1,344.6 1538.7,346.7 1528.3,340.4 1525.2,342.0 1595.3,344.6 1621.1,341.4 1713.3,337.3 1582.3,341.0 1618.8,343.9 1555.0,339.2 1530.0,343.2 1594.9,343.1 1565.4,340.4 1574.3,344.1 1539.6,344.5 1610.2,344.5 1697.6,342.3 1618.8,338.4 1542.5,345.2 1559.0,344.5 1550.1,345.8 1834.8,337.2 1572.9,345.1 1543.9,343.7 1640.2,338.8 1552.0,346.9 1534.5,340.6 1570.8,339.3 1528.0,343.5 1581.0,340.5 1578.4,343.4 1563.8,341.7 1592.6,342.9 1629.3,343.2 1567.2,342.3 1559.0,345.4 1602.5,344.3 1576.5,339.8 1557.6,345.4 1767.3,340.4 1551.7,343.1 1574.0,345.8 1561.4,347.9 1637.2,342.7 1606.2,338.3 1724.8,340.7 1558.9,342.1 1648.2,340.3 1606.8,343.0 1539.3,341.7 1556.5,348.0 1659.0,341.3 1578.3,342.4 1545.8,345.0 1541.7,344.9 1561.4,346.4 1603.9,343.7 1542.3,342.5 1545.1,343.1 1671.3,335.8 1558.1,337.7 1608.7,344.7 1654.4,340.1 1619.8,346.2 1601.2,346.8 1580.0,338.7 1612.3,342.8 1570.1,349.1 1623.1,340.0 1611.3,343.0 1539.5,342.0 1523.1,342.2 1606.2,341.4 1583.2,342.2 1598.7,344.1 1606.4,340.0 1582.2,343.8 1541.9,340.6 1595.4,343.5 1561.1,343.6 1586.0,340.1 1526.7,342.9 1785.2,336.3 1548.4,340.0 1839.6,342.0 1630.8,337.6 1572.4,344.1 1593.7,344.1 1552.8,340.6 1524.1,344.9 1585.2,344.9 1533.2,339.4 1547.8,344.3 1532.5,343.8 1592.1,340.2 1606.6,343.6 1787.1,340.4 1555.7,340.2 1658.0,336.6 1596.3,343.2 1524.1,341.1 1570.0,337.1 1814.4,337.5 1616.8,336.7 1607.0,341.2 1611.6,345.8 1782.6,332.2 1590.5,343.5 1542.5,340.0 1530.2,341.7 1594.0,339.7 1547.8,344.7 1754.6,338.9 1809.1,336.2 1593.6,338.6 1599.1,341.0 1541.7,346.0 1638.5,338.7 1577.2,343.6 1621.1,342.7 1577.5,336.4 1634.2,343.6 1540.5,342.5 1805.7,344.3 1609.2,346.5 1567.7,341.7 1575.5,341.9 1552.3,339.3 1587.1,338.4 1709.6,341.8 1583.2,341.6 1566.2,341.2 1581.5,341.8 1576.1,344.4 1576.9,345.2 1587.9,342.2 1614.7,341.6 1614.3,342.3 1526.6,347.1 1760.6,333.2 1568.6,338.8 1578.9,343.8 1587.9,342.7 1723.0,342.7 1528.7,345.6 1662.6,344.9 1608.2,340.1 1590.2,343.9 1574.5,341.7 1590.2,344.9 1611.7,342.5 1580.2,345.0 1743.7,337.2 1594.0,342.6 1581.0,340.8 1723.6,338.9 1526.6,341.7 1716.4,337.1 1584.4,345.5 1542.8,343.5 1610.8,344.8 1556.7,339.3 1583.5,336.6 1590.4,340.4 1799.2,337.6 1608.8,344.1 1580.4,345.5 1604.3,345.3 1604.9,346.1 1544.2,344.9 1572.1,342.8 1547.6,340.2 1540.0,344.6 1566.3,340.9 1528.3,340.8 1548.9,344.6 1548.7,343.4 1591.0,344.6 1577.3,340.2 1538.9,345.9 1844.5,340.3 1620.6,341.5 1609.3,340.2 1603.7,339.3 1616.4,338.7 1550.1,347.3 1616.5,338.6 1570.4,344.4 1550.9,341.9 1561.5,340.7 1651.2,339.9 1575.6,342.1 1691.7,342.4 1846.0,340.8 1760.9,338.8 1583.8,338.3 1593.7,337.3 1598.4,347.1 1536.4,340.0 1622.0,338.2 1635.0,343.6 1550.8,337.7 1567.2,344.9 1602.3,344.6 1780.4,339.2 1569.4,345.5 1833.8,382.2 1815.0,325.4 1822.8,327.4 1785.3,331.7 1801.2,333.2 1841.6,331.7 1864.6,346.1 1785.3,346.1 1646.9,357.7" fill="none" stroke="none" marker-start="url(#mcnloh)" marker-mid="url(#mcnloh)" marker-end="url(#mcnloh)"/>
<polyline points="1796.2,472.0 1857.6,498.3 1630.1,394.3 1628.1,388.7 1659.5,393.1 1597.6,381.1 1790.3,459.7 1564.3,362.9 1770.2,452.1 1528.3,351.7 1621.3,385.7 1626.1,379.2 1658.0,398.4 1556.0,370.6 1581.7,378.4 1778.2,469.8 1558.5,364.5 1574.3,375.9 1619.4,384.7 1847.9,488.4 1579.9,375.6 1554.5,357.7 1546.6,360.5 1847.3,496.0 1567.7,376.0 1653.0,392.8 1538.2,357.9 1595.6,375.7 1620.6,385.8 1650.8,383.1 1629.4,385.2 1594.6,385.7 1553.4,364.7 1593.3,379.4 1601.3,394.6 1577.5,374.7 1550.0,357.2 1746.8,439.8 1557.9,364.2 1587.4,385.0 1600.9,376.4 1553.4,364.4 1669.8,412.9 1552.6,359.5 1704.0,426.3 1529.7,348.8 1529.2,352.7 1609.8,372.3 1612.7,384.3 1600.4,391.8 1775.0,459.0 1655.2,398.5 1698.4,423.7 1668.0,419.8 1695.4,425.5 1686.0,423.8 1750.8,438.4 1657.4,396.5 1556.1,359.6 1609.3,384.2 1643.2,389.7 1608.5,391.1 1608.3,388.9 1578.3,371.5 1554.3,361.1 1761.9,420.9 1585.4,371.9 1529.5,353.2 1584.3,378.3 1868.3,486.5 1528.1,348.1 1848.4,494.8 1557.2,360.0 1531.3,353.1 1856.7,491.1 1568.6,371.2 1829.6,463.8 1568.3,365.5 1583.6,379.6 1839.4,493.5 1568.2,364.2 1695.1,424.4 1708.5,430.9 1590.6,372.4 1546.3,362.4 1686.3,420.9 1552.1,361.8 1586.0,380.6 1559.2,360.0 1759.1,455.9 1571.7,368.5 1614.9,381.7 1636.8,388.9 1569.1,374.2 1618.1,385.2 1646.7,392.5 1842.7,484.5 1596.0,375.1 1582.0,378.9 1582.9,385.6 1616.5,397.0 1577.5,374.5 1592.4,382.5 1630.4,389.2 1651.3,393.2 1647.9,387.9 1633.7,400.8 1549.4,360.2 1637.2,388.3 1561.4,363.0 1716.6,433.7 1757.7,439.3 1571.1,369.4 1809.7,478.9 1629.1,399.4 1650.2,388.3 1648.8,396.8 1635.5,388.1 1548.9,359.7 1621.4,399.8 1832.7,497.5 1698.7,419.0 1599.2,384.0 1840.0,491.0 1760.4,460.7 1598.0,377.7 1717.7,437.1 1569.5,367.7 1550.3,361.7 1607.1,383.5 1688.3,411.3 1642.2,394.4 1576.5,376.6 1605.9,380.2 1662.8,399.3 1649.4,397.6 1805.6,463.8 1550.8,364.9 1651.6,400.7 1635.5,379.3 1572.2,366.4 1813.3,464.4 1606.2,389.1 1630.2,397.1 1855.6,484.2 1613.1,382.7 1635.3,391.8 1620.2,386.9 1709.8,435.9 1636.9,398.6 1550.2,363.7 1535.4,358.1 1761.3,458.9 1656.6,398.4 1547.1,359.1 1733.9,429.6 1634.6,397.2 1624.5,395.7 1655.9,405.0 1784.9,456.0 1575.3,368.9 1535.4,356.1 1637.8,400.5 1576.9,373.5 1647.0,396.0 1639.0,388.1 1637.4,395.5 1690.0,422.1 1552.1,358.9 1555.8,370.6 1610.3,380.1 1553.7,366.4 1607.6,383.4 1569.8,369.6 1844.8,484.0 1708.3,422.7 1674.1,413.6 1732.8,435.3 1566.1,365.9 1612.0,392.1 1626.0,394.9 1534.3,355.3 1566.8,368.8 1698.1,437.7 1568.1,367.4 1764.9,453.5 1602.3,385.0 1607.0,375.9 1546.6,354.0 1720.3,434.4 1592.4,383.1 1562.4,367.0 1554.0,361.0 1553.3,360.3 1666.2,409.5 1585.6,373.7 1622.0,379.5 1582.5,377.7 1782.9,462.2 1609.4,387.8 1601.3,388.2 1799.7,487.8 1691.2,423.0 1838.2,488.8 1661.3,387.2 1563.6,367.9 1600.9,380.9 1675.0,418.8 1563.9,372.4 1598.5,383.6 1547.4,365.2 1597.9,380.1 1616.0,388.0 1554.9,360.1 1622.9,387.9 1550.6,362.5 1606.2,390.5 1641.0,389.1 1649.5,400.2 1596.3,392.2 1554.5,358.1 1833.5,486.5 1614.0,387.5 1604.9,389.6 1532.1,358.2 1657.9,407.6 1672.9,407.4 1647.0,389.7 1600.1,381.2 1601.2,381.7 1697.1,423.8 1788.9,451.3 1622.2,399.3 1630.4,386.9 1709.1,435.2 1581.2,374.6 1555.1,359.2 1655.7,398.9 1626.1,390.6 1581.5,372.5 1711.3,437.8 1656.4,395.8 1531.0,357.8 1608.0,391.8 1643.4,388.5 1765.6,421.8 1644.6,401.7 1564.8,368.1 1551.0,362.2 1819.7,469.9 1725.9,419.7 1594.8,368.4 1592.9,390.5 1661.0,411.8 1631.2,388.1 1569.1,377.6 1604.7,372.2 1835.2,498.8 1598.9,385.1 1528.5,350.6 1543.7,357.9 1551.3,358.3 1632.9,392.1 1585.8,382.6 1634.2,398.2 1572.7,372.0 1676.1,418.0 1606.6,373.2 1791.9,491.7 1660.5,400.5 1603.6,375.0 1829.0,483.4 1578.6,368.8 1602.1,382.9 1583.9,376.3 1530.9,348.9 1576.6,378.1 1538.1,361.3 1545.3,356.5 1545.9,364.8 1586.4,382.6 1616.0,394.7 1617.7,399.2 1629.7,382.5 1556.9,367.0 1573.3,364.8 1547.1,367.5 1764.6,436.1 1552.0,357.8 1628.9,398.0 1606.2,387.9 1538.7,357.1 1702.7,426.1 1608.1,388.6 1616.7,399.6 1655.2,393.7 1575.9,368.2 1589.0,373.4 1549.9,361.2 1741.1,440.3 1588.1,369.1 1717.1,435.0 1719.9,419.7 1591.9,376.2 1622.7,388.1 1564.9,365.9 1604.0,392.1 1577.4,380.5 1786.4,475.5 1636.2,402.2 1758.1,442.5 1566.8,374.3 1560.0,365.0 1524.3,350.5 1621.0,391.1 1574.0,363.3 1570.9,366.1 1599.2,380.1 1617.9,391.1 1655.4,397.5 1747.7,432.4 1558.0,359.7 1606.0,384.0 1776.9,439.4 1577.9,365.6 1615.7,387.4 1598.3,381.7 1654.7,392.6 1649.1,384.4 1590.8,379.1 1569.4,372.7 1628.6,388.3 1790.6,458.9 1591.2,365.6 1607.0,389.9 1566.5,362.4 1748.9,451.5 1535.1,353.9 1588.0,375.4 1541.3,357.7 1597.6,369.7 1623.3,403.3 1544.4,354.5 1635.6,393.0 1569.5,364.6 1560.7,364.4 1581.0,380.8 1785.7,436.0 1744.7,439.7 1575.2,373.4 1530.7,353.4 1542.6,360.0 1599.5,376.6 1529.5,349.4 1640.0,385.2 1623.1,387.2 1593.1,382.7 1550.9,362.1 1811.2,499.6 1585.9,375.9 1566.4,368.4 1843.9,494.3 1655.3,387.1 1613.8,390.9 1583.1,368.0 1687.0,412.5 1643.0,406.6 1746.6,427.5 1834.2,491.3 1619.9,391.0 1700.3,424.5 1771.5,451.4 1559.8,362.7 1628.2,403.4 1717.1,411.2 1681.0,404.0 1652.1,405.9 1600.5,384.9 1730.4,428.1 1605.6,378.2 1574.0,369.0 1598.1,393.0 1698.4,426.8 1539.5,354.5 1526.7,351.7 1536.8,354.5 1548.2,366.0 1564.1,368.0 1548.8,365.5 1528.0,352.2 1570.1,379.0 1624.0,392.6 1653.1,398.9 1602.7,376.3 1783.5,453.7 1533.1,355.2 1742.8,435.0 1534.0,359.7 1623.3,389.7 1559.7,361.8 1646.5,400.5 1654.2,394.3 1691.0,421.5 1574.1,369.9 1552.2,359.6 1658.6,409.0 1639.8,393.7 1599.7,387.8 1596.1,377.7 1607.2,375.6 1810.7,460.2 1547.1,358.7 1622.5,388.5 1724.9,435.1 1543.2,360.6 1653.0,389.3 1694.3,421.9 1566.7,361.9 1581.9,369.9 1595.4,391.8 1849.8,506.3 1766.7,444.4 1785.1,484.1 1585.6,383.2 1746.8,452.6 1606.4,393.2 1622.9,388.1 1634.1,391.2 1651.4,391.0 1580.6,376.3 1586.5,368.6 1546.9,358.7 1734.5,443.0 1599.5,378.1 1815.7,485.3 1569.3,377.5 1628.3,384.6 1862.7,505.9 1642.3,389.5 1756.0,433.8 1789.1,466.0 1612.5,393.2 1556.1,360.9 1628.4,386.3 1632.8,389.0 1578.4,368.3 1556.3,364.6 1582.7,370.1 1668.7,403.3 1577.9,373.8 1678.2,407.3 1585.0,381.4 1683.2,408.0 1624.9,385.2 1796.0,495.0 1563.1,373.1 1663.0,402.5 1598.8,385.8 1559.9,366.6 1553.6,360.9 1566.4,370.7 1638.2,394.7 1718.0,445.4 1575.6,361.2 1581.3,377.8 1546.5,360.8 1611.7,382.0 1544.5,358.2 1577.2,369.5 1765.2,431.6 1609.9,382.0 1576.6,375.6 1656.3,388.9 1524.0,349.5 1651.8,383.5 1685.8,410.2 1604.9,385.9 1560.9,365.3 1562.7,366.4 1760.0,432.7 1646.2,397.9 1830.2,476.6 1557.5,368.0 1594.2,380.1 1669.9,403.0 1620.9,398.9 1604.4,380.8 1548.1,364.4 1798.4,470.5 1560.9,365.5 1647.1,400.7 1624.0,392.8 1670.1,405.9 1663.2,401.3 1600.7,382.9 1613.1,387.5 1539.3,356.4 1655.4,391.6 1572.1,358.9 1545.9,359.7 1533.2,353.8 1573.7,376.6 1547.8,362.3 1553.9,367.4 1591.6,387.8 1582.4,373.3 1569.9,364.6 1555.7,366.8 1625.1,386.4 1613.3,385.4 1589.6,385.1 1558.0,366.7 1671.5,414.9 1543.2,354.9 1588.2,376.5 1560.0,370.0 1648.5,387.2 1612.7,388.0 1768.7,455.0 1635.6,379.3 1631.3,401.5 1539.5,355.4 1526.5,351.0 1630.6,401.9 1671.4,393.5 1727.9,440.6 1849.4,488.9 1740.0,440.3 1615.5,382.7 1639.8,401.6 1583.6,368.2 1835.1,494.5 1831.1,496.2 1644.2,393.5 1564.0,365.4 1617.0,386.8 1639.2,399.4 1690.3,421.5 1631.3,390.9 1680.6,403.3 1666.1,404.8 1633.0,395.1 1545.4,359.8 1651.4,405.2 1602.1,370.7 1680.5,428.7 1544.3,358.9 1605.4,376.6 1577.7,362.6 1604.3,388.5 1840.0,497.9 1662.7,400.4 1743.5,440.5 1708.7,429.9 1536.5,354.9 1647.4,401.7 1653.2,401.1 1657.6,398.6 1567.4,360.1 1586.8,383.5 1631.9,388.6 1570.5,363.8 1608.0,392.8 1592.9,381.3 1538.9,351.6 1538.3,352.4 1559.8,363.4 1599.7,373.7 1773.2,450.5 1659.6,414.3 1576.2,382.4 1672.1,406.9 1687.0,422.5 1784.7,472.0 1643.0,393.1 1626.3,381.1 1636.4,399.2 1538.8,356.6 1622.5,392.6 1532.9,355.8 1629.3,386.0 1635.6,402.8 1587.4,376.5 1554.7,364.2 1609.5,382.7 1552.0,364.9 1588.0,382.0 1643.9,390.7 1530.9,354.5 1791.7,459.0 1748.6,428.2 1585.5,373.4 1697.1,427.1 1692.7,423.9 1644.8,400.8 1594.1,374.9 1584.9,373.3 1559.5,365.3 1683.0,418.5 1636.6,391.9 1823.7,472.7 1626.6,380.7 1524.8,352.3 1559.0,369.3 1533.4,353.0 1573.4,377.9 1618.9,388.6 1615.3,390.9 1624.3,398.2 1585.8,372.7 1772.0,441.7 1596.9,369.8 1564.7,368.4 1593.1,381.1 1588.6,381.5 1555.7,366.1 1618.8,389.7 1611.5,393.6 1527.3,349.8 1574.9,372.8 1545.6,361.6 1581.2,372.8 1553.8,369.6 1537.6,357.7 1586.5,383.3 1532.6,356.2 1537.4,356.0 1648.1,406.6 1562.8,371.2 1660.6,401.1 1593.5,378.0 1618.1,382.1 1706.2,425.5 1543.8,358.6 1529.1,352.9 1583.6,372.1 1809.0,484.2 1584.4,374.4 1592.5,369.1 1624.6,386.9 1524.1,348.7 1622.0,381.5 1633.7,390.4 1767.6,461.4 1631.4,384.5 1635.6,379.9 1541.9,358.1 1598.2,393.1 1560.6,362.9 1575.7,372.6 1538.7,356.0 1588.9,381.7 1550.9,367.2 1575.4,370.1 1531.1,355.9 1831.5,475.0 1592.6,379.5 1580.3,366.1 1639.9,394.5 1655.2,394.3 1638.1,394.4 1577.5,365.9 1614.2,389.0 1595.8,380.4 1656.7,395.3 1589.7,372.5 1780.5,441.8 1593.1,376.2 1562.1,367.8 1733.4,436.2 1537.5,356.9 1856.6,506.5 1850.4,490.7 1605.8,385.8 1577.8,376.5 1545.0,361.4 1599.0,383.4 1646.9,395.2 1559.9,373.5 1639.7,392.8 1576.5,369.4 1613.7,391.1 1677.1,422.9 1604.6,392.2 1634.0,392.3 1582.6,378.7 1620.3,392.6 1690.2,418.4 1744.1,449.1 1805.3,482.5 1572.8,370.7 1543.2,364.4 1530.1,352.2 1551.6,367.3 1646.5,407.2 1557.1,372.7 1661.0,403.0 1535.1,354.9 1671.6,395.1 1592.1,377.8 1552.3,370.2 1622.3,379.7 1656.4,388.9 1535.7,357.7 1593.0,382.1 1542.1,353.2 1808.9,475.6 1595.7,381.7 1602.0,373.1 1622.9,396.1 1694.5,408.4 1794.3,482.0 1591.4,379.0 1594.4,375.1 1706.9,411.8 1651.5,394.4 1638.6,392.5 1683.9,413.1 1787.4,454.2 1534.7,354.7 1618.2,394.6 1569.2,364.2 1776.7,452.3 1528.7,353.2 1591.0,377.5 1602.2,387.7 1539.6,361.9 1580.0,371.1 1588.1,377.7 1543.2,352.6 1662.0,399.3 1583.4,378.1 1601.0,375.1 1683.5,424.8 1771.1,426.8 1568.3,374.9 1656.1,395.4 1574.5,365.2 1806.9,468.4 1780.4,453.9 1606.4,377.9 1541.6,354.4 1720.5,427.7 1639.2,399.0 1676.2,412.8 1609.2,393.8 1818.0,473.8 1584.0,372.7 1662.7,399.7 1542.7,359.4 1777.8,461.8 1580.7,382.9 1549.2,363.8 1594.5,380.1 1547.8,365.4 1619.1,384.0 1629.4,382.9 1565.2,370.3 1541.4,358.8 1715.8,432.8 1638.3,398.7 1626.8,388.5 1816.5,479.7 1544.2,360.7 1611.4,390.4 1534.7,357.5 1732.5,438.6 1712.8,433.2 1590.2,365.2 1621.5,397.4 1652.4,387.1 1632.1,391.4 1641.9,406.4 1569.3,367.0 1648.4,385.5 1653.6,407.6 1604.9,380.1 1613.8,386.3 1592.1,377.1 1625.1,395.0 1769.5,460.3 1531.5,353.3 1661.7,409.0 1649.3,389.8 1596.4,383.9 1560.4,362.7 1627.9,395.3 1659.8,396.0 1551.4,360.5 1617.3,398.3 1653.4,390.3 1569.6,362.9 1699.0,428.0 1614.3,385.8 1539.0,356.0 1704.8,424.7 1531.2,357.8 1698.4,412.8 1615.3,386.2 1525.2,350.9 1551.0,358.5 1547.2,360.4 1631.8,394.6 1661.3,395.0 1585.2,381.3 1631.3,384.3 1616.8,387.6 1724.4,438.0 1565.5,376.9 1547.2,354.6 1592.5,379.8 1706.3,447.1 1568.0,365.3 1692.9,428.7 1541.1,358.8 1725.2,419.4 1598.5,383.1 1702.6,416.4 1601.5,382.5 1611.3,376.7 1641.6,398.0 1553.6,354.8 1529.5,352.3 1589.2,384.1 1548.3,362.7 1563.4,364.9 1553.9,362.0 1545.7,358.6 1716.9,453.3 1627.1,390.3 1583.5,374.3 1750.8,434.7 1526.1,350.2 1770.8,458.8 1680.6,407.1 1602.1,377.4 1792.6,457.9 1582.6,372.0 1549.3,361.9 1543.1,357.5 1649.7,394.3 1574.8,366.7 1569.6,374.8 1684.7,415.1 1735.5,434.7 1588.5,378.1 1582.1,373.5 1609.4,375.5 1591.4,376.7 1742.8,459.9 1612.1,389.7 1569.5,374.5 1525.2,349.5 1801.4,451.0 1581.0,369.5 1797.9,487.0 1748.7,430.9 1595.2,374.7 1563.6,371.5 1647.8,393.3 1542.1,358.0 1536.6,357.0 1530.2,353.1 1617.8,386.7 1669.0,407.1 1631.8,387.1 1783.9,458.9 1539.6,359.3 1650.3,389.3 1643.1,392.5 1647.3,387.8 1609.2,389.9 1548.6,363.1 1582.2,379.0 1565.8,372.1 1813.8,493.4 1665.8,408.5 1771.7,441.3 1619.3,395.1 1535.8,353.4 1653.9,410.8 1585.0,376.6 1632.8,395.5 1597.1,372.8 1618.0,395.7 1552.7,366.9 1759.1,426.8 1577.3,368.7 1727.4,430.3 1766.2,440.5 1618.4,397.8 1552.7,370.4 1591.3,371.5 1608.2,391.4 1573.4,368.7 1538.8,360.8 1807.2,446.2 1624.1,387.2 1608.9,392.8 1543.0,356.6 1559.0,395.1 1576.3,395.1 1587.8,411.9 1608.0,423.4 1626.8,428.9 1645.5,447.0 1659.1,477.3 1672.9,502.4 1696.0,532.1 1727.7,495.5 1755.1,488.0 1788.8,511.9 1873.8,470.7 1846.7,470.1" fill="none" stroke="none" marker-start="url(#mloss)" marker-mid="url(#mloss)" marker-end="url(#mloss)"/>
<polyline points="1775.2,385.9 1884.8,401.5 1582.1,327.4 1593.6,321.6 1616.7,370.6 1658.5,382.2 1567.7,330.3 1585.0,328.8 1530.2,333.2" fill="none" stroke="none" marker-start="url(#mund)" marker-mid="url(#mund)" marker-end="url(#mund)"/>
<polyline points="249.3,1047.9 249.6,1038.1 205.3,1050.1 258.0,1032.7 229.8,1045.3 171.6,1068.5 246.9,1032.9 219.4,1057.7 202.2,1044.4 216.7,1049.4 187.7,1056.4 249.9,1032.9 173.8,1057.9 227.8,1036.7 209.1,1029.0 250.6,1046.5 182.4,1046.5 247.7,1039.7 247.5,1032.3 173.5,1072.5 168.2,1068.4 175.9,1051.8 203.1,1043.0 206.7,1042.7 203.8,1036.6 203.3,1029.5 178.6,1069.7 256.6,1029.8 240.8,1049.5 193.1,1060.5 204.3,1061.2 191.4,1059.5 170.2,1076.7 193.1,1057.0 248.4,1044.3 256.3,1039.2 173.5,1061.8 239.7,1052.0 252.2,1038.7 234.2,1036.4 187.3,1054.0 233.9,1046.1 179.1,1058.3 197.4,1061.3 231.3,1037.5 187.0,1042.1 236.0,1043.8 198.0,1052.9 176.6,1073.8 231.1,1039.8 239.0,1040.4 172.2,1059.9 159.8,1077.4 163.7,1065.9 173.0,1063.6 225.4,1031.3 201.0,1050.3 189.5,1048.9 186.7,1055.6 242.1,1032.1 196.3,1049.6 196.7,1056.3 225.4,1035.2 167.6,1061.8 217.4,1043.7 171.7,1076.3 212.8,1052.7 220.1,1051.4 181.2,1046.6 210.5,1059.7 166.1,1066.7 237.9,1033.0 216.1,1036.9 209.6,1051.8 228.7,1027.4 233.7,1036.1 200.3,1027.7 225.6,1038.7 205.2,1048.8 193.3,1062.1 235.1,1029.8 211.0,1039.3 248.7,1040.3 195.6,1040.4 192.8,1066.2 162.7,1073.1 172.9,1074.2 164.3,1078.3 192.9,1041.5 250.2,1042.5 203.6,1049.2 203.8,1055.2 163.7,1067.2 259.0,1035.9 252.0,1043.1 219.4,1055.8 226.3,1056.8 232.8,1050.0 224.5,1052.3 168.2,1059.0 226.8,1051.1 210.5,1034.8 250.2,1046.5 234.5,1025.8 170.9,1067.5 205.6,1049.5 222.7,1040.5 190.4,1055.6 159.9,1076.8 172.7,1060.5 240.4,1049.5 222.7,1027.5 247.2,1038.1 232.7,1033.6 249.0,1030.6 228.1,1035.6 167.7,1069.1 160.8,1077.4 238.5,1029.5 189.8,1044.5 245.7,1036.4 173.7,1060.8 196.4,1062.5 193.3,1039.8 217.8,1041.3 195.2,1053.0 194.0,1049.6 177.6,1072.7 206.6,1053.5 235.3,1045.3 249.5,1031.3 208.3,1052.3 227.5,1031.6 250.1,1033.0 254.7,1031.6 169.6,1063.7 228.9,1034.6 189.9,1053.4 251.8,1029.5 179.7,1061.9 196.0,1057.7 201.2,1051.7 200.6,1059.0 209.3,1055.2 170.9,1066.6 227.9,1041.6 210.0,1038.0 246.2,1037.9 202.5,1032.6 196.6,1043.3 179.8,1026.5 257.2,1040.0 260.9,1041.2" fill="none" stroke="none" marker-start="url(#mgain)" marker-mid="url(#mgain)" marker-end="url(#mgain)"/>
<polyline points="159.7,1096.3 148.6,1100.0 188.1,1094.5 139.5,1089.7 156.1,1095.1 163.7,1089.9 173.4,1082.5 170.5,1094.7 211.8,1082.3 198.7,1090.4 146.5,1094.3 145.1,1092.0 180.6,1092.6 160.8,1102.0 265.4,1097.1 155.7,1101.7 148.9,1095.1 158.7,1095.2 184.3,1103.1 173.9,1090.6 152.2,1095.7 221.6,1092.6 235.8,1093.2 195.9,1096.8 155.6,1094.6 139.2,1097.8 179.5,1089.5 180.7,1096.6 214.8,1085.9 136.3,1098.2 151.3,1098.9 235.7,1090.0 276.9,1086.4 158.6,1093.8 206.2,1095.8 197.5,1086.1 142.9,1089.0 190.6,1098.6 162.8,1092.8 157.4,1087.4 185.0,1083.0 164.6,1091.6 210.1,1082.6 154.4,1094.6 151.8,1093.5 140.6,1102.9 202.4,1086.6 161.2,1097.2 139.5,1088.2 262.6,1083.2 145.9,1092.9 150.3,1089.6 181.9,1103.3 258.4,1090.1 254.8,1085.5 271.8,1105.6 158.6,1089.8 159.3,1091.9 139.4,1092.9 190.9,1090.0 204.2,1096.1 136.1,1098.4 157.6,1087.2 212.5,1089.3 163.4,1091.8 193.6,1087.0 163.7,1086.9 253.4,1088.1 141.3,1089.4 187.0,1095.4 238.9,1096.2 193.8,1094.7 202.3,1094.5 156.8,1089.1 172.7,1090.5 169.5,1095.8 137.2,1096.1 193.5,1093.3 139.7,1096.4 150.7,1092.5 154.8,1087.8 235.9,1093.0 223.0,1088.9 158.7,1085.0 160.5,1098.0 147.5,1095.6 154.2,1097.4 140.9,1091.4 224.6,1100.3 158.7,1096.2 149.1,1098.6 141.5,1090.6 145.2,1092.2 137.3,1099.0 163.0,1093.6 198.0,1093.6 227.6,1100.3 151.9,1099.5 142.9,1094.9 160.9,1103.5 135.9,1088.3 196.2,1093.3 156.2,1091.0 156.0,1101.2 209.3,1101.0 236.2,1088.0 219.6,1092.4 169.9,1098.7 158.1,1096.4 140.8,1095.1 248.4,1097.2 137.4,1101.8 197.9,1094.1 203.1,1087.2 196.1,1093.2 202.0,1092.9 164.3,1091.8 205.2,1096.5 159.8,1097.5 240.4,1096.7 138.6,1095.9 205.3,1094.1 161.0,1088.6 174.5,1092.0 137.4,1090.3 134.9,1095.0 142.2,1093.2 150.7,1093.6 155.8,1096.4 179.1,1092.3 164.2,1099.3 177.3,1099.2 153.9,1089.1 142.3,1100.1 190.0,1092.2 175.4,1090.0 207.2,1090.9 225.9,1083.9 166.7,1095.5 148.7,1099.7 147.0,1086.4 165.8,1096.0 155.2,1096.7 185.0,1097.1 167.0,1097.1 174.7,1096.1 158.8,1091.5 191.7,1098.1 170.4,1095.5 202.4,1097.1 167.4,1095.4 202.0,1091.8 197.0,1093.4 154.6,1096.8 155.3,1099.0 271.4,1076.7 162.9,1087.3 178.1,1085.4 221.6,1088.5 171.9,1090.3 139.8,1094.7 163.1,1092.3 171.3,1100.7 242.5,1087.0 238.9,1086.6 153.9,1089.7 142.9,1092.4 169.0,1094.6 163.8,1091.3 189.4,1089.3 168.2,1086.8 146.1,1094.7 162.4,1091.0 148.2,1089.0 193.1,1092.5 171.2,1095.5 188.9,1103.8 144.0,1101.6 279.8,1083.3 165.4,1091.5 177.9,1083.7 193.1,1084.4 184.2,1084.5 238.1,1096.6 145.6,1093.0 188.8,1086.6 248.9,1086.3 192.6,1091.3 196.3,1090.4 143.8,1100.8 152.2,1084.2 268.1,1086.9 157.9,1095.0 178.8,1096.2 174.5,1082.5 271.1,1091.2 158.1,1087.4 152.3,1090.9 169.1,1085.5 196.0,1097.4 152.5,1104.9 141.6,1098.6 149.6,1092.3 185.8,1085.0 142.1,1097.9 175.6,1100.0 258.7,1083.0 212.4,1097.2 153.1,1084.9 134.9,1089.5 136.8,1094.4 193.5,1087.1 195.8,1097.3 143.8,1100.6 179.1,1094.1 149.0,1096.2 156.9,1101.8 172.4,1096.5 252.8,1099.1 139.1,1100.3 185.3,1088.6 209.5,1104.3 166.9,1099.9 222.9,1092.5 161.3,1098.0 137.2,1095.2 163.6,1095.1 168.7,1088.8 176.5,1091.8 138.9,1092.4 138.2,1098.6 144.1,1096.2 145.1,1095.9 149.7,1093.4 178.2,1100.4 159.6,1082.9 206.6,1087.9 207.8,1097.8 213.3,1089.8 202.3,1096.5 278.0,1101.2 172.7,1098.1 162.1,1086.5 164.6,1092.8 142.7,1088.4 146.2,1096.2 253.2,1097.6 184.6,1092.8 209.2,1095.3 210.5,1091.3 199.1,1103.1 160.4,1094.6 138.5,1095.0 164.9,1096.8 265.2,1097.6 143.5,1097.3 171.9,1093.8 146.5,1094.2 196.6,1096.3 201.3,1096.3 143.1,1092.2 178.5,1091.0 273.5,1088.5 156.9,1096.3 169.2,1091.7 165.0,1088.5 161.4,1092.3 169.4,1091.5 148.8,1096.9 169.7,1091.3 165.5,1091.9 240.8,1102.9 161.7,1096.3 222.0,1086.4 184.6,1100.0 227.5,1089.4 244.1,1086.0 206.9,1096.3 167.5,1086.8 182.1,1093.7 147.0,1096.7 246.2,1095.8 202.4,1090.6 167.8,1091.5 195.6,1093.5 178.5,1100.2 139.5,1085.7 156.2,1098.1 139.1,1095.4 179.2,1101.0 203.0,1087.5 145.4,1099.6 143.2,1089.9 139.6,1095.4 170.3,1092.0 260.4,1075.8 243.2,1090.8 180.7,1096.0 157.8,1098.3 208.2,1089.3 135.9,1089.8 168.7,1097.7 174.9,1092.2 272.9,1097.5 158.7,1101.2 266.9,1088.9 161.6,1093.2 247.3,1086.4 175.2,1083.5 157.3,1094.0 172.5,1097.8 177.2,1099.5 162.4,1093.9 144.4,1102.9 136.3,1092.1 171.2,1093.9 245.9,1087.7 143.1,1091.9 153.8,1092.7 173.0,1090.5 148.7,1092.0 165.7,1095.5 206.6,1093.5 164.9,1088.7 197.3,1096.3 234.1,1086.5 217.5,1094.6 161.3,1094.4 185.9,1084.5 160.4,1088.9 191.7,1098.7 179.5,1090.8 182.2,1090.8 153.2,1091.9 157.0,1094.6 226.7,1095.2 194.5,1092.7 158.3,1102.5 185.0,1091.2 141.0,1091.9 156.0,1093.2 163.5,1094.9 173.5,1101.7 182.6,1105.2 140.4,1092.5 164.9,1093.2 149.5,1097.2 260.3,1089.9 138.5,1097.8 157.0,1088.8 152.9,1098.3 144.0,1083.6 153.8,1096.7 148.6,1097.4 176.4,1105.5 173.2,1089.3 181.4,1097.6 276.8,1094.8 161.2,1089.3 201.4,1094.7 182.9,1089.8 191.9,1088.4 182.6,1086.4 138.6,1093.1 236.8,1084.9 176.8,1083.2 258.0,1092.7 234.3,1080.9 138.5,1097.1 153.5,1095.3 167.3,1089.8 201.9,1085.2 145.5,1089.6 176.1,1086.9 150.2,1092.2 162.4,1092.2 156.2,1105.0 143.7,1083.9 210.4,1089.2 181.1,1096.9 336.3,1060.9 306.8,1065.8 300.2,1071.9 322.3,1067.7 278.1,1075.6 275.6,1081.7 286.7,1086.6 260.9,1083.0 260.9,1090.3 323.5,1081.7 338.7,1083.5 350.5,1087.9 435.2,1083.0 408.2,1094.0 367.7,1092.8 362.8,1107.5 325.9,1092.8 307.5,1094.8 312.4,1103.8 312.4,1116.1 283.7,1108.8 345.6,1098.9 233.8,1075.6 236.3,1083.0 237.5,1100.2 247.4,1098.9 257.2,1095.2 254.7,1105.1 264.5,1110.0 222.8,1090.3 217.9,1097.7" fill="none" stroke="none" marker-start="url(#mcnloh)" marker-mid="url(#mcnloh)" marker-end="url(#mcnloh)"/>
<polyline points="256.3,1159.6 199.8,1127.1 325.3,1164.0 167.9,1112.2 455.8,1239.4 426.9,1206.8 164.5,1115.6 316.9,1180.2 297.6,1164.9 217.3,1135.2 225.4,1132.2 428.1,1222.9 159.9,1108.0 397.1,1227.1 265.8,1152.1 281.2,1175.3 269.8,1181.2 351.0,1211.0 188.5,1121.3 199.1,1126.4 167.7,1114.0 255.1,1153.1 149.5,1106.1 437.0,1200.9 252.5,1151.9 229.5,1137.8 411.4,1234.1 378.2,1225.9 195.7,1115.2 159.0,1108.1 329.2,1191.1 231.7,1149.1 366.2,1197.3 236.8,1141.5 216.8,1116.9 257.7,1174.4 150.2,1106.7 184.3,1123.1 177.7,1119.3 325.8,1168.7 216.7,1138.7 361.6,1214.2 422.9,1216.4 266.7,1157.1 187.4,1124.9 142.1,1108.0 432.0,1233.7 170.2,1110.9 337.5,1172.3 143.8,1105.1 404.1,1177.9 283.5,1147.4 311.1,1171.6 299.3,1161.2 199.9,1119.9 169.6,1118.7 369.0,1201.4 282.3,1171.9 286.2,1161.9 168.1,1112.5 421.7,1204.1 322.4,1181.7 248.3,1128.3 151.5,1106.4 260.4,1158.8 445.6,1240.1 342.6,1185.6 144.8,1103.9 338.4,1192.3 383.4,1191.4 205.3,1126.7 371.7,1183.7 439.5,1249.7 247.0,1160.8 165.8,1110.0 234.8,1129.1 399.4,1207.0 259.0,1158.4 216.4,1141.8 253.3,1148.3 368.1,1178.6 296.9,1171.8 168.8,1115.7 221.2,1120.0 212.9,1128.4 344.5,1183.2 271.4,1146.6 158.1,1112.0 143.5,1108.8 233.1,1148.4 285.9,1153.3 288.1,1157.7 238.4,1148.2 245.4,1141.8 217.2,1129.1 179.9,1129.9 224.0,1115.5 310.8,1165.9 215.1,1124.5 400.0,1207.2 283.9,1182.9 180.9,1117.9 258.6,1148.5 184.6,1120.9 173.1,1114.4 167.4,1115.7 183.0,1131.5 187.7,1117.1 437.9,1222.5 151.8,1109.0 255.9,1128.1 308.6,1180.3 157.4,1110.8 223.5,1117.4 243.4,1141.4 261.5,1154.7 317.1,1165.4 271.2,1170.1 274.0,1152.0 211.8,1118.4 153.0,1112.2 312.0,1172.7 275.0,1160.9 271.9,1139.5 289.1,1148.7 415.1,1199.0 341.4,1183.8 265.7,1153.4 192.2,1131.3 181.6,1127.2 289.0,1166.5 349.5,1187.7 315.6,1199.2 342.9,1187.2 159.3,1115.3 160.6,1110.1 285.1,1162.2 346.3,1184.0 190.8,1118.0 457.1,1240.1 260.6,1143.5 154.5,1109.7 295.2,1172.4 475.5,1266.6 452.9,1210.2 442.0,1228.3 253.5,1155.8 387.0,1198.2 226.1,1143.2 384.0,1209.7 273.4,1164.2 237.7,1137.3 150.2,1108.1 239.9,1140.2 314.1,1163.0 186.8,1121.9 255.0,1138.7 202.9,1120.1 181.8,1111.5 227.4,1146.0 181.6,1115.9 292.4,1155.8 312.9,1184.4 225.3,1131.6 162.0,1113.7 218.3,1130.9 173.2,1117.5 303.8,1173.3 385.7,1171.7 154.2,1114.9 254.0,1159.7 265.2,1138.6 149.8,1111.3 455.4,1231.9 169.5,1115.2 169.5,1120.4 156.2,1114.1 236.2,1149.7 312.4,1199.0 275.3,1171.9 248.4,1140.5 202.1,1117.5 368.8,1208.4 203.1,1114.7 254.7,1145.9 315.9,1171.5 144.9,1105.1 179.0,1124.9 258.0,1154.6 209.0,1127.2 187.8,1126.4 436.5,1218.9 141.7,1108.3 218.6,1149.3 182.8,1118.6 194.2,1122.5 415.2,1229.9 232.4,1120.8 291.1,1151.0 301.4,1157.7 402.1,1185.6 409.5,1211.3 228.1,1139.2 311.5,1173.8 165.4,1113.3 312.0,1185.5 201.1,1133.4 140.6,1107.8 345.7,1185.6 468.6,1243.0 323.0,1197.1 350.5,1194.9 413.5,1231.7 229.0,1132.8 387.3,1202.6 266.2,1148.1 272.2,1157.9 158.0,1112.7 211.0,1126.2 242.0,1162.3 280.9,1144.4 197.6,1130.5 443.7,1214.5 383.4,1206.0 176.3,1113.1 167.4,1114.4 152.1,1109.6 189.5,1117.0 347.1,1171.7 199.9,1120.8 293.4,1167.0 284.6,1172.6 431.0,1243.1 250.8,1130.1 192.9,1125.9 272.4,1152.8 236.1,1140.6 169.2,1116.0 387.9,1214.7 229.2,1140.7 139.4,1104.7 375.2,1221.0 373.5,1202.1 240.1,1142.4 353.2,1205.8 267.7,1143.1 297.0,1157.0 260.1,1167.8 172.1,1114.6 424.5,1192.9 142.4,1107.7 146.5,1110.8 255.0,1141.6 190.2,1114.1 369.3,1195.8 383.5,1206.8 218.2,1127.4 162.5,1108.9 280.3,1167.3 236.7,1145.6 458.3,1218.0 237.6,1130.6 300.4,1165.6 430.7,1212.5 398.6,1210.3 174.8,1118.8 250.2,1166.0 274.5,1163.0 340.6,1197.4 377.9,1177.5 395.7,1196.3 291.2,1178.1 360.0,1172.7 383.1,1220.5 167.0,1116.2 447.7,1231.9 225.4,1134.1 142.9,1103.4 209.8,1121.0 308.3,1166.2 237.1,1136.8 292.9,1180.8 352.2,1176.0 221.0,1127.9 192.3,1112.0 338.1,1186.4 161.2,1112.1 410.3,1226.9 368.5,1223.2 227.6,1140.9 268.2,1146.4 334.7,1185.9 397.4,1210.7 448.9,1230.1 269.2,1144.3 246.8,1148.9 154.9,1106.1 467.1,1240.9 208.3,1126.3 195.8,1109.8 391.4,1213.1 339.5,1212.5 264.8,1150.3 305.7,1164.1 414.0,1225.9 260.7,1138.3 154.2,1110.0 478.1,1250.7 439.8,1218.6 398.2,1205.9 190.3,1116.9 216.5,1126.9 151.7,1111.2 287.3,1153.8 410.7,1203.4 279.1,1152.7 167.8,1116.3 173.3,1114.0 343.3,1175.1 199.0,1127.3 344.5,1160.3 292.6,1143.8 239.3,1144.6 253.6,1168.0 365.7,1188.1 432.7,1226.5 178.9,1110.7 348.6,1190.0 299.0,1171.1 199.9,1129.3 190.7,1117.6 195.0,1136.0 427.6,1206.1 331.3,1201.0 136.2,1101.8 247.5,1153.7 336.2,1200.9 191.7,1135.8 252.4,1147.1 221.7,1119.5 268.8,1165.7 164.3,1110.2 312.1,1161.1 166.3,1111.2 270.3,1146.8 182.1,1123.1 295.7,1169.7 157.4,1113.3 203.4,1132.8 346.8,1182.6 166.0,1116.5 193.4,1130.7 300.1,1191.5 292.0,1168.0 156.4,1109.7 279.5,1150.2 410.4,1205.9 169.1,1114.6 236.1,1142.7 148.9,1104.4 312.1,1169.3 162.0,1111.6 239.7,1136.5 187.8,1117.6 342.9,1190.9 187.7,1115.4 213.9,1134.4 315.5,1162.5 159.5,1112.4 280.1,1148.4 180.8,1124.8 185.4,1124.4 470.7,1257.2 159.8,1108.6 204.0,1117.7 227.5,1124.6 327.2,1177.4 189.4,1128.0 172.7,1119.0 208.8,1133.8 295.1,1152.8 437.7,1239.0 288.9,1173.4 142.3,1104.6 237.0,1120.2 279.7,1151.9 356.9,1189.9 451.4,1251.5 174.3,1117.2 361.4,1192.6 325.6,1199.5 307.7,1191.2 281.1,1166.0 308.3,1180.2 222.6,1144.5 157.1,1108.3 206.2,1130.8 145.3,1105.9 349.2,1175.8 208.2,1132.3 403.7,1224.9 286.7,1185.8 321.8,1187.8 270.8,1170.3 381.9,1198.7 343.6,1166.7 172.6,1112.7 318.9,1182.0 366.4,1187.1 322.9,1202.6 367.9,1213.4 319.7,1175.0 256.4,1168.7 158.1,1113.5 200.4,1137.0 328.9,1178.8 215.0,1137.4 343.5,1183.6 360.6,1193.5 465.8,1253.3 394.8,1233.4 445.4,1230.8 202.0,1128.5 163.3,1109.3 369.8,1193.9 223.1,1138.5 391.1,1186.8 328.2,1175.4 451.9,1219.2 192.4,1124.1 211.7,1136.9 318.1,1181.1 139.8,1104.4 317.7,1164.3 281.0,1143.0 264.8,1154.8 157.8,1116.6 337.4,1180.9 152.9,1109.4 322.5,1173.1 357.9,1176.7 204.8,1135.1 381.2,1211.3 199.2,1115.4 236.4,1129.0 358.3,1211.1 390.0,1191.7 408.6,1210.5 346.5,1174.1 144.1,1107.4 373.7,1187.1 380.4,1192.2 401.6,1192.7 226.4,1152.5 174.5,1126.9 360.4,1196.4 210.3,1134.6 244.8,1150.5 394.6,1206.1 185.7,1119.9 211.1,1127.0 224.9,1141.9 359.6,1176.0 423.9,1205.9 182.3,1123.1 212.1,1119.2 346.0,1209.5 194.3,1121.9 294.2,1169.4 256.7,1164.7 370.7,1196.6 207.0,1129.2 273.9,1152.2 291.1,1172.1 149.6,1110.7 156.0,1107.5 191.9,1126.8 149.8,1111.6 238.5,1146.2 284.7,1154.5 264.6,1164.9 305.4,1188.4 289.0,1159.3 328.1,1157.6 375.6,1189.0 144.6,1106.9 156.2,1115.2 146.6,1110.9 282.9,1170.6 179.2,1114.7 265.4,1163.4 210.7,1129.6 247.6,1135.9 252.0,1129.9 293.1,1178.7 145.1,1102.8 268.4,1170.5 217.0,1149.8 282.6,1162.9 242.1,1135.3 143.7,1104.9 253.6,1142.1 281.3,1166.4 381.0,1215.5 261.8,1144.9 211.4,1127.3 145.4,1105.4 180.9,1124.8 421.8,1230.4 279.9,1151.4 402.1,1204.4 167.4,1114.8 180.4,1109.0 387.2,1195.6 150.6,1109.4 262.2,1138.0 310.2,1176.3 275.9,1160.3 312.3,1167.7 151.5,1112.5 281.1,1150.9 276.8,1165.0 348.3,1185.2 263.6,1166.2 222.8,1127.3 256.5,1156.9 182.3,1122.6 348.5,1204.2 277.9,1179.3 207.9,1117.2 321.6,1177.4 219.8,1123.9 270.1,1168.4 457.4,1252.1 413.6,1208.7 254.5,1152.1 206.8,1137.9 336.6,1186.8 438.3,1223.7 379.9,1177.0 293.4,1158.4 340.8,1199.0 472.7,1231.3 215.3,1133.6 163.0,1113.6 339.3,1185.0 407.7,1222.4 288.8,1156.1 217.4,1143.5 239.1,1137.8 138.1,1106.1 337.7,1176.9 447.8,1233.9 175.9,1115.2 290.7,1185.8 251.3,1137.2 304.3,1163.6 438.1,1244.6 364.5,1206.4 302.1,1169.9 148.7,1107.6 225.7,1124.1 223.6,1132.1 330.2,1186.3 174.6,1122.3 200.4,1132.3 168.9,1121.0 320.3,1182.6 136.5,1102.5 236.3,1137.4 229.4,1151.2 393.4,1207.2 153.1,1114.4 334.9,1162.7 254.7,1144.5 222.4,1127.0 147.6,1108.7 240.4,1135.0 436.5,1206.8 337.7,1183.5 179.8,1106.7 172.1,1112.8 278.5,1165.8 306.7,1158.2 411.2,1211.4 421.6,1203.7 382.4,1196.6 172.2,1116.7 253.8,1154.2 195.6,1126.9 298.5,1159.8 204.2,1138.3 250.7,1151.1 393.6,1196.3 207.2,1138.4 386.4,1197.3 297.5,1192.4 207.3,1134.7 318.0,1175.6 310.5,1167.9 239.9,1134.4 371.5,1186.3 342.3,1182.7 293.4,1183.3 316.4,1178.6 364.0,1193.7 287.8,1169.8 332.6,1178.6 265.5,1140.9 254.3,1133.8 233.5,1152.8 235.4,1137.7 365.9,1218.8 232.6,1156.8 284.9,1166.9 236.8,1148.5 292.6,1162.4 171.4,1114.8 146.9,1108.0 232.0,1138.7 207.2,1139.9 377.7,1198.8 348.3,1201.4 378.6,1202.3 264.2,1161.7 309.3,1196.6 342.0,1165.5 221.9,1144.2 166.2,1111.1 436.7,1227.6 413.6,1208.3 156.6,1109.1 184.1,1112.2 368.7,1165.1 311.4,1201.0 353.4,1203.2 264.2,1151.9 196.8,1112.1 185.5,1124.5 401.1,1232.1 279.2,1166.5 275.2,1139.3 297.4,1162.3 318.6,1180.8 210.1,1129.0 160.0,1116.2 407.5,1196.8 185.5,1116.7 335.6,1155.1 253.4,1161.5 223.8,1140.5 408.2,1204.9 331.5,1158.5 347.8,1200.8 214.6,1119.5 328.3,1164.3 232.8,1120.7 340.9,1166.4 382.9,1187.8 161.5,1107.9 358.6,1208.6 229.8,1144.2 148.9,1108.6 323.0,1171.5 360.6,1192.8 200.5,1116.4 317.0,1181.6 308.4,1161.1 283.2,1156.4 392.9,1210.5 334.9,1171.6 280.4,1144.6 441.1,1240.8 146.3,1102.6 307.1,1156.1 315.6,1160.7 316.3,1166.7 349.9,1187.2 267.5,1131.2 175.1,1113.9 305.4,1189.5 160.0,1116.5 374.5,1211.9 328.0,1179.6 168.1,1115.3 326.0,1172.6 194.3,1112.3 353.0,1195.5 149.9,1112.1 144.5,1107.5 237.9,1141.1 248.8,1156.0 243.2,1147.3 138.4,1106.5 135.2,1102.4 259.6,1131.7 318.4,1183.3 431.2,1234.2 352.7,1179.1 223.6,1136.5 259.7,1160.2 334.4,1154.7 226.2,1155.0 295.0,1177.2 242.1,1141.4 333.1,1166.9 233.8,1123.9 167.7,1123.7 255.8,1146.5 254.2,1157.1 284.1,1154.8 215.9,1128.7 223.6,1140.4 352.7,1176.6 345.3,1186.2 149.1,1107.8 266.9,1161.2 346.5,1200.0 154.3,1109.4 257.2,1166.6 187.9,1118.2 279.4,1156.2 243.1,1144.8 303.9,1167.7 303.6,1180.9 155.0,1102.8 236.0,1122.8 154.0,1102.6 427.0,1239.9 151.5,1111.9 189.1,1117.2 170.3,1116.8 172.8,1106.9 281.7,1158.2 202.0,1137.4 330.1,1190.3 443.4,1256.2 366.5,1188.1 217.9,1142.3 203.8,1127.9 177.9,1119.3 328.7,1184.5 163.9,1116.3 458.6,1253.0 361.2,1194.6 330.5,1186.9 422.4,1215.3 139.7,1105.5 175.4,1112.4 267.8,1168.1 312.7,1184.0 166.5,1115.3 277.3,1160.2 155.0,1107.9 239.1,1132.5 175.3,1110.8 351.5,1178.5 343.3,1199.8 363.9,1201.2 243.1,1129.2 180.4,1113.1 340.5,1204.5 249.4,1165.3 171.7,1119.6 143.5,1111.6 215.0,1125.5 298.8,1174.9 265.5,1147.7 242.7,1165.2 141.1,1106.5 278.6,1166.4 476.4,1251.7 185.9,1116.6 349.2,1188.7 160.6,1103.6 341.4,1180.3 248.8,1136.4 331.1,1193.3 306.5,1190.1 227.0,1139.1 370.8,1182.4 257.5,1139.2 453.0,1243.7 347.1,1185.1 143.3,1105.8 341.9,1171.8 290.1,1169.3 399.5,1211.8 293.8,1177.9 299.1,1158.0 297.3,1168.8 196.5,1115.0 263.9,1157.5 385.3,1203.7 180.2,1116.7 239.2,1151.9 349.2,1171.6 387.4,1228.2 184.5,1122.8 207.9,1133.7 337.5,1189.3 340.9,1176.9 210.9,1125.7 172.1,1120.6 160.6,1112.2 406.7,1216.4 428.9,1216.3 142.2,1108.1 238.5,1149.1 212.8,1120.2 249.4,1169.0 278.1,1174.4 263.0,1164.3 285.9,1168.8 275.6,1159.9 277.9,1172.1 397.9,1238.7 211.2,1129.7 188.7,1115.1 377.6,1200.5 265.9,1156.9 162.7,1117.0 332.0,1166.6 284.9,1158.9 328.0,1177.5 207.5,1136.7 390.1,1222.4 185.3,1122.0 358.6,1209.5 216.8,1133.4 380.2,1203.4 366.8,1164.5 354.4,1178.9 324.6,1165.4 349.9,1196.7 354.8,1193.2 331.1,1168.1 163.6,1113.3 236.1,1139.8 385.3,1209.3 144.6,1105.5 184.3,1115.9 366.2,1214.5 385.0,1199.2 348.0,1203.6 316.3,1165.2 284.4,1160.9 206.0,1125.7 233.5,1130.2 206.1,1133.7 251.8,1134.0 294.7,1170.8 264.8,1130.2 477.7,1255.4 370.9,1198.5 287.8,1179.0 173.6,1126.3 208.6,1123.7 169.6,1115.0 188.9,1113.7 234.2,1135.4 177.6,1117.9 189.8,1122.4 457.4,1246.0 261.8,1159.2 173.2,1120.9 379.7,1190.7 260.9,1154.6 419.4,1199.8 311.6,1172.4 310.0,1146.7 360.9,1192.3 158.4,1111.6 276.9,1154.7 362.2,1188.3 145.6,1102.5 320.7,1169.7 272.7,1151.4 194.0,1125.1 192.3,1125.9 453.6,1228.3 397.7,1205.2 400.3,1213.7 159.0,1108.1 320.0,1191.1 272.6,1183.1 157.0,1112.4 352.2,1183.4 168.8,1115.6 351.7,1206.8 179.4,1125.1 415.9,1193.9 328.3,1185.4 264.0,1146.0 244.6,1140.3 284.8,1166.8 155.0,1112.2 386.5,1199.0 350.5,1177.6 370.4,1194.3 401.9,1193.4 309.0,1195.6 295.0,1148.2 343.7,1195.3 235.5,1141.4 391.7,1205.2 200.2,1118.3 299.3,1163.2 277.7,1156.4 361.5,1185.9 402.4,1205.3 224.6,1136.0 267.1,1150.6 237.5,1145.6 221.1,1139.9 414.5,1205.3 307.6,1182.0 341.7,1186.9 183.2,1116.3 376.0,1206.2 358.2,1208.6 198.0,1122.7 201.8,1113.1 280.6,1171.0 298.5,1181.3 226.3,1125.5 400.2,1206.0 363.6,1201.3 248.3,1124.3 161.8,1115.5 200.3,1130.9 206.6,1134.3 303.0,1189.4 288.8,1151.9 445.6,1241.7 285.6,1189.3 241.7,1121.9 272.5,1153.7 348.7,1198.5 328.8,1171.3 377.3,1172.0 239.3,1145.1 290.6,1167.5 351.6,1179.3 162.8,1113.6 260.9,1162.8 313.5,1187.6 363.5,1200.3 442.1,1210.5 161.6,1110.9 433.2,1193.0 149.6,1105.2 340.7,1187.5 156.7,1112.7 164.1,1112.8 232.1,1138.2 365.7,1165.9 222.0,1122.0 138.9,1102.2 268.9,1149.2 239.3,1135.8 168.5,1124.0 137.9,1105.9 336.2,1169.4 224.2,1128.3 219.7,1127.7 256.7,1143.7 165.9,1111.1 331.4,1154.0 291.8,1180.1 196.1,1128.6 300.9,1177.3 249.8,1147.9 235.1,1144.1 263.7,1149.3 376.0,1168.8 145.7,1107.4 146.2,1107.3 224.2,1122.3 204.4,1111.5 257.2,1163.0 334.8,1168.8 263.9,1151.2 231.4,1131.1 304.7,1192.1 329.9,1160.8 421.0,1230.9 309.0,1146.3 405.2,1222.9 149.4,1106.8 348.2,1158.9 173.5,1116.0 202.8,1125.7 449.6,1209.9 423.7,1221.8 231.0,1137.2 361.6,1199.9 259.6,1135.6 182.8,1114.7 163.3,1108.5 235.2,1140.7 215.8,1126.5 286.3,1150.8 304.5,1188.1 444.0,1220.6 255.3,1161.3 340.0,1196.1 340.2,1174.7 231.1,1119.9 156.8,1111.3 301.0,1177.7 381.6,1218.0 244.6,1148.1 183.3,1121.7 172.1,1112.1 212.7,1123.9 466.8,1264.7 384.4,1218.6 417.1,1193.3 196.1,1125.9 235.1,1144.0 315.3,1151.8 182.7,1117.4 163.1,1114.9 163.5,1119.7 261.1,1170.6 291.5,1161.0 214.7,1127.9 346.1,1180.5 275.7,1161.7 233.5,1147.1 196.2,1116.8 330.5,1178.7 240.6,1136.2 379.0,1187.8 436.0,1216.3 313.9,1198.2 343.3,1210.4 251.2,1163.3 358.0,1167.3 218.2,1134.6 178.3,1129.0 317.3,1181.4 316.4,1166.3 224.5,1139.9 318.6,1173.1 407.1,1203.8 216.9,1133.7 333.0,1188.6 262.4,1150.9 228.7,1136.3 438.7,1210.9 310.9,1172.8 148.6,1110.3 336.0,1184.5 365.5,1192.0 265.1,1137.3 160.1,1116.1 345.7,1170.5 245.2,1151.6 360.4,1187.3 243.3,1151.9 252.9,1159.7 332.9,1177.8 208.3,1112.3 388.3,1172.1 205.7,1119.9 382.5,1186.9 349.0,1192.4 213.8,1146.9 331.6,1190.6 292.8,1164.3 232.5,1151.5 280.5,1158.7 181.4,1123.5 142.6,1106.8 439.6,1199.0 324.0,1191.5 346.0,1212.1 229.3,1133.6 141.5,1107.3 147.0,1109.1 218.1,1129.7 203.9,1124.0 267.8,1167.4 210.0,1123.9 402.6,1200.3 236.7,1148.9 225.2,1143.5 232.5,1153.6 201.2,1121.6 170.6,1108.5 308.4,1186.5 224.6,1120.5 242.6,1139.2 400.6,1204.4 343.2,1210.3 410.5,1211.8 306.1,1156.1 347.8,1187.6 340.1,1203.5 255.6,1129.7 385.3,1182.2 228.4,1146.2 218.2,1133.2 282.9,1149.7 293.3,1163.8 303.0,1171.3 294.4,1152.4 157.3,1108.7 364.5,1216.0 343.1,1190.7 418.1,1231.1 213.6,1130.1 204.4,1122.8 345.0,1191.3 171.9,1110.9 232.3,1142.0 441.5,1222.6 232.5,1135.7 272.0,1154.5 251.3,1137.4 340.8,1204.3 319.6,1157.4 235.3,1142.0 332.5,1165.0 283.1,1173.4 237.3,1138.6 235.6,1141.8 258.4,1156.4 256.3,1154.1 139.9,1105.3 142.3,1106.7 189.9,1124.0 318.6,1170.7 437.9,1220.8 139.0,1104.0 137.8,1102.8 276.1,1152.9 370.2,1216.6 380.6,1178.8 175.0,1125.0 219.7,1128.0 310.9,1181.6 367.9,1195.8 379.9,1197.5 227.4,1141.2 316.2,1197.8 294.9,1165.6 196.0,1123.8 339.1,1177.3 175.8,1127.2 321.3,1193.1 241.1,1154.1 347.9,1188.6 353.3,1163.0 177.5,1119.8 280.8,1139.6 392.7,1195.5 309.9,1185.6 252.7,1142.1 188.0,1116.9 183.2,1107.4 280.1,1169.8 351.6,1195.4 360.2,1185.7 364.3,1199.8 303.0,1150.0 431.1,1207.8 282.2,1164.3 277.5,1170.7 421.5,1215.4 355.6,1173.3 362.3,1186.4 236.5,1151.4 282.8,1154.8 166.3,1114.7 363.0,1200.2 210.1,1124.8 308.9,1173.1 147.5,1102.5 229.3,1131.5 175.1,1116.6 237.5,1147.2 303.6,1187.0 275.8,1153.5 152.8,1111.1 271.0,1155.7 143.8,1104.4 253.1,1140.1 352.1,1188.8 287.5,1164.1 236.0,1132.8 307.3,1199.1 286.7,1163.4 240.0,1148.8 240.3,1139.6 316.0,1203.1 304.9,1144.8 308.5,1168.0 173.3,1116.7 416.6,1231.4 383.3,1200.5 180.5,1112.8 344.1,1208.3 233.1,1145.1 361.2,1189.3 269.6,1153.5 305.0,1167.9 297.5,1170.0 306.8,1150.1 301.3,1171.2 308.3,1164.7 263.2,1158.9 272.6,1161.8 175.8,1111.2 301.9,1186.7 238.0,1148.6 153.4,1106.5 348.1,1173.2 313.5,1165.7 235.1,1143.0 313.4,1190.6 465.8,1230.7 176.6,1112.8 336.5,1190.5 473.5,1245.0 167.9,1113.8 197.4,1123.6 223.3,1131.0 433.4,1246.6 139.3,1106.6 277.5,1155.8 203.1,1135.7 177.9,1127.4 140.1,1105.9 242.5,1146.3 219.3,1128.1 232.2,1139.4 355.4,1193.9 249.1,1160.2 238.1,1131.7 277.6,1140.2 265.9,1148.8 328.3,1185.2 297.3,1142.8 249.5,1144.5 466.6,1232.4 432.6,1205.9 310.4,1174.9 363.0,1210.6 183.2,1111.4 417.3,1217.0 386.2,1199.7 273.9,1166.0 201.8,1126.0 281.2,1153.6 336.4,1195.3 275.7,1164.2 284.7,1150.1 241.3,1122.4 303.7,1161.4 356.0,1193.7 365.5,1205.8 193.3,1119.1 372.7,1191.4 307.2,1148.8 226.0,1130.9 379.6,1201.3 195.0,1119.5 175.0,1115.7 341.3,1171.6 448.0,1218.2 220.2,1135.0 270.5,1138.3 227.8,1136.1 300.0,1183.6 380.2,1191.3 387.6,1195.1 315.6,1164.4 322.1,1160.8 225.9,1129.6 247.0,1131.9 150.8,1108.0 181.2,1115.3 192.7,1115.1 301.5,1169.5 301.9,1181.8 147.5,1110.0 204.3,1124.6 324.8,1178.1 374.3,1181.7 319.6,1173.2 277.5,1167.1 146.6,1109.5 262.6,1167.7 475.9,1232.3 180.9,1126.8 200.0,1127.7 360.0,1214.1 270.2,1212.8 440.6,1251.3 332.3,1203.3 296.5,1201.3 273.7,1190.0 225.9,1173.5 212.3,1156.5 280.4,1196.1 439.4,1245.9 426.9,1241.5 396.6,1228.6 261.3,1197.8 321.2,1206.9 222.2,1160.8 238.9,1176.7 220.6,1185.8 268.7,1208.7 189.0,1152.5 396.4,1238.9 420.1,1250.2 226.0,1189.4 258.0,1188.6 231.2,1185.8 347.4,1221.6 447.2,1238.7 421.0,1253.6 187.1,1157.8 421.4,1249.3 290.2,1202.4 215.0,1168.1 252.1,1186.2 304.1,1212.5 268.8,1184.5 323.8,1231.3 197.5,1179.1 328.3,1197.0 260.3,1202.6 393.0,1235.6 325.1,1222.7 189.3,1160.7 444.3,1250.4 229.1,1190.4 315.6,1214.2 272.9,1213.0 317.5,1217.1 211.2,1161.6 240.2,1185.0 233.8,1184.2 279.4,1195.1 267.7,1184.7 274.2,1218.2 273.7,1198.1 269.5,1197.0 381.1,1221.8 290.7,1210.1 325.7,1215.9 315.5,1224.0 312.4,1228.8 406.5,1236.7 428.5,1241.6 183.5,1162.7 276.2,1210.3 448.7,1255.6 228.2,1188.7 300.7,1205.1 267.7,1196.4 325.7,1217.1 371.6,1214.7 335.8,1228.5 235.2,1191.8 332.7,1211.0 354.8,1223.7 205.2,1171.6 328.7,1225.4 181.4,1154.9 278.1,1195.9 262.2,1198.7 215.0,1176.4 341.4,1213.8 344.8,1221.8 336.3,1217.9 337.2,1228.3 352.4,1215.2 312.2,1204.3 436.8,1246.8 323.2,1216.4 308.4,1231.6 367.0,1232.2 239.1,1195.8 431.5,1255.0 326.8,1230.2 262.1,1211.2 245.2,1193.7 262.4,1185.5 450.2,1250.9 258.2,1207.4 208.4,1187.6 400.2,1253.1 219.4,1196.3 261.1,1200.8 259.5,1185.8 217.6,1177.8 222.4,1182.5 393.7,1248.6 427.2,1254.7 177.0,1147.6 273.8,1210.4 397.2,1235.5 248.5,1192.3 180.5,1157.8 399.1,1247.6 367.5,1239.2 183.0,1152.8 362.2,1230.7 281.5,1210.7 325.5,1212.6 216.1,1166.4 259.8,1173.1 431.9,1248.8 286.6,1194.5 272.8,1198.6 396.1,1230.6 324.9,1212.5 299.1,1204.0 186.7,1163.7 351.5,1219.0 242.3,1176.3 255.3,1193.1 237.7,1193.1 277.2,1191.0 400.2,1245.9 310.7,1211.7 378.7,1241.7 429.6,1232.3 353.1,1229.1 211.3,1171.0 231.2,1185.1 182.5,1151.6 389.0,1237.8 220.9,1160.3 383.4,1237.6 233.3,1196.3 404.6,1243.9 193.1,1162.4 368.1,1237.6 419.4,1257.6 293.9,1199.0 256.8,1178.5 322.6,1204.8 424.3,1240.6 207.5,1171.4 342.2,1231.8 278.6,1193.1 406.3,1233.1 214.1,1182.0 368.3,1244.8 309.5,1203.5 327.2,1225.0 299.1,1205.6 274.2,1194.0 229.4,1181.3 339.6,1214.1 289.7,1187.4 420.5,1232.8 219.2,1171.3 194.4,1164.6 343.0,1227.8 379.9,1245.2 336.9,1213.6 292.4,1204.8 198.2,1154.9 195.3,1156.6 284.6,1212.5 410.0,1241.8 220.1,1194.6 348.1,1232.6 368.7,1229.6 381.2,1230.4 349.1,1205.9 327.4,1230.5 347.5,1235.5 295.5,1227.2 308.7,1231.2 406.6,1245.4 380.6,1226.9 198.9,1153.0 259.2,1189.6 242.4,1186.8 179.0,1145.3 184.0,1160.3 280.4,1210.5 232.2,1174.4 449.0,1251.1 248.1,1175.9 251.1,1199.9 180.4,1149.1 348.3,1214.7 448.3,1237.5 372.7,1225.3 396.0,1223.8 188.4,1165.4 202.4,1172.1 248.9,1177.8 279.0,1191.4 216.1,1175.1 182.9,1156.2 303.4,1198.2 448.1,1263.2 276.8,1205.9 221.4,1196.9 235.3,1165.2 219.5,1164.1 179.1,1157.1 336.4,1223.3 350.0,1223.8 438.3,1240.5 272.7,1203.2 205.9,1165.6 206.4,1180.3 295.3,1217.0 368.7,1243.4 193.9,1150.0 379.6,1239.9 228.5,1198.0 189.2,1171.0 212.0,1183.5 337.9,1233.2 188.4,1154.1 308.8,1225.4 429.8,1263.9 283.5,1206.2 426.8,1251.5 236.5,1183.6 349.7,1228.5 433.3,1246.2 241.8,1191.4 413.4,1242.2 408.6,1228.7 407.7,1236.8 275.9,1203.4 183.4,1157.1 246.0,1202.3 274.7,1208.6 254.1,1204.0 345.6,1224.5 336.5,1232.0 230.5,1176.3 293.7,1198.7 396.3,1248.8 333.0,1222.2 362.7,1223.9 386.9,1247.6 306.1,1224.4 355.3,1236.6 313.6,1225.6 226.9,1189.9 192.3,1167.4 305.8,1201.6 379.6,1218.5 399.7,1237.7 372.4,1214.5 287.1,1197.6 344.8,1213.3 292.1,1206.0 377.3,1229.3 254.0,1191.3 281.3,1192.1 354.1,1225.8 405.8,1256.1 379.9,1226.7 210.4,1158.3 210.6,1183.8 232.6,1190.6 248.5,1188.9 209.1,1168.3 426.9,1249.6 301.7,1204.5 186.3,1163.5 268.2,1193.5 292.0,1198.5 361.7,1237.0 373.6,1227.5 218.8,1182.2 252.8,1179.4 404.5,1236.8 283.9,1203.8 317.9,1206.7 441.8,1259.0 278.1,1199.1 195.4,1164.6 306.8,1190.1 227.8,1186.8 229.0,1182.9 253.6,1171.9 274.8,1201.3 219.5,1180.8 378.0,1229.4 174.5,1144.8 418.7,1231.9 329.7,1218.6 179.8,1313.0 183.5,1185.3 192.1,1193.8 205.6,1203.7 206.8,1223.3 217.9,1200.0 219.9,1242.2 221.6,1255.7 242.4,1262.6 244.9,1232.7 271.9,1265.1 292.8,1266.3 320.3,1260.9 345.6,1273.7 359.1,1274.2 365.2,1265.1 409.5,1287.2 424.2,1287.2 443.8,1281.5 493.0,1290.9 477.0,1265.8 488.0,1211.5 447.5,1190.2 409.5,1277.4 271.9,1229.5 278.1,1227.7 285.4,1223.3 324.7,1247.9" fill="none" stroke="none" marker-start="url(#mloss)" marker-mid="url(#mloss)" marker-end="url(#mloss)"/>
<polyline points="139.3,1075.6 145.4,1081.7 151.6,1079.3 139.3,1101.4 149.1,1098.9 158.9,1097.7 170.0,1080.5 178.6,1062.1 184.7,1071.9 199.5,1073.1 205.6,1069.5 225.3,1060.9 236.3,1062.1 241.2,1065.8 247.4,1055.9 237.5,1051.0 244.9,1054.7 258.4,1060.9 264.5,1064.5 242.4,1122.3 247.4,1116.1 262.1,1124.7 271.9,1121.0 280.5,1123.5 287.9,1125.9 144.2,1094.0 138.1,1090.3 242.4,1118.9 247.4,1115.3 259.6,1125.1 262.1,1128.8 269.5,1118.9 273.1,1122.6 289.1,1126.3 301.4,1141.0 308.8,1143.5 323.5,1133.7 330.9,1146.0 367.7,1150.4 410.7,1173.0 370.2,1165.6 205.6,1069.8 227.7,1110.3 237.5,1112.8" fill="none" stroke="none" marker-start="url(#mund)" marker-mid="url(#mund)" marker-end="url(#mund)"/>
<path d="M110.0 74.0V613.5H643.8" fill="none" stroke="#262626" stroke-width="2"/>
<line x1="110.0" y1="613.1" x2="116.5" y2="613.1" stroke="#262626" stroke-width="2"/>
<text x="97.0" y="625.6" font-size="30" text-anchor="end">-0.8</text>
<line x1="110.0" y1="545.7" x2="116.5" y2="545.7" stroke="#262626" stroke-width="2"/>
<text x="97.0" y="558.2" font-size="30" text-anchor="end">-0.6</text>
<line x1="110.0" y1="478.3" x2="116.5" y2="478.3" stroke="#262626" stroke-width="2"/>
<text x="97.0" y="490.8" font-size="30" text-anchor="end">-0.4</text>
<line x1="110.0" y1="410.9" x2="116.5" y2="410.9" stroke="#262626" stroke-width="2"/>
<text x="97.0" y="423.4" font-size="30" text-anchor="end">-0.2</text>
<line x1="110.0" y1="343.5" x2="116.5" y2="343.5" stroke="#262626" stroke-width="2"/>
<text x="97.0" y="356.0" font-size="30" text-anchor="end">0</text>
<line x1="110.0" y1="276.1" x2="116.5" y2="276.1" stroke="#262626" stroke-width="2"/>
<text x="97.0" y="288.6" font-size="30" text-anchor="end">0.2</text>
<line x1="110.0" y1="208.7" x2="116.5" y2="208.7" stroke="#262626" stroke-width="2"/>
<text x="97.0" y="221.2" font-size="30" text-anchor="end">0.4</text>
<line x1="110.0" y1="141.3" x2="116.5" y2="141.3" stroke="#262626" stroke-width="2"/>
<text x="97.0" y="153.8" font-size="30" text-anchor="end">0.6</text>
<text x="110.0" y="657.0" font-size="30" text-anchor="middle">0</text>
<line x1="262.5" y1="613.5" x2="262.5" y2="607.0" stroke="#262626" stroke-width="2"/>
<text x="262.5" y="657.0" font-size="30" text-anchor="middle">0.1</text>
<line x1="415.0" y1="613.5" x2="415.0" y2="607.0" stroke="#262626" stroke-width="2"/>
<text x="415.0" y="657.0" font-size="30" text-anchor="middle">0.2</text>
<line x1="567.5" y1="613.5" x2="567.5" y2="607.0" stroke="#262626" stroke-width="2"/>
<text x="567.5" y="657.0" font-size="30" text-anchor="middle">0.3</text>
<text x="376.9" y="699.8" font-size="33" text-anchor="middle" textLength="416" lengthAdjust="spacingAndGlyphs">|ΔBAF| (allelic intensity shift)</text>
<text x="27.4" y="343.8" font-size="33" text-anchor="middle" textLength="455" lengthAdjust="spacingAndGlyphs" transform="rotate(-90 27.4 343.75)">LRR (total genotyping intensity)</text>
<text x="376.9" y="64.0" font-size="33" text-anchor="middle" font-weight="bold" textLength="572" lengthAdjust="spacingAndGlyphs" fill="#000">Detected mCAs of length 50-250 Mb</text>
<path d="M812.5 74.0V613.5H1346.2" fill="none" stroke="#262626" stroke-width="2"/>
<line x1="812.5" y1="613.1" x2="819.0" y2="613.1" stroke="#262626" stroke-width="2"/>
<text x="799.5" y="625.6" font-size="30" text-anchor="end">-0.8</text>
<line x1="812.5" y1="545.7" x2="819.0" y2="545.7" stroke="#262626" stroke-width="2"/>
<text x="799.5" y="558.2" font-size="30" text-anchor="end">-0.6</text>
<line x1="812.5" y1="478.3" x2="819.0" y2="478.3" stroke="#262626" stroke-width="2"/>
<text x="799.5" y="490.8" font-size="30" text-anchor="end">-0.4</text>
<line x1="812.5" y1="410.9" x2="819.0" y2="410.9" stroke="#262626" stroke-width="2"/>
<text x="799.5" y="423.4" font-size="30" text-anchor="end">-0.2</text>
<line x1="812.5" y1="343.5" x2="819.0" y2="343.5" stroke="#262626" stroke-width="2"/>
<text x="799.5" y="356.0" font-size="30" text-anchor="end">0</text>
<line x1="812.5" y1="276.1" x2="819.0" y2="276.1" stroke="#262626" stroke-width="2"/>
<text x="799.5" y="288.6" font-size="30" text-anchor="end">0.2</text>
<line x1="812.5" y1="208.7" x2="819.0" y2="208.7" stroke="#262626" stroke-width="2"/>
<text x="799.5" y="221.2" font-size="30" text-anchor="end">0.4</text>
<line x1="812.5" y1="141.3" x2="819.0" y2="141.3" stroke="#262626" stroke-width="2"/>
<text x="799.5" y="153.8" font-size="30" text-anchor="end">0.6</text>
<text x="812.5" y="657.0" font-size="30" text-anchor="middle">0</text>
<line x1="965.0" y1="613.5" x2="965.0" y2="607.0" stroke="#262626" stroke-width="2"/>
<text x="965.0" y="657.0" font-size="30" text-anchor="middle">0.1</text>
<line x1="1117.5" y1="613.5" x2="1117.5" y2="607.0" stroke="#262626" stroke-width="2"/>
<text x="1117.5" y="657.0" font-size="30" text-anchor="middle">0.2</text>
<line x1="1270.0" y1="613.5" x2="1270.0" y2="607.0" stroke="#262626" stroke-width="2"/>
<text x="1270.0" y="657.0" font-size="30" text-anchor="middle">0.3</text>
<text x="1079.4" y="699.8" font-size="33" text-anchor="middle" textLength="416" lengthAdjust="spacingAndGlyphs">|ΔBAF| (allelic intensity shift)</text>
<text x="729.9" y="343.8" font-size="33" text-anchor="middle" textLength="455" lengthAdjust="spacingAndGlyphs" transform="rotate(-90 729.9 343.75)">LRR (total genotyping intensity)</text>
<text x="1079.4" y="64.0" font-size="33" text-anchor="middle" font-weight="bold" textLength="557" lengthAdjust="spacingAndGlyphs" fill="#000">Detected mCAs of length 10-50 Mb</text>
<path d="M1515.0 74.0V613.5H2048.8" fill="none" stroke="#262626" stroke-width="2"/>
<line x1="1515.0" y1="613.1" x2="1521.5" y2="613.1" stroke="#262626" stroke-width="2"/>
<text x="1502.0" y="625.6" font-size="30" text-anchor="end">-0.8</text>
<line x1="1515.0" y1="545.7" x2="1521.5" y2="545.7" stroke="#262626" stroke-width="2"/>
<text x="1502.0" y="558.2" font-size="30" text-anchor="end">-0.6</text>
<line x1="1515.0" y1="478.3" x2="1521.5" y2="478.3" stroke="#262626" stroke-width="2"/>
<text x="1502.0" y="490.8" font-size="30" text-anchor="end">-0.4</text>
<line x1="1515.0" y1="410.9" x2="1521.5" y2="410.9" stroke="#262626" stroke-width="2"/>
<text x="1502.0" y="423.4" font-size="30" text-anchor="end">-0.2</text>
<line x1="1515.0" y1="343.5" x2="1521.5" y2="343.5" stroke="#262626" stroke-width="2"/>
<text x="1502.0" y="356.0" font-size="30" text-anchor="end">0</text>
<line x1="1515.0" y1="276.1" x2="1521.5" y2="276.1" stroke="#262626" stroke-width="2"/>
<text x="1502.0" y="288.6" font-size="30" text-anchor="end">0.2</text>
<line x1="1515.0" y1="208.7" x2="1521.5" y2="208.7" stroke="#262626" stroke-width="2"/>
<text x="1502.0" y="221.2" font-size="30" text-anchor="end">0.4</text>
<line x1="1515.0" y1="141.3" x2="1521.5" y2="141.3" stroke="#262626" stroke-width="2"/>
<text x="1502.0" y="153.8" font-size="30" text-anchor="end">0.6</text>
<text x="1515.0" y="657.0" font-size="30" text-anchor="middle">0</text>
<line x1="1667.5" y1="613.5" x2="1667.5" y2="607.0" stroke="#262626" stroke-width="2"/>
<text x="1667.5" y="657.0" font-size="30" text-anchor="middle">0.1</text>
<line x1="1820.0" y1="613.5" x2="1820.0" y2="607.0" stroke="#262626" stroke-width="2"/>
<text x="1820.0" y="657.0" font-size="30" text-anchor="middle">0.2</text>
<line x1="1972.5" y1="613.5" x2="1972.5" y2="607.0" stroke="#262626" stroke-width="2"/>
<text x="1972.5" y="657.0" font-size="30" text-anchor="middle">0.3</text>
<text x="1781.9" y="699.8" font-size="33" text-anchor="middle" textLength="416" lengthAdjust="spacingAndGlyphs">|ΔBAF| (allelic intensity shift)</text>
<text x="1432.4" y="343.8" font-size="33" text-anchor="middle" textLength="455" lengthAdjust="spacingAndGlyphs" transform="rotate(-90 1432.4 343.75)">LRR (total genotyping intensity)</text>
<text x="1781.9" y="64.0" font-size="33" text-anchor="middle" font-weight="bold" textLength="537" lengthAdjust="spacingAndGlyphs" fill="#000">Detected mCAs of length 2-10 Mb</text>
<path d="M110.0 824.0V1363.5H643.8" fill="none" stroke="#262626" stroke-width="2"/>
<line x1="110.0" y1="1363.1" x2="116.5" y2="1363.1" stroke="#262626" stroke-width="2"/>
<text x="97.0" y="1375.6" font-size="30" text-anchor="end">-0.8</text>
<line x1="110.0" y1="1295.7" x2="116.5" y2="1295.7" stroke="#262626" stroke-width="2"/>
<text x="97.0" y="1308.2" font-size="30" text-anchor="end">-0.6</text>
<line x1="110.0" y1="1228.3" x2="116.5" y2="1228.3" stroke="#262626" stroke-width="2"/>
<text x="97.0" y="1240.8" font-size="30" text-anchor="end">-0.4</text>
<line x1="110.0" y1="1160.9" x2="116.5" y2="1160.9" stroke="#262626" stroke-width="2"/>
<text x="97.0" y="1173.4" font-size="30" text-anchor="end">-0.2</text>
<line x1="110.0" y1="1093.5" x2="116.5" y2="1093.5" stroke="#262626" stroke-width="2"/>
<text x="97.0" y="1106.0" font-size="30" text-anchor="end">0</text>
<line x1="110.0" y1="1026.1" x2="116.5" y2="1026.1" stroke="#262626" stroke-width="2"/>
<text x="97.0" y="1038.6" font-size="30" text-anchor="end">0.2</text>
<line x1="110.0" y1="958.7" x2="116.5" y2="958.7" stroke="#262626" stroke-width="2"/>
<text x="97.0" y="971.2" font-size="30" text-anchor="end">0.4</text>
<line x1="110.0" y1="891.3" x2="116.5" y2="891.3" stroke="#262626" stroke-width="2"/>
<text x="97.0" y="903.8" font-size="30" text-anchor="end">0.6</text>
<text x="110.0" y="1407.0" font-size="30" text-anchor="middle">0</text>
<line x1="262.5" y1="1363.5" x2="262.5" y2="1357.0" stroke="#262626" stroke-width="2"/>
<text x="262.5" y="1407.0" font-size="30" text-anchor="middle">0.1</text>
<line x1="415.0" y1="1363.5" x2="415.0" y2="1357.0" stroke="#262626" stroke-width="2"/>
<text x="415.0" y="1407.0" font-size="30" text-anchor="middle">0.2</text>
<line x1="567.5" y1="1363.5" x2="567.5" y2="1357.0" stroke="#262626" stroke-width="2"/>
<text x="567.5" y="1407.0" font-size="30" text-anchor="middle">0.3</text>
<text x="376.9" y="1449.8" font-size="33" text-anchor="middle" textLength="416" lengthAdjust="spacingAndGlyphs">|ΔBAF| (allelic intensity shift)</text>
<text x="27.4" y="1093.8" font-size="33" text-anchor="middle" textLength="455" lengthAdjust="spacingAndGlyphs" transform="rotate(-90 27.4 1093.75)">LRR (total genotyping intensity)</text>
<text x="376.9" y="814.0" font-size="33" text-anchor="middle" font-weight="bold" textLength="520" lengthAdjust="spacingAndGlyphs" fill="#000">Detected mCAs of length 0-2 Mb</text>
<text x="2.0" y="25.6" font-size="32" font-weight="bold" fill="#000">a</text>
<text x="706.0" y="25.6" font-size="32" font-weight="bold" fill="#000">b</text>
<text x="1408.0" y="25.6" font-size="32" font-weight="bold" fill="#000">c</text>
<text x="2.0" y="776.0" font-size="32" font-weight="bold" fill="#000">d</text>
<text x="709.0" y="781.6" font-size="32" font-weight="bold" fill="#000">e</text>
<text x="2.0" y="1526.0" font-size="32" font-weight="bold" fill="#000">f</text>
<path d="M410.7 118.4l18 18m0 -18l-18 18" stroke="#c0141c" stroke-width="1.6" fill="none"/>
<text x="449.5" y="137.0" font-size="24.3">Gain</text>
<path d="M410.7 153.5l18 18m0 -18l-18 18" stroke="#e0982c" stroke-width="1.6" fill="none"/>
<text x="449.5" y="172.1" font-size="24.3">CN-LOH</text>
<path d="M410.7 188.6l18 18m0 -18l-18 18" stroke="#1c5cc0" stroke-width="1.6" fill="none"/>
<text x="449.5" y="207.2" font-size="24.3">Loss</text>
<path d="M410.7 223.7l18 18m0 -18l-18 18" stroke="#808080" stroke-width="1.6" fill="none"/>
<text x="449.5" y="242.3" font-size="24.3">Undetermined</text>
<path d="M410.7 258.8l18 18m0 -18l-18 18" stroke="#e0e0e0" stroke-width="1.6" fill="none"/>
<text x="449.5" y="277.4" font-size="24.3">Filtered</text>
<path d="M835.8 825.0V2101.0H2087.0" fill="none" stroke="#262626" stroke-width="2"/>
<line x1="835.8" y1="2101.0" x2="849.3" y2="2101.0" stroke="#262626" stroke-width="2"/>
<text x="819.5" y="2113.5" font-size="33" text-anchor="end">0</text>
<line x1="835.8" y1="1973.4" x2="849.3" y2="1973.4" stroke="#262626" stroke-width="2"/>
<text x="819.5" y="1985.9" font-size="33" text-anchor="end">0.05</text>
<line x1="835.8" y1="1845.8" x2="849.3" y2="1845.8" stroke="#262626" stroke-width="2"/>
<text x="819.5" y="1858.3" font-size="33" text-anchor="end">0.1</text>
<line x1="835.8" y1="1718.2" x2="849.3" y2="1718.2" stroke="#262626" stroke-width="2"/>
<text x="819.5" y="1730.7" font-size="33" text-anchor="end">0.15</text>
<line x1="835.8" y1="1590.6" x2="849.3" y2="1590.6" stroke="#262626" stroke-width="2"/>
<text x="819.5" y="1603.1" font-size="33" text-anchor="end">0.2</text>
<line x1="835.8" y1="1463.0" x2="849.3" y2="1463.0" stroke="#262626" stroke-width="2"/>
<text x="819.5" y="1475.5" font-size="33" text-anchor="end">0.25</text>
<line x1="835.8" y1="1335.4" x2="849.3" y2="1335.4" stroke="#262626" stroke-width="2"/>
<text x="819.5" y="1347.9" font-size="33" text-anchor="end">0.3</text>
<line x1="835.8" y1="1207.8" x2="849.3" y2="1207.8" stroke="#262626" stroke-width="2"/>
<text x="819.5" y="1220.3" font-size="33" text-anchor="end">0.35</text>
<line x1="835.8" y1="1080.2" x2="849.3" y2="1080.2" stroke="#262626" stroke-width="2"/>
<text x="819.5" y="1092.7" font-size="33" text-anchor="end">0.4</text>
<line x1="835.8" y1="952.6" x2="849.3" y2="952.6" stroke="#262626" stroke-width="2"/>
<text x="819.5" y="965.1" font-size="33" text-anchor="end">0.45</text>
<line x1="835.8" y1="825.0" x2="849.3" y2="825.0" stroke="#262626" stroke-width="2"/>
<text x="819.5" y="837.5" font-size="33" text-anchor="end">0.5</text>
<line x1="939.5" y1="2101.0" x2="939.5" y2="2087.5" stroke="#262626" stroke-width="2"/>
<text x="961.9" y="2139.4" font-size="33" text-anchor="end" transform="rotate(-45 961.9 2139.4)">&lt;45</text>
<line x1="1148.0" y1="2101.0" x2="1148.0" y2="2087.5" stroke="#262626" stroke-width="2"/>
<text x="1170.4" y="2139.4" font-size="33" text-anchor="end" transform="rotate(-45 1170.4 2139.4)">45-50</text>
<line x1="1356.5" y1="2101.0" x2="1356.5" y2="2087.5" stroke="#262626" stroke-width="2"/>
<text x="1378.9" y="2139.4" font-size="33" text-anchor="end" transform="rotate(-45 1378.9 2139.4)">50-55</text>
<line x1="1565.0" y1="2101.0" x2="1565.0" y2="2087.5" stroke="#262626" stroke-width="2"/>
<text x="1587.4" y="2139.4" font-size="33" text-anchor="end" transform="rotate(-45 1587.4 2139.4)">55-60</text>
<line x1="1773.5" y1="2101.0" x2="1773.5" y2="2087.5" stroke="#262626" stroke-width="2"/>
<text x="1795.9" y="2139.4" font-size="33" text-anchor="end" transform="rotate(-45 1795.9 2139.4)">60-65</text>
<line x1="1982.0" y1="2101.0" x2="1982.0" y2="2087.5" stroke="#262626" stroke-width="2"/>
<text x="2004.4" y="2139.4" font-size="33" text-anchor="end" transform="rotate(-45 2004.4 2139.4)">&gt;65</text>
<text x="1460.0" y="2240.5" font-size="33" text-anchor="middle">Age</text>
<text x="736.6" y="1463.0" font-size="31" text-anchor="middle" textLength="404" lengthAdjust="spacingAndGlyphs" transform="rotate(-90 736.6 1463.0)">Fraction of individuals or calls</text>
<text x="1461.0" y="815.0" font-size="36" text-anchor="middle" font-weight="bold" textLength="1087" lengthAdjust="spacingAndGlyphs" fill="#000">False discovery rate estimation using age skew of mCA carriers</text>
<polyline points="939.5,1935.9 1148.0,1871.8 1356.5,1803.7 1565.0,1674.8 1773.5,1376.5 1982.0,1392.6" fill="none" stroke="#80b24a" stroke-width="2.6" stroke-dasharray="12 11.5"/>
<polyline points="939.5,1838.4 1148.0,1765.4 1356.5,1713.4 1565.0,1639.1 1773.5,1482.4 1982.0,1612.5" fill="none" stroke="#727272" stroke-width="2.6"/>
<circle cx="939.5" cy="1838.4" r="13" fill="none" stroke="#727272" stroke-width="2.6"/>
<circle cx="1148.0" cy="1765.4" r="13" fill="none" stroke="#727272" stroke-width="2.6"/>
<circle cx="1356.5" cy="1713.4" r="13" fill="none" stroke="#727272" stroke-width="2.6"/>
<circle cx="1565.0" cy="1639.1" r="13" fill="none" stroke="#727272" stroke-width="2.6"/>
<circle cx="1773.5" cy="1482.4" r="13" fill="none" stroke="#727272" stroke-width="2.6"/>
<circle cx="1982.0" cy="1612.5" r="13" fill="none" stroke="#727272" stroke-width="2.6"/>
<polyline points="939.5,1913.7 1148.0,1837.1 1356.5,1770.0 1565.0,1613.6 1773.5,1407.1 1982.0,1492.6" fill="none" stroke="#7a9c50" stroke-width="2.6"/>
<circle cx="939.5" cy="1913.7" r="13" fill="none" stroke="#7a9c50" stroke-width="2.6"/>
<circle cx="1148.0" cy="1837.1" r="13" fill="none" stroke="#7a9c50" stroke-width="2.6"/>
<circle cx="1356.5" cy="1770.0" r="13" fill="none" stroke="#7a9c50" stroke-width="2.6"/>
<circle cx="1565.0" cy="1613.6" r="13" fill="none" stroke="#7a9c50" stroke-width="2.6"/>
<circle cx="1773.5" cy="1407.1" r="13" fill="none" stroke="#7a9c50" stroke-width="2.6"/>
<circle cx="1982.0" cy="1492.6" r="13" fill="none" stroke="#7a9c50" stroke-width="2.6"/>
<polyline points="939.5,1930.5 1148.0,1860.6 1356.5,1801.9 1565.0,1629.9 1773.5,1419.6 1982.0,1426.0" fill="none" stroke="#80b24a" stroke-width="2.6"/>
<circle cx="939.5" cy="1930.5" r="13" fill="none" stroke="#80b24a" stroke-width="2.6"/>
<circle cx="1148.0" cy="1860.6" r="13" fill="none" stroke="#80b24a" stroke-width="2.6"/>
<circle cx="1356.5" cy="1801.9" r="13" fill="none" stroke="#80b24a" stroke-width="2.6"/>
<circle cx="1565.0" cy="1629.9" r="13" fill="none" stroke="#80b24a" stroke-width="2.6"/>
<circle cx="1773.5" cy="1419.6" r="13" fill="none" stroke="#80b24a" stroke-width="2.6"/>
<circle cx="1982.0" cy="1426.0" r="13" fill="none" stroke="#80b24a" stroke-width="2.6"/>
<polyline points="939.5,1981.3 1148.0,1921.6 1356.5,1845.3 1565.0,1685.0 1773.5,1328.3 1982.0,1290.0" fill="none" stroke="#7cc242" stroke-width="2.6"/>
<circle cx="939.5" cy="1981.3" r="13" fill="none" stroke="#7cc242" stroke-width="2.6"/>
<circle cx="1148.0" cy="1921.6" r="13" fill="none" stroke="#7cc242" stroke-width="2.6"/>
<circle cx="1356.5" cy="1845.3" r="13" fill="none" stroke="#7cc242" stroke-width="2.6"/>
<circle cx="1565.0" cy="1685.0" r="13" fill="none" stroke="#7cc242" stroke-width="2.6"/>
<circle cx="1773.5" cy="1328.3" r="13" fill="none" stroke="#7cc242" stroke-width="2.6"/>
<circle cx="1982.0" cy="1290.0" r="13" fill="none" stroke="#7cc242" stroke-width="2.6"/>
<line x1="881.0" y1="883.7" x2="1003.5" y2="883.7" stroke="#7cc242" stroke-width="2.6"/>
<circle cx="942" cy="883.7" r="12.5" fill="none" stroke="#7cc242" stroke-width="2.6"/>
<text x="1013.8" y="895.4" font-size="28.5">High-confidence mosaic calls:</text>
<text x="1457.2" y="895.4" font-size="28.5">17061 calls passing FDR 0.01 threshold</text>
<line x1="881.0" y1="924.9" x2="1003.5" y2="924.9" stroke="#80b24a" stroke-width="2.6"/>
<circle cx="942" cy="924.9" r="12.5" fill="none" stroke="#80b24a" stroke-width="2.6"/>
<text x="1013.8" y="936.6" font-size="28.5">Medium-confidence mosaic calls:</text>
<text x="1457.2" y="936.6" font-size="28.5">2571 calls between FDR 0.05 and 0.01 thresholds</text>
<line x1="881.0" y1="966.1" x2="1003.5" y2="966.1" stroke="#7a9c50" stroke-width="2.6"/>
<circle cx="942" cy="966.1" r="12.5" fill="none" stroke="#7a9c50" stroke-width="2.6"/>
<text x="1013.8" y="977.8" font-size="28.5">Low-confidence mosaic calls:</text>
<text x="1457.2" y="977.8" font-size="28.5">2574 calls between FDR 0.10 and 0.05 thresholds</text>
<line x1="881.0" y1="1007.3" x2="1003.5" y2="1007.3" stroke="#727272" stroke-width="2.6"/>
<circle cx="942" cy="1007.3" r="12.5" fill="none" stroke="#727272" stroke-width="2.6"/>
<text x="1013.8" y="1019.0" font-size="28.5">All samples (baseline)</text>
<text x="2121.0" y="1019.1" font-size="28.5" text-anchor="end">(permutation-based FDR thresholds)</text>
<line x1="881.0" y1="1089.5" x2="1003.5" y2="1089.5" stroke="#80b24a" stroke-width="2.6" stroke-dasharray="12 11.5"/>
<text x="1013.8" y="1101.5" font-size="28.5">Expected medium-confidence distribution (based on FDRs from phase randomization):</text>
<text x="1023.3" y="1148.7" font-size="28.5">0.05 * 19632 - 0.01 * 17061 = 811 false positives among 2571 calls</text>
<text x="1030.8" y="1185.2" font-size="28.5">=&gt; 32:68 mix of false positives (baseline) and true positives (high conf.)</text>
<text x="940.8" y="1272.5" font-size="28.5">Observed regression fit:</text>
<text x="965.0" y="1308.7" font-size="28.5">medium-conf. = <tspan font-family="Liberation Serif, serif" font-style="italic">α</tspan> * baseline + (1-<tspan font-family="Liberation Serif, serif" font-style="italic">α</tspan>) * (high-conf.)</text>
<text x="965.0" y="1344.0" font-size="28.5" xml:space="preserve"><tspan font-family="Liberation Serif, serif" font-style="italic">α</tspan> = 0.44 (0.28 - 0.59),   95% CI</text>
<text x="940.8" y="1435.7" font-size="28.5">Inferred true FDR among 19632 calls: 6.6% (4.5 - 8.6%)</text>
<path d="M110.0 1573.5V2113.5H644.0" fill="none" stroke="#262626" stroke-width="2"/>
<line x1="110.0" y1="2113.5" x2="116.0" y2="2113.5" stroke="#262626" stroke-width="2"/>
<text x="97.5" y="2126.0" font-size="30" text-anchor="end">0</text>
<line x1="110.0" y1="2036.4" x2="116.0" y2="2036.4" stroke="#262626" stroke-width="2"/>
<text x="97.5" y="2048.9" font-size="30" text-anchor="end">1</text>
<line x1="110.0" y1="1959.2" x2="116.0" y2="1959.2" stroke="#262626" stroke-width="2"/>
<text x="97.5" y="1971.7" font-size="30" text-anchor="end">2</text>
<line x1="110.0" y1="1882.1" x2="116.0" y2="1882.1" stroke="#262626" stroke-width="2"/>
<text x="97.5" y="1894.6" font-size="30" text-anchor="end">3</text>
<line x1="110.0" y1="1804.9" x2="116.0" y2="1804.9" stroke="#262626" stroke-width="2"/>
<text x="97.5" y="1817.4" font-size="30" text-anchor="end">4</text>
<line x1="110.0" y1="1727.8" x2="116.0" y2="1727.8" stroke="#262626" stroke-width="2"/>
<text x="97.5" y="1740.3" font-size="30" text-anchor="end">5</text>
<line x1="110.0" y1="1650.6" x2="116.0" y2="1650.6" stroke="#262626" stroke-width="2"/>
<text x="97.5" y="1663.1" font-size="30" text-anchor="end">6</text>
<line x1="110.0" y1="1573.5" x2="116.0" y2="1573.5" stroke="#262626" stroke-width="2"/>
<text x="97.5" y="1586.0" font-size="30" text-anchor="end">7</text>
<line x1="154.5" y1="2113.5" x2="154.5" y2="2107.5" stroke="#262626" stroke-width="2"/>
<text x="174.5" y="2148.5" font-size="30" text-anchor="end" transform="rotate(-45 174.5 2148.5)">&lt;45</text>
<line x1="243.5" y1="2113.5" x2="243.5" y2="2107.5" stroke="#262626" stroke-width="2"/>
<text x="263.5" y="2148.5" font-size="30" text-anchor="end" transform="rotate(-45 263.5 2148.5)">45-50</text>
<line x1="332.5" y1="2113.5" x2="332.5" y2="2107.5" stroke="#262626" stroke-width="2"/>
<text x="352.5" y="2148.5" font-size="30" text-anchor="end" transform="rotate(-45 352.5 2148.5)">50-55</text>
<line x1="421.5" y1="2113.5" x2="421.5" y2="2107.5" stroke="#262626" stroke-width="2"/>
<text x="441.5" y="2148.5" font-size="30" text-anchor="end" transform="rotate(-45 441.5 2148.5)">55-60</text>
<line x1="510.5" y1="2113.5" x2="510.5" y2="2107.5" stroke="#262626" stroke-width="2"/>
<text x="530.5" y="2148.5" font-size="30" text-anchor="end" transform="rotate(-45 530.5 2148.5)">60-65</text>
<line x1="599.5" y1="2113.5" x2="599.5" y2="2107.5" stroke="#262626" stroke-width="2"/>
<text x="619.5" y="2148.5" font-size="30" text-anchor="end" transform="rotate(-45 619.5 2148.5)">&gt;65</text>
<text x="376.0" y="2243.8" font-size="33" text-anchor="middle">Age</text>
<text x="63.3" y="1840.5" font-size="33" text-anchor="middle" textLength="507" lengthAdjust="spacingAndGlyphs" transform="rotate(-90 63.3 1840.5)">% individuals with autosomal mCA</text>
<polyline points="154.5,1973.1 243.5,1956.4 332.5,1929.4 421.5,1872.8 510.5,1808.8 599.5,1736.7" fill="none" stroke="#b4621e" stroke-width="2.2"/>
<path d="M154.5 1960.4V1985.8M142.7 1960.4h23.6M142.7 1985.8h23.6" stroke="#b4621e" stroke-width="2.2" fill="none"/>
<path d="M243.5 1946.0V1966.7M231.7 1946.0h23.6M231.7 1966.7h23.6" stroke="#b4621e" stroke-width="2.2" fill="none"/>
<path d="M332.5 1917.9V1940.8M320.7 1917.9h23.6M320.7 1940.8h23.6" stroke="#b4621e" stroke-width="2.2" fill="none"/>
<path d="M421.5 1860.5V1885.2M409.7 1860.5h23.6M409.7 1885.2h23.6" stroke="#b4621e" stroke-width="2.2" fill="none"/>
<path d="M510.5 1797.2V1820.4M498.7 1797.2h23.6M498.7 1820.4h23.6" stroke="#b4621e" stroke-width="2.2" fill="none"/>
<path d="M599.5 1721.2V1752.1M587.7 1721.2h23.6M587.7 1752.1h23.6" stroke="#b4621e" stroke-width="2.2" fill="none"/>
<polyline points="154.5,1978.1 243.5,1955.0 332.5,1915.2 421.5,1843.5 510.5,1755.6 599.5,1647.6" fill="none" stroke="#47230d" stroke-width="2.2"/>
<path d="M154.5 1965.5V1990.7M142.7 1965.5h23.6M142.7 1990.7h23.6" stroke="#47230d" stroke-width="2.2" fill="none"/>
<path d="M243.5 1941.2V1968.9M231.7 1941.2h23.6M231.7 1968.9h23.6" stroke="#47230d" stroke-width="2.2" fill="none"/>
<path d="M332.5 1902.1V1928.4M320.7 1902.1h23.6M320.7 1928.4h23.6" stroke="#47230d" stroke-width="2.2" fill="none"/>
<path d="M421.5 1829.6V1857.4M409.7 1829.6h23.6M409.7 1857.4h23.6" stroke="#47230d" stroke-width="2.2" fill="none"/>
<path d="M510.5 1742.1V1769.1M498.7 1742.1h23.6M498.7 1769.1h23.6" stroke="#47230d" stroke-width="2.2" fill="none"/>
<path d="M599.5 1630.6V1664.5M587.7 1630.6h23.6M587.7 1664.5h23.6" stroke="#47230d" stroke-width="2.2" fill="none"/>
<line x1="147.4" y1="1628.4" x2="270.0" y2="1628.4" stroke="#47230d" stroke-width="2.2"/>
<path d="M208.9 1615V1642.3M197 1615h23.6M197 1642.3h23.6" stroke="#47230d" stroke-width="2.2" fill="none"/>
<text x="281.5" y="1639.2" font-size="27">Male</text>
<line x1="147.4" y1="1666.4" x2="270.0" y2="1666.4" stroke="#b4621e" stroke-width="2.2"/>
<path d="M208.9 1652.6V1680.3M197 1652.6h23.6M197 1680.3h23.6" stroke="#b4621e" stroke-width="2.2" fill="none"/>
<text x="281.5" y="1677.2" font-size="27">Female</text>
</svg></body></html>
